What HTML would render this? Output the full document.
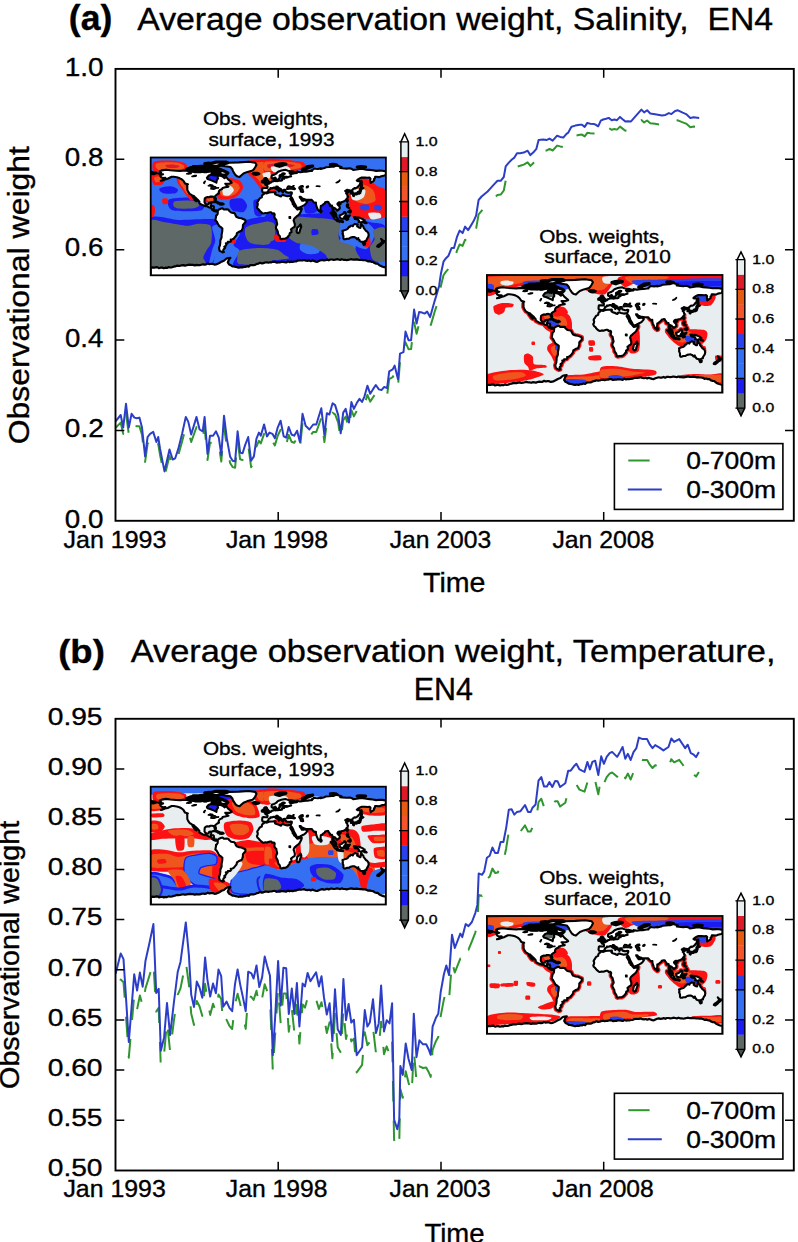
<!DOCTYPE html>
<html><head><meta charset="utf-8"><style>
html,body{margin:0;padding:0;background:#fff;width:798px;height:1242px;overflow:hidden}
svg{display:block}
text{font-family:"Liberation Sans",sans-serif}
</style></head><body>
<svg width="798" height="1242" viewBox="0 0 798 1242" font-family='"Liberation Sans", sans-serif'>
<defs><clipPath id="axa"><rect x="115.5" y="68.9" width="678.3" height="451.9"/></clipPath><clipPath id="axb"><rect x="115.5" y="718.8" width="678.3" height="451.7"/></clipPath></defs>
<rect width="798" height="1242" fill="#fff"/>
<g clip-path="url(#axa)"><path d="M115.6,427.7 120.7,422.6 123.2,433.9 126.0,413.4 128.8,434.0 131.6,422.2 134.4,425.6 136.9,426.3 139.4,426.2 142.0,434.8 145.1,461.9 147.6,443.6 150.1,440.9 153.2,439.6 156.4,448.5 158.2,443.9 160.1,455.2 164.5,476.5 169.5,455.8 172.7,465.3 175.2,464.1 178.3,455.2 182.1,441.4 185.8,427.1 188.3,431.3 191.2,442.0 196.5,427.1 199.6,437.4 202.7,438.9 204.6,426.6 207.5,460.0 210.0,442.7 213.1,442.7 216.0,439.3 218.8,444.9 221.3,461.5 224.0,426.6 226.9,446.6 230.1,462.9 232.6,467.1 235.1,467.7 237.6,440.4 240.1,459.3 242.6,460.0 245.1,452.2 248.2,445.0 251.1,467.2 253.9,463.0 256.4,446.5 258.9,440.9 260.8,443.4 264.1,433.8 267.0,443.8 269.5,440.5 272.4,441.4 274.9,445.4 277.7,435.8 280.6,429.7 283.7,443.5 286.2,444.7 288.7,434.9 291.5,441.7 294.2,442.8 297.1,438.0 299.9,448.7 302.5,423.0 305.6,433.2 309.4,436.7 313.2,432.0 316.3,432.0 321.3,417.8 324.4,442.1 326.9,421.7 329.4,422.7 332.6,412.8 335.1,414.3 338.2,422.7 340.7,439.9 343.2,420.2 345.7,416.6 348.9,429.6 351.4,410.2 353.9,416.4 357.0,410.4 359.5,407.0 362.0,409.7 364.5,404.4 367.4,394.9 370.2,401.6 372.9,397.5 375.8,393.2 378.9,397.1 381.5,397.5 384.2,394.3 387.1,395.4 389.2,379.1 392.7,377.2 394.6,373.4 398.0,386.1 400.0,361.7 403.5,360.4 405.5,342.3 408.5,349.2 411.1,349.1 414.1,322.4 416.6,333.8 419.1,323.6 422.1,323.5 424.6,323.9 427.1,322.0 430.1,327.3 432.1,320.6 434.6,312.0 437.1,304.3 439.1,297.6 441.0,285.5 443.5,275.2 446.0,271.6 448.5,268.9 451.5,261.7 454.0,260.9 457.1,250.3 459.6,244.5 462.6,245.9 465.1,239.7 468.1,242.7 470.6,238.8 473.6,233.9 476.1,228.6 478.6,214.3 481.6,210.8 484.6,208.1 487.6,205.5 490.0,202.8 493.8,198.6 497.5,194.9 500.7,194.6 503.8,190.5 505.7,180.6 508.8,176.6 511.9,173.3 514.4,171.0 517.0,166.6 520.1,165.8 523.8,164.6 527.6,162.3 530.4,165.9 533.2,163.2 536.4,159.4 538.6,151.4 543.3,150.4 546.4,150.6 549.5,148.9 552.7,150.5 557.1,145.6 560.2,146.4 563.3,147.0 566.5,143.3 568.3,142.1 570.0,139.1 571.5,136.7 575.3,135.7 579.8,134.7 582.0,134.6 584.7,136.4 587.3,132.8 590.3,133.3 594.1,133.6 595.9,134.2 598.2,135.6 600.8,130.4 603.1,129.3 606.1,128.7 608.7,127.9 611.7,129.8 614.4,129.0 617.0,129.6 620.0,126.6 622.6,128.6 625.3,130.7 627.9,130.5 631.0,130.7 636.5,124.9 641.4,120.1 644.1,122.4 647.1,120.5 650.3,123.2 655.1,123.8 662.0,124.9 665.5,124.4 668.9,122.8 671.4,123.6 675.1,120.9 677.9,120.3 682.7,122.4 686.1,123.6 690.3,127.2 693.7,126.6 699.2,127.2" fill="none" stroke="#2f962f" stroke-width="2" stroke-dasharray="20.5 19" stroke-dashoffset="0.99" stroke-linejoin="round"/><path d="M115.6,421.3 120.7,415.0 123.2,427.6 126.0,403.8 128.8,427.6 131.6,413.8 134.4,417.6 136.9,418.2 139.4,417.6 142.0,427.6 145.1,456.4 147.6,437.0 150.1,433.8 153.2,431.9 156.4,442.0 158.2,437.0 160.1,448.9 164.5,471.4 169.5,449.5 172.7,459.5 175.2,458.3 178.3,448.9 182.1,433.8 185.8,416.9 188.3,421.9 191.2,434.5 196.5,416.9 199.6,429.5 202.7,431.3 204.6,416.9 207.5,453.9 210.0,435.7 213.1,435.7 216.0,431.3 218.8,437.6 221.3,455.2 224.0,415.7 226.9,438.9 230.1,456.4 232.6,460.8 235.1,461.4 237.6,431.3 240.1,452.6 242.6,453.3 245.1,445.1 248.2,437.0 251.1,460.8 253.9,456.4 256.4,438.9 258.9,432.6 260.8,435.7 264.1,424.4 267.0,436.4 269.5,432.6 272.4,433.8 274.9,438.2 277.7,427.6 280.6,420.7 283.7,436.4 286.2,437.6 288.7,427.0 291.5,434.5 294.2,435.7 297.1,430.7 299.9,442.0 302.5,413.8 305.6,425.8 309.4,429.5 313.2,424.5 316.3,424.5 321.3,408.2 324.4,435.2 326.9,413.2 329.4,414.5 332.6,403.2 335.1,405.1 338.2,415.1 340.7,433.3 343.2,412.6 345.7,408.9 348.9,422.6 351.4,402.0 353.9,408.9 357.0,402.6 359.5,398.8 362.0,402.0 364.5,396.3 367.4,385.7 370.2,393.8 372.9,389.4 375.8,385.0 378.9,389.4 381.5,390.1 384.2,386.9 387.1,388.2 389.2,371.3 392.7,369.4 394.6,365.6 398.0,379.2 400.0,353.7 403.5,352.2 405.5,331.6 408.5,340.2 411.1,340.2 414.1,309.6 416.6,323.6 419.1,312.1 422.1,312.6 424.6,313.6 427.1,311.6 430.1,317.1 432.1,310.1 434.6,301.1 437.1,293.0 439.1,286.0 441.0,273.2 443.5,261.7 446.0,258.2 448.5,255.7 451.5,248.1 454.0,248.1 457.1,236.6 459.6,230.6 462.6,233.1 465.1,226.6 468.1,230.1 470.6,226.1 473.6,221.1 476.1,215.6 478.6,200.0 481.6,196.5 484.6,194.0 487.6,191.5 490.0,188.9 493.8,184.6 497.5,180.8 500.7,180.8 503.8,177.0 505.7,166.4 508.8,162.6 511.9,159.5 514.4,157.6 517.0,153.2 520.1,153.2 523.8,152.6 527.6,150.7 530.4,155.1 533.2,152.6 536.4,148.8 538.6,140.1 543.3,139.4 546.4,140.1 549.5,138.6 552.7,140.7 557.1,135.7 560.2,136.9 563.3,137.6 566.5,133.8 568.3,132.6 570.0,129.3 571.5,126.7 575.3,125.6 579.8,124.7 582.0,124.8 584.7,126.9 587.3,122.9 590.3,123.7 594.1,124.1 595.9,124.8 598.2,126.3 600.8,120.7 603.1,119.5 606.1,118.8 608.7,117.9 611.7,120.3 614.4,119.5 617.0,120.2 620.0,116.9 622.6,119.2 625.3,121.4 627.9,121.2 631.0,121.4 636.5,115.2 641.4,109.6 644.1,112.4 647.1,110.3 650.3,113.5 655.1,114.2 662.0,115.4 665.5,114.9 668.9,113.1 671.4,114.1 675.1,111.0 677.9,110.3 682.7,112.7 686.1,114.1 690.3,117.9 693.7,117.2 699.2,117.9" fill="none" stroke="#2c3ec8" stroke-width="2" stroke-linejoin="round"/></g><g clip-path="url(#axb)"><path d="M115.6,994.8 120.7,979.6 123.5,982.2 125.8,1012.6 128.8,1057.7 134.2,995.2 137.1,1009.3 139.9,995.4 142.7,1006.1 145.5,988.1 149.5,975.5 153.4,962.6 156.2,1011.6 158.7,1007.7 160.8,1066.4 164.1,1053.7 167.0,1021.0 170.1,1051.6 173.9,1020.6 177.7,994.9 180.5,988.4 185.8,961.9 188.9,984.6 191.2,1013.4 194.0,1025.0 196.8,1001.0 199.5,1006.3 202.3,1015.9 205.1,983.8 207.4,999.8 210.2,1014.9 213.0,1003.7 215.9,1012.0 218.5,994.4 221.2,999.1 223.2,1024.8 226.6,1019.9 229.4,1025.8 232.2,1029.0 235.0,1004.2 237.6,993.7 240.1,1003.5 242.9,1015.4 245.7,1028.9 248.2,995.7 251.4,997.0 253.6,1000.0 256.5,990.8 259.3,1005.9 262.1,998.2 264.7,984.3 267.2,991.1 270.0,998.1 272.8,1070.7 275.3,1032.3 278.1,988.4 280.7,1023.8 283.4,993.4 286.2,993.6 288.8,1031.8 291.8,1008.2 294.3,1031.9 296.9,1004.8 299.4,1043.6 302.6,1004.4 305.0,1007.6 307.6,997.9 310.4,1004.8 316.1,999.5 318.9,1008.9 321.5,1002.2 324.0,1017.1 326.8,1032.9 329.6,1022.2 332.4,1058.3 335.0,1013.8 337.7,1047.2 340.9,1052.8 343.4,1008.8 346.0,1039.0 348.6,1027.2 351.3,1041.4 353.9,1038.6 356.7,1072.4 362.1,1064.9 364.8,1032.2 367.4,1045.2 369.8,1041.9 373.0,1027.9 376.0,1053.2 378.7,1047.4 381.1,1021.7 384.0,1054.2 386.7,1046.4 389.5,1054.0 392.1,1040.0 394.1,1140.0 397.3,1149.1 399.3,1140.1 400.4,1089.3 402.8,1097.8 405.7,1071.2 408.5,1082.6 411.7,1093.4 413.8,1050.1 416.5,1081.1 419.4,1066.3 423.0,1068.0 426.2,1067.6 428.6,1071.9 430.7,1076.9 432.6,1049.8 435.9,1041.2 438.3,1036.9 440.7,1016.1 443.9,999.4 446.3,990.7 449.1,998.9 452.0,961.6 454.8,972.5 460.3,958.6 462.3,961.0 465.7,948.3 468.5,949.7 471.9,941.4 475.3,932.6 477.4,924.5 478.7,895.1 482.1,895.8 484.2,892.0 486.9,879.0 489.7,876.6 492.4,868.6 495.1,872.9 497.9,872.6 500.6,861.9 503.4,861.7 506.1,848.7 508.8,831.7 511.6,830.7 514.3,835.1 517.0,832.3 520.5,831.4 525.0,825.4 528.0,831.6 530.7,831.4 532.5,827.3 535.6,824.1 538.5,802.2 541.3,798.7 544.0,806.9 546.9,806.7 549.4,802.5 552.3,806.9 555.1,801.2 557.6,801.3 560.1,806.5 565.3,802.8 568.2,791.1 570.7,791.1 573.9,787.0 576.4,784.6 579.5,789.6 582.0,790.6 584.5,791.7 587.4,782.4 589.9,789.2 592.4,782.1 595.2,780.9 598.3,794.4 601.2,776.8 603.9,783.6 606.7,777.2 609.6,773.7 612.1,772.5 614.6,774.6 617.1,776.8 620.0,772.1 622.6,767.6 625.3,778.4 627.9,773.6 630.7,779.5 633.5,772.0 636.4,768.2 638.9,758.7 642.6,760.0 647.1,759.9 649.9,764.9 652.5,768.0 655.2,765.2 659.5,767.5 663.4,770.2 668.5,766.9 671.3,759.2 674.1,762.3 679.2,759.9 682.6,764.5 685.2,768.1 687.7,765.0 690.8,772.9 693.3,774.0 696.1,776.6 698.9,771.9" fill="none" stroke="#2f962f" stroke-width="2" stroke-dasharray="20.5 19" stroke-dashoffset="24.61" stroke-linejoin="round"/><path d="M115.6,973.7 120.7,953.4 123.5,959.1 125.8,994.6 128.8,1042.0 134.2,974.3 137.1,990.6 139.9,972.6 142.7,986.7 145.5,960.7 149.5,942.7 153.4,924.1 156.2,992.9 158.7,988.9 160.8,1050.8 164.1,1037.4 167.0,1003.0 170.1,1035.1 173.9,1002.5 177.7,972.0 180.5,961.9 185.8,922.4 188.9,955.1 191.2,994.6 194.0,1007.0 196.8,981.6 199.5,987.5 202.3,997.7 205.1,957.6 207.4,979.6 210.2,996.5 213.0,983.6 215.9,993.2 218.5,969.5 221.2,976.2 223.2,1006.7 226.6,1001.6 229.4,1007.8 232.2,1011.2 235.0,984.1 237.6,969.5 240.1,984.1 242.9,997.1 245.7,1011.2 248.2,971.7 251.4,973.4 253.6,978.5 256.5,965.5 259.3,987.0 262.1,977.4 264.7,956.5 267.2,966.1 270.0,975.7 272.8,1055.2 275.3,1014.6 278.1,961.0 280.7,1005.6 283.4,967.8 286.2,968.3 288.8,1014.0 291.8,988.6 294.3,1014.0 296.9,983.0 299.4,1026.4 302.6,983.6 305.0,986.4 307.6,972.9 310.4,981.3 316.1,972.3 318.9,986.4 321.5,976.2 324.0,997.7 326.8,1014.6 329.6,1003.3 332.4,1041.1 335.0,989.2 337.7,1029.2 340.9,1034.9 343.4,979.1 346.0,1020.2 348.6,1003.9 351.3,1022.5 353.9,1019.7 356.7,1055.2 362.1,1047.3 364.8,1010.1 367.4,1026.6 369.8,1022.6 373.0,999.2 376.0,1033.1 378.7,1023.4 381.1,985.6 384.0,1031.4 386.7,1020.2 389.5,1023.4 392.1,1003.3 394.1,1119.6 397.3,1129.2 399.3,1119.6 400.4,1066.1 402.8,1074.9 405.7,1043.5 408.5,1058.8 411.7,1070.1 413.8,1013.7 416.5,1057.2 419.4,1040.3 423.0,1044.3 426.2,1044.3 428.6,1049.2 430.7,1054.8 432.6,1026.6 435.9,1017.8 438.3,1013.7 440.7,992.0 443.9,974.3 446.3,965.4 449.1,975.1 452.0,934.8 454.8,948.0 460.3,933.6 462.3,937.1 465.7,924.1 468.5,926.1 471.9,922.0 475.3,913.1 477.4,904.9 478.7,873.4 482.1,874.8 484.2,871.4 486.9,857.7 489.7,855.7 492.4,847.5 495.1,852.9 497.9,852.9 500.6,842.0 503.4,842.0 506.1,828.3 508.8,809.8 511.6,809.2 514.3,814.6 517.0,811.9 520.5,811.2 525.0,805.0 528.0,811.9 530.7,811.9 532.5,807.7 535.6,804.5 538.5,780.7 541.3,777.0 544.0,786.4 546.9,786.4 549.4,782.0 552.3,787.0 555.1,781.1 557.6,781.3 560.1,787.0 565.3,783.2 568.2,770.7 570.7,770.7 573.9,766.3 576.4,763.8 579.5,769.4 582.0,770.7 584.5,771.9 587.4,761.9 589.9,769.4 592.4,761.9 595.2,760.7 598.3,775.1 601.2,756.3 603.9,763.8 606.7,756.9 609.6,753.1 612.1,751.9 614.6,754.4 617.1,756.9 620.0,751.9 622.6,747.0 625.3,758.8 627.9,753.8 630.7,760.0 633.5,752.1 636.4,748.1 638.9,737.6 642.6,739.1 647.1,739.1 649.9,744.7 652.5,748.1 655.2,745.1 659.5,747.6 663.4,750.4 668.5,747.0 671.3,738.5 674.1,741.9 679.2,739.1 682.6,744.2 685.2,748.1 687.7,744.7 690.8,753.2 693.3,754.3 696.1,757.1 698.9,752.1" fill="none" stroke="#2c3ec8" stroke-width="2" stroke-linejoin="round"/></g>
<path d="M278.2 520.8V512.0M278.2 68.9V77.7M441.0 520.8V512.0M441.0 68.9V77.7M603.7 520.8V512.0M603.7 68.9V77.7M115.5 430.4H124.3M793.8 430.4H785.0M115.5 340.0H124.3M793.8 340.0H785.0M115.5 249.7H124.3M793.8 249.7H785.0M115.5 159.3H124.3M793.8 159.3H785.0" stroke="#000" stroke-width="1.5" fill="none"/><rect x="115.5" y="68.9" width="678.3" height="451.9" fill="none" stroke="#000" stroke-width="1.9"/><path d="M278.2 1170.5V1161.7M278.2 718.8V727.6M441.0 1170.5V1161.7M441.0 718.8V727.6M603.7 1170.5V1161.7M603.7 718.8V727.6M115.5 1120.3H124.3M793.8 1120.3H785.0M115.5 1070.1H124.3M793.8 1070.1H785.0M115.5 1019.9H124.3M793.8 1019.9H785.0M115.5 969.7H124.3M793.8 969.7H785.0M115.5 919.5H124.3M793.8 919.5H785.0M115.5 869.4H124.3M793.8 869.4H785.0M115.5 819.2H124.3M793.8 819.2H785.0M115.5 769.0H124.3M793.8 769.0H785.0" stroke="#000" stroke-width="1.5" fill="none"/><rect x="115.5" y="718.8" width="678.3" height="451.7" fill="none" stroke="#000" stroke-width="1.9"/>
<clipPath id="cm1"><rect x="150.7" y="157.5" width="235.2" height="117.8"/></clipPath><g clip-path="url(#cm1)"><rect x="150.7" y="157.5" width="235.2" height="117.8" fill="#3670f2"/><path d="M149.5 218.8C153.1 213.0 170.8 219.9 178.6 219.9C186.4 219.9 207.0 218.4 212.2 219.1C217.4 219.8 218.9 222.1 219.9 225.2C220.9 228.3 220.5 240.2 219.9 243.6C219.3 247.0 216.3 250.0 215.3 252.7C214.3 255.4 214.3 263.3 212.2 265.0C210.1 266.7 206.3 266.3 198.5 266.5C190.7 266.7 155.6 272.5 149.5 266.5C143.4 260.5 145.9 224.6 149.5 218.8Z" fill="#1b1bf2" /><path d="M239.7 222.2C243.5 220.3 266.2 213.6 270.0 219.1C273.8 224.6 274.6 260.6 270.0 266.5C265.4 272.4 237.4 268.4 233.6 266.5C229.8 264.6 239.7 253.9 239.7 251.2C239.7 248.5 233.6 247.2 233.6 245.1C233.6 243.0 238.9 237.3 239.7 234.4C240.5 231.5 235.9 224.1 239.7 222.2Z" fill="#1b1bf2" /><path d="M265.0 216.1C268.5 210.4 285.0 215.0 293.2 214.6C301.4 214.2 325.1 212.6 330.8 213.0C336.5 213.4 337.0 215.3 338.6 217.7C340.2 220.0 343.3 228.5 343.3 231.8C343.3 235.1 337.4 242.2 338.6 244.3C339.8 246.5 350.1 247.0 352.7 249.0C355.2 251.0 370.0 258.6 359.0 260.0C348.0 261.4 276.8 265.5 265.0 260.0C253.2 254.5 261.5 221.8 265.0 216.1Z" fill="#1b1bf2" /><path d="M352.7 220.8C354.6 218.1 367.4 221.6 371.5 222.4C375.6 223.2 383.8 222.4 385.6 227.1C387.4 231.8 389.3 255.9 385.6 260.0C381.9 264.1 359.6 262.0 355.9 260.0C352.2 258.0 356.3 249.2 355.9 244.3C355.5 239.4 350.8 223.5 352.7 220.8Z" fill="#1b1bf2" /><path d="M160.2 187.9C161.6 187.3 168.7 186.1 170.9 186.3C173.1 186.5 177.2 188.5 177.8 189.4C178.4 190.3 177.1 192.7 175.5 193.2C173.9 193.7 166.8 193.8 164.8 193.5C162.9 193.2 160.5 191.6 159.9 190.9C159.3 190.2 158.8 188.5 160.2 187.9Z" fill="#1b1bf2" /><path d="M169.4 199.3C171.7 198.3 182.3 197.5 186.2 197.5C190.1 197.5 198.4 198.2 200.7 199.0C203.0 199.8 204.8 202.5 204.9 203.9C205.0 205.3 203.8 209.4 201.5 210.3C199.2 211.2 189.8 211.3 186.2 211.3C182.6 211.3 174.8 211.0 172.5 210.3C170.2 209.6 168.6 206.9 168.2 205.5C167.8 204.1 167.2 200.3 169.4 199.3Z" fill="#1b1bf2" /><path d="M230.6 199.6C232.1 198.7 239.9 197.9 242.0 198.6C244.1 199.3 246.9 203.8 247.1 205.5C247.3 207.2 245.3 211.2 243.6 211.9C241.9 212.6 235.3 212.1 233.6 211.3C231.9 210.5 230.2 207.3 229.8 205.8C229.4 204.3 229.1 200.5 230.6 199.6Z" fill="#1b1bf2" /><path d="M207.3 173.3C208.6 172.4 218.1 172.2 219.9 173.0C221.7 173.8 223.0 178.6 221.7 179.5C220.4 180.4 211.0 181.2 209.2 180.4C207.4 179.6 206.0 174.2 207.3 173.3Z" fill="#1b1bf2" /><path d="M304.2 199.6C305.4 197.9 313.5 198.1 315.1 199.6C316.7 201.1 317.9 209.7 316.7 211.4C315.5 213.1 307.3 214.5 305.7 213.0C304.1 211.5 303.0 201.3 304.2 199.6Z" fill="#1b1bf2" /><path d="M321.4 202.0C322.6 200.6 331.0 200.6 332.4 202.0C333.8 203.4 333.6 211.6 332.4 213.0C331.2 214.4 324.4 214.4 323.0 213.0C321.6 211.6 320.2 203.4 321.4 202.0Z" fill="#1b1bf2" /><path d="M301.0 243.5C302.5 242.6 309.6 242.4 312.0 242.8C314.4 243.2 319.0 245.4 319.8 246.7C320.6 248.0 319.9 252.0 318.3 252.9C316.7 253.8 309.6 254.4 307.3 254.0C305.0 253.6 301.0 251.1 300.2 249.8C299.4 248.5 299.5 244.4 301.0 243.5Z" fill="#3670f2" /><path d="M212.2 226.8C212.8 224.9 218.8 223.5 219.9 225.2C221.1 226.9 221.8 237.2 221.4 240.5C221.0 243.8 218.0 248.3 216.8 251.2C215.7 254.1 213.1 262.0 212.2 263.5C211.2 265.0 209.2 265.2 209.2 263.5C209.2 261.8 211.4 252.6 212.2 249.7C213.0 246.8 215.3 243.4 215.3 240.5C215.3 237.6 211.6 228.7 212.2 226.8Z" fill="#3670f2" /><path d="M340.2 222.4C342.0 220.6 349.4 219.3 352.7 219.3C356.0 219.3 364.1 221.0 366.8 222.4C369.5 223.8 373.8 228.0 374.6 230.2C375.4 232.3 374.1 237.2 373.1 239.6C372.1 241.9 368.6 248.0 366.8 249.0C365.0 250.0 360.8 248.1 359.0 247.5C357.2 246.9 354.7 245.1 352.7 244.3C350.7 243.5 345.1 242.6 343.3 241.2C341.5 239.8 339.0 235.8 338.6 233.4C338.2 231.1 338.4 224.2 340.2 222.4Z" fill="#3670f2" /><path d="M149.5 222.5C151.2 216.9 159.7 221.7 163.3 221.9C166.9 222.2 175.6 224.0 178.6 224.5C181.6 225.0 185.2 225.9 187.7 225.8C190.2 225.7 195.7 223.8 198.5 223.7C201.3 223.6 208.2 223.8 209.9 224.9C211.6 226.1 211.8 230.6 211.9 232.9C212.0 235.2 211.6 241.5 211.0 243.6C210.4 245.7 207.9 248.0 206.9 249.7C205.9 251.4 203.8 255.2 203.3 257.3C202.9 259.4 210.0 265.4 203.3 266.5C196.6 267.6 156.2 272.0 149.5 266.5C142.8 261.0 147.8 228.1 149.5 222.5Z" fill="#5e6866" /><path d="M245.8 227.5C247.0 226.2 252.0 224.6 255.0 224.0C258.0 223.4 268.1 220.1 270.0 222.5C271.9 224.9 271.9 240.6 270.0 243.3C268.1 246.0 257.7 244.6 255.0 244.3C252.3 244.1 249.3 242.5 248.1 241.3C246.9 240.1 245.4 236.1 245.1 234.4C244.8 232.7 244.6 228.8 245.8 227.5Z" fill="#5e6866" /><path d="M265.0 222.4C266.2 220.3 273.2 221.8 274.4 224.0C275.6 226.2 275.6 237.5 274.4 239.6C273.2 241.7 266.2 242.6 265.0 240.4C263.8 238.2 263.8 224.5 265.0 222.4Z" fill="#5e6866" /><path d="M239.7 250.5C241.9 249.4 251.2 248.3 255.0 248.2C258.8 248.1 268.1 247.8 270.0 249.7C271.9 251.6 273.8 261.7 270.0 263.5C266.2 265.3 243.8 265.0 239.7 264.2C235.6 263.4 237.4 259.0 237.4 257.3C237.4 255.6 237.5 251.6 239.7 250.5Z" fill="#5e6866" /><path d="M265.0 249.0C266.6 247.7 275.1 249.1 277.5 249.8C279.9 250.5 282.4 253.4 283.8 254.5C285.2 255.6 290.9 257.7 288.5 258.4C286.1 259.1 267.9 261.2 265.0 260.0C262.1 258.8 263.4 250.3 265.0 249.0Z" fill="#5e6866" /><path d="M293.2 216.9C295.8 215.9 307.3 217.4 312.0 217.7C316.7 218.0 327.3 218.5 330.8 219.3C334.3 220.1 339.2 222.2 340.2 224.0C341.2 225.8 338.6 231.2 338.6 233.4C338.6 235.6 338.4 239.6 340.2 241.2C342.0 242.8 350.6 244.3 352.7 245.9C354.8 247.5 356.6 251.9 357.4 253.7C358.2 255.5 362.3 259.2 359.0 260.0C355.7 260.8 335.1 260.8 330.8 260.0C326.5 259.2 326.9 255.5 324.5 253.7C322.1 251.9 315.5 247.3 312.0 245.9C308.5 244.5 299.2 244.0 296.3 242.8C293.4 241.6 289.1 238.7 288.5 236.5C287.9 234.3 291.0 227.9 291.6 225.5C292.2 223.1 290.6 217.9 293.2 216.9Z" fill="#5e6866" /><path d="M373.1 230.2C374.5 228.8 384.0 225.0 385.6 228.7C387.2 232.4 387.2 256.1 385.6 260.0C384.0 263.9 375.1 261.6 373.1 260.0C371.1 258.4 369.7 250.1 369.9 247.5C370.1 244.9 374.2 241.8 374.6 239.6C375.0 237.4 371.7 231.6 373.1 230.2Z" fill="#5e6866" /><path d="M174.3 201.6C175.9 200.9 183.4 200.6 186.2 200.6C189.0 200.6 195.0 201.0 196.6 201.6C198.2 202.2 199.5 204.7 199.2 205.5C198.9 206.3 196.5 207.8 193.9 208.2C191.3 208.6 181.1 208.8 178.6 208.5C176.1 208.2 174.2 207.1 173.7 206.2C173.2 205.3 172.7 202.3 174.3 201.6Z" fill="#5e6866" /><path d="M312.0 229.4C312.7 228.7 316.7 228.8 317.5 229.4C318.3 230.0 319.0 233.4 318.3 234.1C317.6 234.8 312.8 235.5 312.0 234.9C311.2 234.3 311.3 230.1 312.0 229.4Z" fill="#1b1bf2" /><path d="M153.4 161.9C154.7 160.7 160.5 160.6 163.3 160.5C166.1 160.4 172.7 160.4 175.5 160.8C178.3 161.2 184.1 162.6 185.5 163.4C186.9 164.2 187.2 166.6 187.0 167.5C186.8 168.4 184.9 170.4 183.5 170.9C182.1 171.4 177.7 171.4 175.5 171.5C173.3 171.6 168.6 171.7 166.3 171.8C164.0 171.9 158.9 172.3 157.2 172.1C155.5 171.9 153.4 171.3 152.9 170.0C152.4 168.7 152.1 163.1 153.4 161.9Z" fill="#fc1212" /><path d="M156.4 163.4C157.7 162.8 163.5 162.4 166.3 162.3C169.1 162.2 176.3 162.4 178.6 162.9C180.9 163.4 184.0 165.2 184.4 166.0C184.8 166.8 183.6 169.2 181.9 169.7C180.2 170.2 173.6 170.2 170.9 170.3C168.2 170.4 162.1 170.9 160.2 170.6C158.3 170.2 156.4 168.4 155.9 167.5C155.4 166.6 155.1 164.1 156.4 163.4Z" fill="#ef561e" /><path d="M165.6 165.1C166.3 164.7 171.5 164.4 173.2 164.5C174.9 164.6 178.8 165.6 179.3 166.0C179.8 166.4 178.4 167.6 177.0 167.8C175.6 168.0 169.3 168.1 167.9 167.8C166.5 167.5 164.9 165.5 165.6 165.1Z" fill="#dc1a2a" /><path d="M152.3 174.6C153.6 173.9 160.9 173.7 162.5 174.3C164.1 174.9 165.2 178.2 165.1 179.5C165.0 180.8 163.5 183.8 162.1 184.4C160.7 185.1 155.4 185.3 154.1 184.7C152.8 184.1 152.2 180.8 152.0 179.5C151.8 178.2 151.0 175.2 152.3 174.6Z" fill="#fc1212" /><path d="M154.4 177.2C155.0 176.5 159.5 176.3 160.5 176.7C161.5 177.1 162.7 180.0 162.1 180.7C161.5 181.4 156.9 182.6 155.9 182.2C154.9 181.8 153.8 177.9 154.4 177.2Z" fill="#ef561e" /><path d="M177.0 177.9C177.8 177.1 182.1 175.4 183.5 176.4C184.9 177.4 187.0 183.3 188.1 185.6C189.2 187.8 191.2 192.7 192.0 194.4C192.8 196.2 194.3 198.8 194.2 199.6C194.0 200.4 191.8 201.2 190.8 200.6C189.8 200.0 187.5 196.8 186.2 195.1C184.9 193.4 181.8 188.9 180.7 187.4C179.6 185.9 178.0 184.0 177.5 182.8C177.0 181.6 176.2 178.7 177.0 177.9Z" fill="#fc1212" /><path d="M179.3 180.7C179.6 180.2 181.5 178.7 182.4 179.5C183.3 180.3 185.3 185.4 186.2 187.1C187.1 188.8 189.2 192.3 189.3 193.2C189.4 194.1 187.9 194.8 187.1 194.1C186.3 193.4 184.1 189.2 183.2 187.9C182.3 186.6 180.6 184.6 180.1 183.7C179.6 182.8 179.0 181.2 179.3 180.7Z" fill="#ef561e" /><path d="M162.1 199.0C162.6 198.3 166.3 198.1 167.1 198.6C167.9 199.1 168.7 202.5 168.2 203.2C167.7 203.9 164.1 204.7 163.3 204.2C162.5 203.7 161.6 199.7 162.1 199.0Z" fill="#fc1212" /><path d="M149.5 205.1C150.1 203.8 153.4 205.0 154.1 205.8C154.8 206.6 155.1 210.3 155.0 211.6C154.9 212.9 154.2 215.9 153.5 216.5C152.8 217.1 150.0 217.9 149.5 216.5C149.0 215.1 148.9 206.4 149.5 205.1Z" fill="#fc1212" /><path d="M215.3 180.7C216.7 178.2 225.9 177.9 229.0 177.9C232.1 177.9 237.9 179.5 239.7 180.7C241.5 181.8 243.1 185.5 243.1 187.1C243.1 188.7 241.2 191.8 240.0 193.2C238.8 194.6 235.8 197.3 233.9 198.1C232.0 198.9 226.4 199.6 224.4 199.6C222.4 199.6 219.1 200.5 218.0 198.1C216.9 195.7 213.9 183.2 215.3 180.7Z" fill="#fc1212" /><path d="M219.5 182.8C220.7 181.0 228.3 180.8 230.6 181.0C232.9 181.2 236.8 183.1 237.9 184.0C239.0 184.9 240.0 187.3 239.7 188.6C239.4 189.8 236.9 193.0 235.4 194.0C233.9 195.0 229.3 196.5 227.5 196.6C225.7 196.7 222.1 196.8 221.1 195.1C220.1 193.4 218.3 184.6 219.5 182.8Z" fill="#ef561e" /><path d="M222.6 187.4C223.5 186.2 229.2 185.6 230.6 185.9C232.0 186.2 234.1 189.0 233.9 190.2C233.7 191.4 230.6 194.8 229.3 195.4C228.0 196.0 224.3 196.1 223.5 195.1C222.7 194.1 221.7 188.6 222.6 187.4Z" fill="#e8edef" /><path d="M204.3 197.0C205.6 196.5 212.6 196.1 214.0 196.6C215.4 197.1 216.2 200.1 215.6 200.9C215.0 201.7 210.6 202.7 209.2 202.7C207.8 202.7 204.6 201.6 204.0 200.9C203.4 200.2 203.1 197.5 204.3 197.0Z" fill="#fc1212" /><path d="M206.9 198.1C207.5 197.7 212.2 197.5 213.0 197.8C213.8 198.1 214.3 200.2 213.7 200.6C213.1 201.0 209.2 201.5 208.4 201.2C207.6 200.9 206.3 198.5 206.9 198.1Z" fill="#ef561e" /><path d="M241.6 162.6C244.4 161.0 266.4 156.9 270.0 160.8C273.6 164.7 270.7 189.9 270.0 194.0C269.3 198.1 266.1 194.8 264.2 193.2C262.3 191.6 257.1 183.5 255.0 181.0C252.9 178.5 249.1 175.6 247.4 173.3C245.7 171.0 238.8 164.2 241.6 162.6Z" fill="#fc1212" /><path d="M245.8 164.9C248.2 163.8 267.0 160.2 270.0 163.4C273.0 166.7 270.5 187.6 270.0 190.9C269.5 194.2 267.2 191.6 265.7 190.2C264.2 188.8 260.0 181.8 258.1 179.5C256.2 177.2 251.9 173.6 250.4 171.8C248.9 170.0 243.4 166.0 245.8 164.9Z" fill="#ef561e" /><path d="M253.5 200.9C254.3 199.0 259.8 198.5 261.1 199.3C262.4 200.1 264.2 204.9 264.2 207.0C264.2 209.1 262.2 215.2 261.1 216.2C260.0 217.1 255.9 216.5 255.0 214.6C254.1 212.7 252.7 202.8 253.5 200.9Z" fill="#1b1bf2" /><path d="M265.0 159.7C267.4 157.9 279.1 159.4 283.8 159.7C288.5 160.0 299.8 161.0 302.6 162.0C305.4 163.0 306.8 166.4 306.0 167.5C305.2 168.6 299.5 170.1 296.3 170.7C293.1 171.3 284.6 171.8 280.7 172.2C276.8 172.6 267.0 175.4 265.0 173.8C263.0 172.2 262.6 161.5 265.0 159.7Z" fill="#fc1212" /><path d="M265.0 162.0C267.4 160.9 279.5 161.4 283.8 161.6C288.1 161.8 297.4 162.9 299.5 163.6C301.6 164.3 302.4 166.7 301.0 167.5C299.6 168.3 293.0 169.5 288.5 169.9C284.0 170.3 267.9 171.7 265.0 170.7C262.1 169.7 262.6 163.1 265.0 162.0Z" fill="#ef561e" /><path d="M268.1 164.4C269.9 163.8 280.5 163.5 283.8 163.6C287.1 163.7 294.2 164.7 294.8 165.2C295.4 165.7 291.6 167.1 288.5 167.5C285.4 167.9 272.2 168.7 269.7 168.3C267.1 167.9 266.3 165.0 268.1 164.4Z" fill="#dc1a2a" /><path d="M262.7 173.3C263.4 172.6 269.1 171.5 270.0 172.1C270.9 172.7 270.7 177.2 270.0 177.9C269.3 178.6 265.1 178.5 264.2 177.9C263.3 177.3 262.0 174.0 262.7 173.3Z" fill="#e8edef" /><path d="M271.3 166.7C272.9 166.0 284.5 165.8 286.9 166.3C289.2 166.8 291.7 170.0 290.1 170.7C288.5 171.4 276.8 172.7 274.4 172.2C272.0 171.7 269.7 167.4 271.3 166.7Z" fill="#e8edef" /><path d="M268.1 187.1C268.9 186.4 273.9 186.4 274.7 187.1C275.5 187.8 275.5 191.9 274.7 192.6C273.9 193.3 268.9 193.3 268.1 192.6C267.3 191.9 267.3 187.8 268.1 187.1Z" fill="#fc1212" /><path d="M348.0 181.6C350.4 179.4 361.6 177.9 365.3 178.5C369.0 179.1 375.3 184.7 377.8 186.3C380.3 187.9 384.6 187.2 385.6 191.0C386.6 194.8 389.7 213.8 385.6 217.0C381.5 220.2 357.2 218.5 352.7 217.0C348.2 215.5 350.4 207.8 349.6 205.1C348.8 202.4 346.7 198.6 346.5 195.7C346.3 192.8 345.6 183.8 348.0 181.6Z" fill="#fc1212" /><path d="M352.7 187.1C354.0 185.7 361.1 184.4 363.7 184.8C366.2 185.2 371.6 188.2 373.1 190.2C374.6 192.1 376.2 198.7 375.4 200.4C374.6 202.1 369.1 203.7 366.8 203.9C364.6 204.1 359.1 203.0 357.4 202.0C355.7 201.0 354.1 197.6 353.5 195.7C352.9 193.8 351.4 188.5 352.7 187.1Z" fill="#ef561e" /><path d="M350.8 191.0C351.7 189.7 357.2 188.8 359.0 188.7C360.8 188.6 364.7 189.1 365.3 190.2C365.9 191.3 364.7 196.0 363.7 197.3C362.7 198.6 358.9 200.2 357.4 200.4C355.9 200.6 352.7 200.1 351.9 198.9C351.1 197.7 349.9 192.3 350.8 191.0Z" fill="#e8edef" /><path d="M360.6 205.1C361.5 204.4 367.3 204.2 368.4 204.8C369.5 205.4 370.1 209.1 369.2 209.8C368.3 210.5 362.4 210.7 361.3 210.1C360.2 209.5 359.7 205.8 360.6 205.1Z" fill="#2a42ee" /><path d="M374.6 205.1C375.3 204.5 380.1 204.5 380.9 205.1C381.7 205.7 381.9 209.5 381.2 210.1C380.5 210.7 375.8 210.7 375.0 210.1C374.2 209.5 373.9 205.7 374.6 205.1Z" fill="#2a42ee" /><path d="M368.4 213.0C369.4 212.2 377.7 212.4 379.3 213.0C380.9 213.6 381.9 216.9 380.9 217.7C379.9 218.5 373.1 219.9 371.5 219.3C369.9 218.7 367.4 213.8 368.4 213.0Z" fill="#e8edef" /><path d="M274.4 234.9C275.6 234.1 284.0 234.1 285.4 234.9C286.8 235.7 286.9 240.7 285.7 241.5C284.5 242.3 277.4 242.3 276.0 241.5C274.6 240.7 273.2 235.7 274.4 234.9Z" fill="#fc1212" /><path d="M363.4 236.5C364.1 235.3 368.7 235.3 369.6 236.5C370.5 237.7 371.0 244.7 370.3 245.9C369.6 247.1 364.9 247.4 364.0 246.2C363.1 245.0 362.7 237.7 363.4 236.5Z" fill="#fc1212" /><path d="M230.3 238.7C230.9 238.2 234.8 238.2 235.4 238.7C236.0 239.2 236.0 242.5 235.4 243.0C234.8 243.5 231.2 243.5 230.6 243.0C230.0 242.5 229.7 239.2 230.3 238.7Z" fill="#fc1212" /><path d="M159.8 171.3L161.8 170.4L166.1 169.7L170.3 170.3L176.2 170.8L180.1 170.9L184.7 170.5L189.9 171.2L193.2 171.4L197.7 171.6L204.3 171.9L206.2 171.9L209.5 171.6L212.8 170.9L214.7 172.6L212.1 174.5L208.8 175.5L206.9 177.8L207.5 179.1L210.8 180.1L214.7 181.7L216.4 182.7L216.7 180.4L218.0 178.4L217.3 175.6L220.6 175.8L222.6 176.5L224.5 178.1L226.2 176.9L228.1 179.4L231.1 181.7L231.7 182.7L229.1 183.7L225.2 183.7L226.2 184.3L226.5 185.6L228.4 186.6L225.2 187.3L222.6 187.9L222.2 189.0L220.0 189.9L219.0 191.2L218.6 192.5L219.0 193.4L217.3 194.3L215.4 195.8L215.2 197.1L216.0 198.7L215.8 199.9L214.9 199.7L214.3 198.4L214.2 197.1L213.4 196.8L212.1 196.5L210.2 196.6L209.5 197.3L207.5 197.0L206.2 197.4L204.8 198.4L204.6 200.0L204.5 202.3L205.3 203.6L206.6 204.5L208.5 204.3L209.2 202.7L211.5 202.3L211.1 204.3L210.6 205.9L213.4 206.1L213.9 206.9L213.7 208.9L214.7 210.5L216.4 210.2L217.7 210.8L216.4 211.5L215.4 211.5L213.7 210.8L212.3 209.9L211.1 207.9L208.5 207.2L206.6 205.9L205.3 206.1L203.0 205.3L199.4 203.3L199.4 201.7L197.7 199.7L194.8 197.1L193.5 195.8L193.8 196.8L195.1 198.7L196.4 201.3L195.1 200.4L193.8 198.4L192.8 197.1L191.9 195.1L189.6 193.8L188.3 191.9L187.3 189.9L187.3 186.3L187.0 184.7L187.9 184.3L185.0 183.4L183.4 180.7L181.4 179.1L179.4 178.1L176.8 177.3L173.6 176.8L171.6 176.8L169.6 177.8L167.7 178.8L165.1 179.4L162.5 180.4L160.8 180.7L163.8 179.8L165.4 177.9L162.5 178.0L160.8 176.8L160.2 175.8L160.8 175.0L163.1 174.2L159.8 174.1L158.5 173.5L161.2 172.9L159.8 171.3ZM220.6 165.4L223.9 163.7L229.1 162.7L238.9 162.4L248.7 161.8L255.2 162.7L256.5 164.7L255.2 167.3L253.9 169.3L252.6 170.6L247.4 171.9L243.5 173.5L240.9 175.8L239.6 177.1L237.6 176.6L235.6 175.2L234.3 173.2L233.0 171.2L232.4 169.3L230.4 167.0L225.2 166.3L220.6 165.4ZM217.7 210.8L219.0 209.5L221.3 208.5L222.6 208.4L223.9 209.5L226.5 209.4L228.4 209.5L229.1 210.8L231.1 212.5L234.3 213.1L235.0 213.8L235.6 215.4L236.6 217.1L239.2 218.0L241.5 218.3L243.1 219.0L245.4 220.0L245.4 222.3L244.1 223.6L243.0 224.9L242.8 227.9L242.2 229.5L241.5 230.8L239.6 231.5L236.9 233.1L236.6 235.1L235.3 236.7L233.7 238.7L232.4 239.3L230.7 239.6L231.1 240.9L230.4 241.7L227.8 241.9L227.7 243.2L225.8 243.2L226.6 244.2L225.6 245.9L224.2 246.8L225.2 247.8L223.5 249.4L223.2 250.6L223.9 252.1L222.6 252.4L221.3 251.7L219.6 250.8L219.0 247.8L220.0 245.2L220.3 242.6L220.3 240.6L221.6 237.3L221.6 234.7L222.2 231.5L222.4 228.5L221.3 227.5L219.3 226.2L218.5 224.9L216.7 221.6L215.4 220.3L215.7 218.4L216.0 217.1L216.0 215.7L216.8 215.1L217.7 213.8L217.8 211.8L217.7 210.8ZM262.4 188.3L262.1 190.9L262.6 192.2L264.4 192.5L264.7 192.8L267.0 192.3L268.3 191.2L268.5 189.9L270.4 188.9L270.4 188.1L272.2 188.2L273.5 187.6L274.5 187.5L275.2 188.3L276.1 189.0L278.4 190.2L278.8 191.5L279.4 190.9L280.4 190.1L279.1 189.2L277.4 188.6L276.5 187.3L276.3 186.6L277.3 186.6L277.8 186.8L278.4 187.7L280.1 188.6L281.0 189.2L280.9 190.2L282.0 191.5L283.0 192.5L283.3 191.7L284.0 191.2L283.2 189.9L284.0 189.7L285.3 189.7L285.4 190.5L285.8 191.2L286.1 192.2L286.9 192.4L288.2 192.6L289.5 192.8L290.8 192.3L291.8 192.5L291.8 193.5L291.2 194.8L290.6 195.9L291.1 197.1L292.1 198.1L293.1 200.0L293.8 202.0L295.1 204.3L296.3 206.6L296.7 208.1L297.7 208.0L300.0 207.2L302.3 206.1L304.6 204.9L305.5 204.0L306.5 203.0L307.4 201.7L306.5 201.0L305.1 200.1L305.0 199.3L304.6 199.7L303.6 200.6L302.0 200.6L301.8 199.4L301.1 199.4L301.0 198.7L300.0 197.7L299.7 196.8L300.6 196.8L301.3 197.4L301.9 198.2L304.0 199.1L305.5 199.5L308.5 199.9L311.7 199.8L312.4 200.7L313.2 201.7L314.4 202.7L315.9 202.5L315.9 204.0L316.3 205.9L317.2 208.1L318.1 210.2L318.9 211.2L319.4 210.6L320.5 209.7L320.7 207.6L320.8 206.0L322.0 205.5L323.2 204.4L324.8 203.3L325.1 202.3L326.1 202.0L327.4 201.7L328.3 201.9L328.7 202.9L329.9 204.5L329.9 205.9L332.0 205.6L332.3 207.2L332.7 209.5L332.5 211.2L333.8 212.1L333.8 213.8L334.6 214.6L335.9 215.5L336.4 215.4L335.9 213.5L335.1 212.3L334.0 211.5L333.4 210.2L333.2 208.5L333.6 207.6L334.3 208.1L335.3 208.4L335.6 209.2L336.4 209.5L336.9 210.7L337.9 210.2L338.5 209.5L339.6 208.8L339.8 207.6L339.4 206.3L338.0 205.0L337.4 204.0L337.9 203.0L338.9 202.3L339.8 202.3L340.5 203.1L340.8 202.4L342.1 201.9L343.4 201.5L344.7 201.0L346.0 199.9L346.7 198.7L347.7 197.7L348.0 196.4L347.5 196.1L347.4 195.1L347.0 194.1L346.2 193.5L347.0 192.8L348.3 192.2L347.4 191.7L346.0 191.9L345.4 191.2L345.2 190.9L346.0 190.5L347.4 189.7L348.0 189.9L347.7 190.9L348.7 190.4L349.5 190.3L350.2 190.5L349.8 191.5L350.9 191.9L350.9 193.8L351.6 193.8L352.8 193.4L352.9 192.3L352.1 191.1L351.6 190.4L352.9 189.6L353.0 189.2L353.8 188.7L354.5 188.1L355.5 188.4L356.8 187.7L358.1 186.7L358.8 185.6L360.0 184.7L360.1 183.4L360.7 182.2L359.4 181.1L357.8 181.1L356.8 180.5L358.1 179.4L360.1 178.2L361.7 177.6L365.0 177.6L367.6 177.8L369.6 177.6L370.5 178.6L370.2 180.4L370.7 183.0L371.9 182.0L372.8 181.6L374.1 180.5L373.9 179.2L374.8 178.6L375.1 176.8L376.1 176.8L379.4 177.1L381.3 176.2L384.6 175.5L385.2 175.2L385.9 173.9L385.9 171.4L382.6 170.7L379.4 170.6L376.1 170.9L372.8 170.3L369.6 169.9L366.3 169.6L363.0 169.0L359.8 169.0L356.5 169.5L353.2 169.9L351.9 169.0L350.0 168.3L346.7 168.6L342.1 168.2L340.2 168.0L341.5 167.0L338.2 166.0L336.2 165.5L333.6 166.7L331.7 166.7L329.1 167.0L325.8 167.3L324.5 168.0L320.6 169.0L320.9 168.3L318.0 169.0L315.7 168.8L314.0 168.6L313.1 169.6L311.9 170.1L312.1 170.9L310.1 171.0L307.5 171.4L306.2 171.6L303.6 171.7L300.3 172.2L298.4 171.9L297.0 171.6L296.7 172.2L297.0 172.9L294.4 173.2L290.5 174.2L289.5 172.9L291.8 172.7L295.1 172.2L294.8 171.9L291.8 171.2L289.9 171.0L287.9 170.7L285.9 169.9L284.0 170.0L281.4 170.6L279.4 171.2L278.1 171.8L277.1 172.6L276.5 173.5L275.2 174.2L273.9 174.8L271.9 175.5L271.6 176.5L271.6 177.8L272.2 178.4L273.2 178.4L274.8 177.8L275.2 177.5L275.6 177.9L276.1 178.8L276.6 179.4L276.5 179.9L277.6 180.1L277.8 179.6L278.9 179.4L279.1 178.8L279.1 178.1L280.1 177.6L280.6 176.9L279.6 176.5L279.6 175.5L281.0 174.8L282.0 174.2L282.3 173.5L283.7 173.3L284.8 173.7L284.3 174.2L282.7 175.2L282.3 176.5L283.0 176.9L284.6 176.9L286.6 176.8L287.9 177.3L286.6 177.5L284.2 177.5L283.7 178.1L284.1 178.8L282.7 178.7L282.0 179.2L282.2 180.3L281.4 180.6L280.5 180.7L279.1 180.7L277.6 181.1L276.1 180.9L275.5 181.1L275.4 180.5L274.8 180.4L275.2 179.4L275.2 178.7L273.9 179.0L273.6 180.1L274.0 181.1L272.9 181.4L271.6 181.6L271.2 182.2L270.6 182.8L269.3 183.1L269.3 183.5L268.3 183.9L267.3 183.9L267.3 184.5L265.4 184.7L265.5 185.1L266.9 185.6L267.5 186.3L267.5 187.3L267.3 188.0L265.7 188.0L263.1 187.8L262.4 188.3ZM150.7 173.9L154.0 174.2L155.6 173.5L156.9 173.2L155.9 172.6L153.3 172.2L150.7 171.4ZM264.6 183.6L266.0 183.4L269.2 182.9L269.4 181.9L268.5 181.5L268.1 180.7L267.3 180.0L266.9 178.7L265.9 178.6L266.3 178.0L265.0 178.0L264.2 178.8L264.6 179.6L264.3 180.1L265.2 180.5L266.1 180.5L266.3 181.1L266.3 181.5L265.3 181.8L264.9 182.6L266.1 182.8L264.6 183.6ZM264.4 182.2L264.2 181.1L264.5 180.7L263.5 180.2L262.8 180.5L262.9 180.9L261.8 181.2L261.8 182.3L262.9 182.6L264.4 182.2ZM253.9 174.5L252.6 173.5L253.9 172.9L257.8 172.9L259.4 173.7L258.8 174.3L256.1 174.9L253.9 174.5ZM264.4 193.0L267.0 193.4L269.0 192.5L271.6 192.3L273.9 192.3L275.4 192.1L275.6 192.8L275.0 193.8L275.4 194.3L276.6 194.9L278.2 195.3L280.1 196.2L281.1 196.4L281.4 195.6L282.7 194.9L284.6 195.6L287.2 196.2L289.3 195.9L290.6 195.9L291.1 197.1L290.7 198.2L290.2 198.7L291.5 200.8L292.6 202.7L292.7 204.2L293.5 204.6L294.2 206.3L295.2 206.9L296.1 208.1L296.6 208.6L297.4 209.6L299.3 209.1L301.8 208.6L301.6 209.5L301.2 210.8L300.3 212.5L299.7 213.7L298.7 214.8L297.0 216.1L295.6 217.4L294.6 218.2L293.9 219.5L293.6 220.7L294.1 221.6L294.4 223.1L294.8 223.6L294.8 225.7L294.5 226.9L292.7 227.9L292.0 228.7L291.0 229.4L291.4 230.8L291.5 232.1L289.9 233.0L289.6 233.5L289.5 235.1L288.7 235.6L287.9 236.9L286.6 238.0L285.5 238.5L285.2 238.7L283.0 238.7L281.4 239.2L280.3 238.7L280.2 237.6L279.7 236.0L278.9 235.1L278.2 234.1L277.7 231.3L277.1 230.1L276.0 228.2L275.9 227.3L276.3 225.9L277.2 224.3L276.9 222.8L276.3 220.3L276.3 219.7L275.5 219.0L274.5 217.7L274.4 216.1L274.7 214.8L274.6 214.1L273.9 213.3L272.2 213.6L271.2 212.3L270.1 212.3L268.3 212.8L267.0 213.3L265.4 213.0L263.4 213.5L262.4 213.2L260.9 211.9L259.7 210.8L259.4 210.2L258.5 209.3L257.4 208.3L256.9 206.8L257.5 205.9L257.8 204.3L257.7 203.6L257.2 202.7L257.5 201.8L258.5 200.4L259.3 199.0L260.1 198.1L261.8 197.4L261.9 195.9L262.7 194.7L263.9 194.1L264.4 193.0ZM300.5 224.3L301.3 226.3L300.8 227.9L300.0 230.1L299.3 232.6L298.0 233.2L297.0 232.6L296.6 231.1L296.9 229.8L297.3 227.5L298.7 226.7L299.7 225.4L300.5 224.3ZM342.5 230.8L342.9 233.4L342.5 233.7L343.4 236.0L343.4 238.3L344.1 239.3L345.4 239.3L346.7 238.7L349.0 238.6L350.6 237.5L352.6 237.1L354.1 237.0L356.0 237.9L357.1 239.2L358.3 238.0L358.3 239.6L359.5 240.0L359.6 240.9L360.4 241.5L362.1 241.8L363.9 241.9L365.0 241.1L366.3 240.9L366.4 240.0L367.1 238.7L368.2 236.9L368.7 235.1L368.3 233.1L366.8 231.2L366.0 231.0L364.7 229.2L363.7 228.0L363.2 226.2L362.1 225.6L361.4 223.4L360.9 224.8L360.9 226.2L360.4 227.9L359.4 227.8L358.2 227.0L357.1 226.3L357.7 224.4L356.5 224.3L354.9 223.9L354.2 224.4L353.3 225.0L352.9 226.2L351.8 225.8L350.6 225.7L349.6 227.1L348.7 227.1L347.9 228.6L346.6 229.5L345.1 229.9L343.2 230.7L342.5 230.8ZM362.8 243.0L365.2 243.2L365.0 244.5L363.7 244.9L362.8 243.0ZM381.1 238.9L382.3 240.0L383.2 240.7L384.9 241.1L383.9 242.3L382.6 243.6L382.3 242.6L381.8 242.1L382.4 240.9L381.1 238.9ZM381.2 242.9L382.2 243.7L381.2 244.9L380.0 245.9L378.7 246.9L377.1 246.5L377.7 245.4L379.7 244.2L381.2 242.9ZM353.8 194.1L354.9 193.2L356.8 193.1L357.7 192.1L359.4 191.5L359.8 189.9L360.7 189.3L361.1 190.5L360.4 192.2L360.3 193.0L359.6 193.5L359.0 193.8L357.8 193.8L356.5 194.5L354.9 194.0L353.8 194.1ZM353.0 194.6L353.9 194.2L354.3 195.1L353.9 196.1L353.1 195.8L353.0 194.6ZM359.8 189.2L360.6 188.1L360.9 186.7L362.1 187.4L363.4 188.1L361.9 188.9L360.7 188.6L359.8 189.2ZM361.1 186.3L362.1 185.8L361.7 184.0L361.9 182.0L361.4 180.9L361.1 183.0L361.1 186.3ZM346.8 201.3L347.7 199.8L347.9 200.4L347.4 202.0L346.8 201.3ZM339.3 203.8L340.5 203.2L340.8 203.6L340.2 204.4L339.3 204.3L339.3 203.8ZM320.5 212.1L320.4 210.8L320.7 210.0L321.4 210.8L321.7 211.5L321.4 212.3L320.6 212.5L320.5 212.1ZM330.6 212.8L332.0 213.0L333.8 214.8L336.2 217.1L337.6 218.4L337.6 220.2L336.6 220.3L334.9 219.0L333.6 217.1L332.7 215.3L330.6 212.8ZM337.0 220.9L338.9 220.5L340.5 220.9L341.8 220.9L343.1 221.5L343.1 222.1L340.8 221.8L338.9 221.5L337.2 221.0L337.0 220.9ZM339.5 215.4L339.8 217.1L340.5 218.4L342.8 218.7L344.4 218.7L344.1 217.1L345.3 215.7L345.9 213.1L345.1 212.1L344.1 212.1L343.7 213.1L342.5 214.1L341.1 214.8L339.5 215.4ZM346.4 220.0L346.0 218.7L345.9 218.2L346.4 216.2L346.7 215.9L349.0 215.9L350.0 215.4L349.3 216.2L347.4 216.1L347.4 217.1L348.9 217.0L347.7 217.6L348.3 219.3L347.7 219.5L347.0 218.3L347.0 220.0L346.4 220.0ZM353.9 217.1L355.8 217.1L356.5 218.6L358.1 217.4L360.4 218.1L363.0 219.2L363.7 220.0L364.7 220.3L364.3 221.5L366.0 222.6L366.6 223.3L364.3 222.9L363.4 221.6L362.1 221.8L361.7 222.4L360.4 222.4L359.1 221.7L358.5 221.9L359.0 221.0L358.5 219.9L356.8 219.3L354.9 219.0L354.5 218.2L355.4 217.8L354.5 217.7L353.9 217.1ZM346.7 205.9L347.1 204.3L348.1 204.3L348.2 205.6L347.7 206.0L348.0 207.2L349.3 207.9L349.0 208.2L347.7 207.4L347.1 207.0L346.7 205.9ZM348.0 211.8L349.1 211.2L350.3 210.0L350.9 211.5L350.6 212.3L350.0 212.7L349.3 212.3L348.0 211.8ZM212.8 202.1L214.7 201.2L216.0 201.3L218.0 202.2L219.8 203.1L217.7 203.4L217.3 202.8L215.7 202.2L214.4 201.9L212.8 202.1ZM219.6 204.4L220.7 203.4L222.6 203.4L223.7 204.2L221.7 204.8L219.6 204.4Z" fill="#fff" stroke="#000" stroke-width="2.1" stroke-linejoin="round"/><path d="M216.0 168.3L221.3 169.9L224.5 171.2L227.8 172.9L226.2 174.8L222.6 175.3L220.0 174.2L217.3 174.2L220.0 172.6L216.0 170.9L212.1 170.3L210.8 168.6L216.0 168.3ZM209.5 163.7L216.0 162.1L225.8 162.1L227.8 162.7L221.3 164.7L217.3 166.3L209.5 166.0L209.5 163.7ZM191.2 168.6L199.7 168.3L203.0 169.9L201.0 171.6L195.1 171.6L191.2 170.6L191.2 168.6ZM186.6 169.3L191.2 167.6L193.2 168.3L189.9 169.6L186.6 169.3ZM205.6 166.0L216.0 166.3L216.0 167.6L208.2 167.6L205.6 166.0ZM193.2 166.7L199.7 166.3L204.3 167.3L197.7 167.5L193.2 166.7ZM204.9 168.3L209.5 168.1L210.2 169.6L206.2 169.6L204.9 168.3ZM212.1 173.2L216.0 173.9L215.4 174.8L212.1 174.5L212.1 173.2ZM275.5 165.0L278.8 164.0L282.7 163.7L285.9 164.0L282.0 165.4L279.4 166.3L277.4 165.8L275.5 165.0ZM302.3 169.6L304.9 168.3L307.5 166.7L312.7 166.0L310.1 167.1L306.2 168.6L304.9 170.1L302.3 169.6ZM330.4 164.7L333.6 164.4L336.9 165.0L333.6 165.5L330.4 164.7ZM357.2 167.0L361.1 166.7L365.6 167.0L362.4 167.4L357.2 167.0ZM204.9 163.7L209.5 163.1L211.5 164.0L208.2 165.0L204.9 163.7ZM201.7 168.3L204.3 168.1L204.9 169.3L202.3 169.4L201.7 168.3ZM203.6 170.9L205.6 170.7L206.2 171.6L204.3 171.7L203.6 170.9ZM199.7 166.3L204.3 166.0L204.9 167.0L201.0 167.1L199.7 166.3Z" fill="#fff" stroke="#000" stroke-width="3.2" stroke-linejoin="round"/><path d="M286.6 189.2L287.2 187.3L288.2 186.0L290.2 186.3L291.2 186.8L292.5 186.8L293.1 185.6L294.1 185.6L293.1 186.9L295.4 188.9L294.4 189.6L291.8 189.1L289.2 189.0L287.2 189.4ZM299.0 187.3L300.6 186.0L302.9 185.6L303.3 186.9L301.6 187.3L301.9 188.6L302.9 189.2L303.3 190.9L303.6 192.0L302.3 192.3L300.6 191.9L300.3 190.2L299.5 189.0L299.0 188.3ZM306.4 187.7L307.8 187.6L308.5 186.6L308.2 185.9L306.8 186.3L306.4 186.9ZM316.3 186.2L317.3 185.9L319.9 186.1L319.9 186.6L318.0 186.4L316.6 186.4ZM336.1 182.6L337.2 182.0L338.5 181.4L339.8 180.1L340.0 180.4L338.9 181.7L337.9 182.4L336.6 182.7ZM208.2 185.8L210.2 184.7L212.8 185.3L213.1 186.0L210.8 186.0ZM210.8 188.9L211.5 186.3L213.4 186.3L215.1 186.6L216.0 187.3L216.4 187.9L218.6 187.6L218.3 188.1L216.7 188.1L214.1 189.2L212.1 189.1ZM186.6 173.9L189.2 172.6L191.2 172.6L191.2 173.5L188.6 174.0ZM191.9 176.5L194.5 175.5L196.4 175.5L195.8 176.2L193.2 176.6ZM204.3 183.4L205.3 181.2L204.6 181.4L203.6 183.0ZM289.1 216.7L290.5 216.7L290.5 218.4L289.2 218.2ZM287.9 177.1L289.5 176.2L291.2 175.8L291.5 176.5L289.2 177.1ZM282.7 178.1L284.0 177.1L287.2 177.0L287.2 177.5L284.0 177.7Z" fill="#111" stroke="#000" stroke-width="1.4" stroke-linejoin="round"/><path d="M150.7 267.9L152.3 267.4L154.0 267.7L155.6 267.4L157.2 267.1L158.9 268.2L160.5 267.7L162.1 267.6L163.8 268.2L165.4 267.7L167.0 267.9L168.7 267.1L170.3 267.5L171.9 267.3L173.6 266.7L175.2 266.4L176.8 265.7L178.5 265.9L180.1 265.8L181.7 265.3L183.4 265.1L185.0 265.6L186.6 265.2L188.3 264.9L189.9 264.6L191.5 264.9L193.2 264.9L194.8 265.5L196.4 264.9L198.1 265.1L199.7 265.2L201.3 264.7L203.0 264.3L204.6 264.6L206.2 264.4L207.9 263.5L209.5 264.2L211.1 263.8L212.8 263.9L214.4 264.6L216.0 264.4L217.7 263.8L219.3 263.0L221.6 261.6L223.9 260.8L226.5 258.5L228.4 258.0L230.4 257.8L229.1 259.2L227.8 262.5L229.1 264.5L230.7 265.2L232.4 266.4L234.0 266.5L235.6 266.9L237.3 267.3L238.9 267.6L240.5 267.2L242.2 267.5L243.8 266.9L245.4 266.9L247.1 266.2L248.7 266.6L250.3 265.2L252.0 265.1L253.6 265.1L255.2 264.8L256.9 263.9L258.5 263.6L260.1 262.8L261.8 263.4L263.4 263.1L265.0 262.5L266.7 262.3L268.3 262.7L269.9 262.3L271.6 262.3L273.2 261.8L274.8 261.7L276.5 262.6L278.1 262.3L279.7 262.4L281.4 261.9L283.0 261.9L284.6 262.2L286.3 262.5L287.9 261.4L289.5 262.1L291.2 261.6L292.8 261.9L294.4 261.5L296.1 261.4L297.7 260.6L299.3 260.5L301.0 260.5L302.6 260.3L304.2 260.0L305.9 260.7L307.5 260.9L309.1 260.5L310.8 261.2L312.4 260.4L314.0 261.0L315.7 261.6L317.3 261.8L318.9 261.0L320.6 260.3L322.2 259.9L323.8 260.4L325.5 260.2L327.1 259.6L328.7 260.3L330.4 259.5L332.0 259.5L333.6 259.8L335.3 259.6L336.9 259.2L338.5 259.5L340.2 259.9L341.8 259.2L343.4 259.8L345.1 259.8L346.7 260.2L348.3 259.8L350.0 259.5L351.6 259.2L353.2 259.7L354.9 259.7L356.5 259.4L358.1 259.6L359.8 260.0L361.4 259.9L363.0 260.2L364.7 260.2L366.3 260.5L367.9 261.4L369.6 261.1L371.2 261.8L372.8 261.8L374.5 263.0L376.1 263.6L377.7 263.7L379.4 265.3L381.0 266.0L382.6 266.7L384.3 267.2L385.9 267.4L385.9 278.6L150.7 278.6Z" fill="#fff" stroke="#000" stroke-width="2.2" stroke-linejoin="round"/></g><rect x="150.7" y="157.5" width="235.2" height="117.8" fill="none" stroke="#000" stroke-width="1.8"/><clipPath id="cm2"><rect x="486.9" y="275.0" width="235.6" height="117.6"/></clipPath><g clip-path="url(#cm2)"><rect x="486.9" y="275.0" width="235.6" height="117.6" fill="#e8edef"/><path d="M554.0 328.2L555.3 326.9L557.6 326.0L558.9 325.8L560.2 326.9L562.8 326.8L564.8 326.9L565.4 328.2L567.4 329.9L570.7 330.5L571.3 331.2L572.0 332.8L573.0 334.5L575.6 335.4L577.9 335.7L579.5 336.4L581.8 337.4L581.8 339.7L580.5 341.0L579.3 342.3L579.2 345.2L578.5 346.9L577.9 348.2L575.9 348.8L573.3 350.5L573.0 352.4L571.7 354.1L570.0 356.0L568.7 356.7L567.1 357.0L567.4 358.3L566.7 359.1L564.1 359.3L564.0 360.6L562.2 360.6L562.9 361.6L562.0 363.2L560.5 364.2L561.5 365.2L559.9 366.8L559.5 368.0L560.2 369.4L558.9 369.7L557.6 369.1L555.9 368.1L555.3 365.2L556.3 362.5L556.6 359.9L556.6 358.0L557.9 354.7L557.9 352.1L558.6 348.8L558.8 345.9L557.6 344.9L555.6 343.6L554.8 342.3L553.0 339.0L551.7 337.7L552.0 335.8L552.3 334.5L552.3 333.1L553.1 332.5L554.0 331.2L554.1 329.2L554.0 328.2ZM637.0 341.6L637.7 343.7L637.3 345.2L636.4 347.5L635.8 350.0L634.5 350.5L633.5 350.0L633.0 348.5L633.4 347.2L633.8 344.9L635.1 344.1L636.1 342.8L637.0 341.6ZM667.1 330.2L668.5 330.4L670.3 332.2L672.8 334.5L674.1 335.8L674.1 337.6L673.1 337.7L671.5 336.4L670.1 334.5L669.2 332.7L667.1 330.2ZM673.5 338.2L675.4 337.9L677.0 338.2L678.3 338.2L679.6 338.9L679.6 339.5L677.3 339.2L675.4 338.9L673.7 338.4L673.5 338.2ZM676.0 332.8L676.4 334.5L677.0 335.8L679.3 336.1L680.9 336.1L680.6 334.5L681.8 333.1L682.4 330.5L681.6 329.5L680.6 329.6L680.2 330.5L679.0 331.5L677.7 332.2L676.0 332.8ZM682.9 337.4L682.6 336.1L682.4 335.6L682.9 333.6L683.2 333.3L685.5 333.3L686.5 332.8L685.9 333.6L683.9 333.5L683.9 334.5L685.4 334.4L684.2 335.0L684.9 336.7L684.2 336.9L683.6 335.7L683.5 337.4L682.9 337.4ZM683.2 323.3L683.6 321.7L684.7 321.7L684.7 323.0L684.3 323.4L684.5 324.7L685.9 325.3L685.5 325.6L684.2 324.8L683.6 324.5L683.2 323.3ZM684.5 329.2L685.7 328.6L686.8 327.4L687.5 328.9L687.2 329.7L686.5 330.1L685.9 329.7L684.5 329.2ZM549.1 319.5L551.0 318.6L552.3 318.7L554.3 319.6L556.1 320.5L554.0 320.8L553.7 320.2L552.0 319.6L550.7 319.3L549.1 319.5ZM555.9 321.8L557.1 320.8L558.9 320.9L560.0 321.6L558.0 322.2L555.9 321.8ZM657.0 329.6L656.9 328.2L657.2 327.4L657.9 328.2L658.2 328.9L657.8 329.7L657.1 329.9L657.0 329.6ZM675.8 321.3L677.0 320.7L677.3 321.0L676.7 321.8L675.8 321.7L675.8 321.3ZM683.3 318.8L684.2 317.3L684.5 317.8L683.9 319.4L683.3 318.8ZM540.9 317.5L540.8 319.8L541.5 321.1L542.9 321.9L544.8 321.7L545.5 320.1L547.8 319.8L547.4 321.7L546.9 323.3L549.7 323.5L550.2 324.3L550.1 326.3L551.0 327.9L552.7 327.6L554.0 328.2L552.7 328.9L551.7 328.9L550.1 328.2L548.6 327.3L547.4 325.3L544.8 324.7L542.9 323.3L541.5 323.5L539.3 322.7L535.7 320.7L535.7 319.1M535.7 319.1L534.0 317.1L531.1 314.5L529.8 313.2L530.1 314.2L531.4 316.2L532.7 318.8L531.4 317.8L530.1 315.8L529.1 314.5L528.1 312.6L525.8 311.3L524.5 309.3L523.5 307.3L523.5 303.7M558.9 305.4L558.6 306.5L556.3 307.3L555.3 308.6L555.0 310.0L555.3 310.8L553.7 311.7L551.7 313.2L551.6 314.5M638.2 326.0L638.1 326.9L637.6 328.2L636.8 329.9L636.1 331.1L635.1 332.2L633.5 333.5L632.1 334.8L631.0 335.6L630.4 336.9L630.1 338.0L630.6 339.0L630.8 340.5L631.2 341.0L631.3 343.1L630.9 344.3L629.2 345.3L628.5 346.1L627.5 346.7L627.8 348.2L627.9 349.5L626.3 350.4L626.0 350.9L626.0 352.4L625.2 353.0L624.3 354.2L623.0 355.4L622.0 355.8L621.6 356.0L619.4 356.0L617.8 356.5L616.7 356.0L616.6 355.0L616.1 353.4L615.4 352.5L614.6 351.5L614.1 348.6L613.5 347.5L612.4 345.6L612.3 344.7L612.7 343.3L613.6 341.6L613.3 340.2L612.7 337.7L612.7 337.1L611.9 336.3L610.9 335.1L610.8 333.5M648.2 317.2L648.9 318.1L649.7 319.1L650.8 320.1L652.3 319.9L652.3 321.4L652.8 323.3L653.7 325.5L654.6 327.6L655.4 328.6L655.9 328.0L657.0 327.1L657.2 325.0L657.3 323.4L658.5 323.0L659.7 321.8L661.3 320.7L661.6 319.8L662.6 319.4L663.9 319.1L664.8 319.3L665.2 320.3L666.4 321.9L666.4 323.3L668.5 323.0L668.8 324.7L669.2 326.9L669.0 328.6L670.3 329.6L670.3 331.2L671.1 332.0L672.4 333.0L672.9 332.8L672.4 330.9L671.6 329.7L670.5 328.9L669.9 327.6L669.7 326.0L670.1 325.0L670.8 325.5L671.8 325.8L672.1 326.6L673.0 326.9L673.4 328.1L674.4 327.6L675.1 326.9L676.2 326.2L676.3 325.0L675.9 323.7L674.5 322.4L673.9 321.4L674.4 320.4L675.4 319.8L676.4 319.8L677.0 320.5L677.3 319.8L678.7 319.3L680.0 318.9L681.3 318.4L682.6 317.3L683.2 316.2L684.2 315.2M701.2 346.5L700.2 345.4L699.8 343.6L698.6 342.9L698.0 340.8L697.5 342.2L697.4 343.6L697.0 345.2L696.0 345.2L694.8 344.4L693.6 343.7L694.2 341.8L693.0 341.7L691.5 341.3L690.8 341.8L689.8 342.4L689.5 343.6L688.3 343.1L687.2 343.1L686.1 344.5L685.2 344.5L684.5 346.0" fill="none" stroke="#fc1212" stroke-width="4.5" stroke-linejoin="round" stroke-linecap="round"/><path d="M487.1 275.8C502.0 273.4 591.1 273.6 606.0 275.8C620.9 278.0 607.5 291.2 606.0 293.4C604.5 295.6 597.1 294.0 594.1 293.4C591.1 292.8 584.9 289.7 581.8 288.8C578.7 287.9 573.2 287.1 569.6 286.5C566.0 285.9 557.8 284.4 552.8 284.2C547.8 284.0 534.7 284.6 529.9 285.0C525.1 285.4 518.2 286.5 514.6 287.3C511.0 288.1 503.5 290.2 500.8 291.1C498.1 292.1 494.9 294.4 493.2 294.9C491.5 295.4 487.9 297.3 487.1 294.9C486.3 292.5 472.2 278.2 487.1 275.8Z" fill="#fc1212" /><path d="M487.8 276.9C502.1 275.2 588.6 275.1 603.2 276.6C617.8 278.1 605.9 287.1 604.8 288.8C603.7 290.5 597.0 290.7 594.1 290.3C591.2 289.9 585.2 286.8 581.8 285.8C578.4 284.9 571.2 283.2 566.6 282.7C562.0 282.2 550.8 281.5 545.2 281.5C539.7 281.5 527.0 282.1 522.2 282.7C517.4 283.3 510.1 285.7 506.9 286.5C503.6 287.3 498.5 288.7 496.2 289.1C493.9 289.5 489.7 291.5 488.6 290.0C487.6 288.5 473.5 278.6 487.8 276.9Z" fill="#ef561e" /><path d="M500.8 281.5C501.5 281.1 505.3 280.6 506.9 280.6C508.5 280.6 512.7 281.3 513.4 281.8C514.1 282.3 513.2 284.0 512.4 284.5C511.6 285.0 508.3 285.5 506.9 285.5C505.5 285.5 501.9 284.7 501.1 284.2C500.3 283.7 500.1 281.9 500.8 281.5Z" fill="#e8edef" /><path d="M487.1 283.9C487.9 283.4 492.7 284.1 493.5 284.8C494.3 285.5 494.3 288.6 493.5 289.1C492.7 289.6 487.9 289.8 487.1 289.1C486.3 288.5 486.3 284.4 487.1 283.9Z" fill="#2a42ee" /><path d="M523.7 281.5C526.2 280.6 539.8 280.5 545.2 280.6C550.6 280.8 563.8 281.6 566.6 282.7C569.4 283.8 569.3 288.1 567.8 289.1C566.3 290.1 558.1 290.7 554.3 290.7C550.5 290.7 541.1 289.5 537.5 289.1C533.9 288.7 527.0 288.6 525.3 287.6C523.6 286.7 521.2 282.4 523.7 281.5Z" fill="#2a42ee" /><path d="M544.4 292.6C545.3 292.1 551.6 292.1 552.8 292.6C553.9 293.1 554.5 296.0 553.6 296.5C552.7 297.0 546.4 297.3 545.2 296.8C544.1 296.3 543.5 293.1 544.4 292.6Z" fill="#5e6866" /><path d="M603.3 276.7C605.6 275.9 620.2 275.8 622.9 276.4C625.5 277.0 625.5 280.5 624.5 281.4C623.5 282.3 617.6 283.5 615.1 283.7C612.6 283.9 605.6 283.9 604.1 283.0C602.6 282.1 600.9 277.5 603.3 276.7Z" fill="#e8edef" /><path d="M622.9 275.9C635.0 274.5 709.3 275.3 721.6 275.9C733.9 276.5 730.8 279.9 721.6 280.6C712.4 281.3 659.0 281.0 648.0 281.4C637.0 281.8 636.8 283.0 633.9 283.7C631.0 284.4 625.9 287.9 624.5 286.9C623.1 285.9 610.8 277.3 622.9 275.9Z" fill="#fc1212" /><path d="M626.1 276.7C630.4 275.8 662.1 276.0 666.8 276.4C671.5 276.8 666.8 279.0 663.7 279.5C660.6 280.0 645.6 280.1 641.7 280.6C637.8 281.1 634.2 283.8 632.3 283.3C630.3 282.8 621.8 277.6 626.1 276.7Z" fill="#ef561e" /><path d="M632.3 280.6C635.2 279.7 652.5 279.8 663.7 279.5C674.9 279.2 714.4 277.5 721.6 278.6C728.8 279.7 724.9 286.8 721.6 288.0C718.3 289.2 702.2 288.2 695.0 288.0C687.8 287.8 670.6 286.6 663.7 286.4C656.9 286.2 644.1 287.1 640.2 286.4C636.3 285.7 629.4 281.5 632.3 280.6Z" fill="#2a42ee" /><path d="M676.2 281.7C680.7 281.1 715.9 280.6 721.6 281.1C727.3 281.6 726.1 285.2 721.6 285.8C717.1 286.4 691.3 286.3 685.6 285.8C679.9 285.3 671.7 282.3 676.2 281.7Z" fill="#1b1bf2" /><path d="M694.7 292.1C696.7 290.9 708.0 289.9 710.6 290.5C713.2 291.1 715.7 295.3 715.7 297.1C715.8 298.9 712.8 304.1 711.0 305.2C709.2 306.2 703.3 306.1 701.3 305.5C699.3 304.9 695.8 302.2 695.0 300.5C694.2 298.8 692.8 293.4 694.7 292.1Z" fill="#fc1212" /><path d="M696.6 293.6C698.0 292.7 707.3 292.1 709.1 292.7C710.9 293.3 711.6 297.2 711.0 298.3C710.4 299.4 706.0 301.6 704.4 301.8C702.8 302.0 699.1 301.2 698.1 300.2C697.1 299.2 695.2 294.5 696.6 293.6Z" fill="#2a42ee" /><path d="M540.3 311.4C542.3 310.0 552.4 309.5 555.9 309.9C559.4 310.3 566.4 312.9 568.4 314.5C570.4 316.1 571.6 320.1 571.9 322.5C572.1 324.9 572.4 332.7 570.4 334.1C568.4 335.6 559.0 334.8 555.9 334.1C552.8 333.5 547.2 330.5 545.2 328.9C543.2 327.2 540.6 323.1 540.0 320.9C539.4 318.7 538.3 312.8 540.3 311.4Z" fill="#fc1212" /><path d="M543.6 314.8C544.4 313.7 551.6 313.2 554.3 313.6C557.0 314.0 563.4 316.4 565.0 317.9C566.6 319.4 567.9 324.5 566.9 325.5C565.9 326.5 559.7 326.1 557.4 325.8C555.1 325.5 549.9 324.2 548.2 322.8C546.5 321.4 542.8 315.9 543.6 314.8Z" fill="#ef561e" /><path d="M545.2 319.4C546.2 318.8 552.5 319.4 554.3 320.0C556.0 320.6 559.4 323.2 559.2 324.0C559.0 324.8 554.4 326.6 552.8 326.7C551.2 326.8 547.3 325.8 546.4 324.9C545.5 324.0 544.2 320.0 545.2 319.4Z" fill="#2a42ee" /><path d="M549.7 308.4C550.7 307.2 561.2 306.3 563.5 306.9C565.8 307.5 568.8 312.1 567.8 313.3C566.8 314.5 558.2 317.2 555.9 316.6C553.6 316.0 548.8 309.6 549.7 308.4Z" fill="#fc1212" /><path d="M666.8 330.0C671.3 329.2 699.5 328.8 704.4 330.0C709.3 331.2 707.0 337.4 706.3 339.4C705.5 341.4 701.4 345.0 698.4 346.0C695.4 347.0 685.5 347.9 682.5 347.5C679.5 347.1 676.1 344.2 674.3 342.8C672.5 341.4 668.9 337.9 668.0 336.3C667.1 334.7 662.2 330.8 666.8 330.0Z" fill="#fc1212" /><path d="M669.9 331.3C671.7 330.3 685.5 330.5 688.7 331.3C691.9 332.1 696.1 336.4 695.3 337.8C694.5 339.2 685.1 342.3 682.5 342.5C679.9 342.7 676.2 340.8 674.6 339.4C673.0 338.0 668.1 332.3 669.9 331.3Z" fill="#ef561e" /><path d="M684.0 336.3C684.8 335.4 693.2 335.6 695.0 336.3C696.8 337.0 698.9 340.8 698.1 341.7C697.3 342.6 690.5 344.0 688.7 343.3C686.9 342.6 683.2 337.2 684.0 336.3Z" fill="#2a42ee" /><path d="M702.0 346.4C702.3 345.7 705.1 345.7 705.6 346.4C706.1 347.1 706.6 351.2 706.3 351.9C706.0 352.6 703.6 352.6 703.1 351.9C702.6 351.2 701.7 347.1 702.0 346.4Z" fill="#fc1212" /><path d="M548.2 345.3C549.3 344.3 554.5 341.4 555.9 342.2C557.3 343.0 558.9 348.9 559.2 351.4C559.5 353.9 558.7 360.6 558.3 362.4C557.9 364.2 556.8 366.3 555.9 365.5C555.0 364.7 552.4 357.9 551.3 356.0C550.2 354.1 547.7 351.2 547.3 349.9C546.9 348.6 547.1 346.3 548.2 345.3Z" fill="#fc1212" /><path d="M551.3 347.1C551.9 346.3 555.1 344.6 555.9 345.3C556.7 346.0 557.6 351.6 557.4 352.9C557.2 354.2 555.1 356.2 554.3 356.0C553.5 355.8 551.7 352.5 551.3 351.4C550.9 350.3 550.7 347.9 551.3 347.1Z" fill="#ef561e" /><path d="M555.1 345.3C555.5 344.7 557.9 344.7 558.3 345.3C558.7 345.9 559.0 349.3 558.6 349.9C558.2 350.5 555.9 350.5 555.5 349.9C555.1 349.3 554.8 345.9 555.1 345.3Z" fill="#2a42ee" /><path d="M627.3 330.0C628.5 327.2 637.4 327.4 638.9 330.0C640.4 332.6 640.1 347.6 638.9 350.4C637.7 353.2 631.0 354.8 629.5 352.2C628.0 349.6 626.1 332.8 627.3 330.0Z" fill="#fc1212" /><path d="M493.8 305.9C494.7 305.2 499.1 303.6 500.8 303.2C502.5 302.8 505.6 302.9 507.2 303.0C508.8 303.1 512.8 303.6 513.4 304.1C514.0 304.6 513.4 306.4 512.4 306.9C511.4 307.4 506.7 307.1 505.7 307.8C504.7 308.5 505.0 311.2 504.2 312.1C503.4 313.0 500.5 314.7 499.3 314.8C498.1 314.9 495.4 313.5 494.7 312.7C494.0 311.9 493.6 309.6 493.5 308.7C493.4 307.8 492.9 306.6 493.8 305.9Z" fill="#fc1212" /><path d="M524.1 355.2C524.6 354.0 527.2 353.3 528.3 353.5C529.4 353.7 532.3 355.7 532.9 356.8C533.5 357.9 533.0 361.1 533.2 362.1C533.4 363.1 533.3 364.2 534.8 364.6C536.3 365.0 544.1 364.8 545.5 365.2C546.9 365.6 547.3 367.2 546.1 367.6C544.9 368.0 538.0 368.1 536.0 368.5C534.0 368.9 530.9 370.9 529.9 370.7C528.9 370.5 528.7 367.7 528.0 366.7C527.3 365.7 524.9 364.3 524.4 362.9C523.9 361.5 523.6 356.4 524.1 355.2Z" fill="#fc1212" /><path d="M531.7 341.9C532.1 341.5 534.4 341.5 534.8 341.9C535.2 342.2 535.2 344.3 534.8 344.7C534.4 345.1 532.1 345.1 531.7 344.7C531.3 344.3 531.3 342.2 531.7 341.9Z" fill="#fc1212" /><path d="M487.1 374.3C489.6 372.6 502.3 371.0 506.9 370.4C511.5 369.8 520.6 369.6 524.1 369.7C527.6 369.8 532.3 370.4 534.8 371.0C537.3 371.6 543.8 373.5 543.9 374.3C544.0 375.1 538.5 376.9 536.0 377.7C533.5 378.5 527.3 380.2 523.7 380.8C520.1 381.4 511.5 382.5 506.9 382.9C502.3 383.3 489.6 384.9 487.1 383.8C484.6 382.7 484.6 376.0 487.1 374.3Z" fill="#fc1212" /><path d="M493.2 375.9C494.5 374.9 503.3 373.2 506.9 372.8C510.5 372.4 519.9 372.1 522.2 372.5C524.5 372.9 526.6 375.1 525.6 375.9C524.6 376.7 518.3 378.3 514.6 378.9C510.9 379.5 498.9 380.9 496.2 380.5C493.5 380.1 491.9 376.9 493.2 375.9Z" fill="#ef561e" /><path d="M588.6 340.7C589.2 340.1 593.6 340.1 594.4 340.7C595.2 341.3 595.4 344.7 594.7 345.3C594.1 345.9 590.0 346.2 589.2 345.6C588.4 345.0 588.0 341.3 588.6 340.7Z" fill="#fc1212" /><path d="M589.2 347.4C589.6 346.9 592.4 346.9 592.9 347.4C593.4 347.9 593.3 350.9 592.9 351.4C592.5 351.9 590.0 351.9 589.5 351.4C589.0 350.9 588.8 347.9 589.2 347.4Z" fill="#fc1212" /><path d="M588.9 356.3C590.2 355.7 598.7 354.9 600.2 355.4C601.7 355.9 602.1 359.4 600.8 360.0C599.5 360.6 591.0 360.5 589.5 360.0C588.0 359.5 587.6 356.9 588.9 356.3Z" fill="#fc1212" /><path d="M563.5 375.9C566.0 374.6 578.1 375.2 583.4 374.6C588.7 374.0 603.2 370.0 606.0 371.3C608.8 372.6 611.3 383.6 606.0 385.3C600.7 387.1 568.8 386.5 563.5 385.3C558.2 384.1 561.0 377.2 563.5 375.9Z" fill="#fc1212" /><path d="M566.6 377.4C569.6 376.6 586.1 376.6 591.0 376.2C595.9 375.8 604.1 373.5 606.0 374.3C607.9 375.1 610.9 381.2 606.0 382.3C601.1 383.4 571.5 383.5 566.6 382.9C561.7 382.3 563.6 378.2 566.6 377.4Z" fill="#ef561e" /><path d="M565.0 379.2C567.5 378.6 582.4 379.1 584.9 379.8C587.4 380.5 587.4 384.1 584.9 384.7C582.4 385.3 567.5 385.4 565.0 384.7C562.5 384.0 562.5 379.8 565.0 379.2Z" fill="#2a42ee" /><path d="M601.0 367.3C603.0 365.5 612.8 366.1 616.7 366.3C620.6 366.5 627.6 368.3 632.3 368.8C637.0 369.3 651.7 369.6 654.6 370.4C657.5 371.1 657.0 373.9 655.2 374.8C653.4 375.7 645.0 376.7 640.2 377.3C635.4 377.9 621.6 379.1 616.7 379.5C611.8 379.9 603.0 381.9 601.0 380.4C599.0 378.9 599.0 369.1 601.0 367.3Z" fill="#fc1212" /><path d="M601.0 369.8C603.0 368.7 612.8 368.6 616.7 368.8C620.6 369.0 628.7 370.9 632.3 371.4C635.9 371.9 645.2 372.1 645.2 372.6C645.2 373.1 635.9 374.8 632.3 375.4C628.7 375.9 620.6 376.7 616.7 377.0C612.8 377.3 603.0 378.8 601.0 377.9C599.0 377.0 599.0 370.9 601.0 369.8Z" fill="#ef561e" /><path d="M608.8 376.1C609.6 375.5 614.9 374.9 616.7 375.0C618.5 375.1 622.6 376.4 623.2 377.0C623.8 377.6 623.3 379.7 621.7 380.1C620.1 380.5 612.0 380.6 610.4 380.1C608.8 379.6 608.0 376.7 608.8 376.1Z" fill="#2a42ee" /><path d="M679.3 375.4C681.3 374.6 691.1 374.0 695.0 373.9C698.9 373.8 707.3 374.6 710.6 374.5C713.9 374.4 720.2 372.4 721.6 373.5C723.0 374.6 726.9 382.7 721.6 383.6C716.3 384.5 684.6 381.4 679.3 380.4C674.0 379.4 677.3 376.2 679.3 375.4Z" fill="#fc1212" /><path d="M695.0 375.7C695.4 375.0 707.3 375.2 710.6 375.1C713.9 375.0 720.2 374.2 721.6 375.1C723.0 376.0 723.4 381.3 721.6 382.0C719.8 382.7 710.8 381.2 707.5 380.4C704.2 379.6 694.6 376.4 695.0 375.7Z" fill="#ef561e" /><path d="M715.3 355.8C716.0 355.1 720.8 355.1 721.6 355.8C722.4 356.5 722.3 360.6 721.6 361.3C720.9 362.0 716.9 362.0 716.1 361.3C715.3 360.6 714.6 356.5 715.3 355.8Z" fill="#fc1212" /><path d="M496.1 288.8L498.0 287.9L502.3 287.2L506.5 287.7L512.4 288.3L516.4 288.4L520.9 287.9L526.2 288.7L529.4 288.9L534.0 289.0L540.6 289.4L542.5 289.4L545.8 289.0L549.1 288.4L551.0 290.0L548.4 292.0L545.1 293.0L543.2 295.3L543.8 296.6L547.1 297.5L551.0 299.2L552.7 300.2L553.0 297.9L554.3 295.9L553.7 293.0L556.9 293.3L558.9 293.9L560.9 295.6L562.5 294.4L564.5 296.9L567.4 299.2L568.1 300.2L565.4 301.1L561.5 301.1L562.5 301.8L562.8 303.1L564.8 304.1L561.5 304.7L558.9 305.4L558.6 306.5L556.3 307.3L555.3 308.6L555.0 310.0L555.3 310.8L553.7 311.7L551.7 313.2L551.6 314.5L552.3 316.2L552.1 317.3L551.2 317.1L550.6 315.8L550.5 314.5L549.7 314.2L548.4 313.9L546.5 314.1L545.8 314.7L543.8 314.4L542.5 314.9L541.1 315.8L540.9 317.5L540.8 319.8L541.5 321.1L542.9 321.9L544.8 321.7L545.5 320.1L547.8 319.8L547.4 321.7L546.9 323.3L549.7 323.5L550.2 324.3L550.1 326.3L551.0 327.9L552.7 327.6L554.0 328.2L552.7 328.9L551.7 328.9L550.1 328.2L548.6 327.3L547.4 325.3L544.8 324.7L542.9 323.3L541.5 323.5L539.3 322.7L535.7 320.7L535.7 319.1L534.0 317.1L531.1 314.5L529.8 313.2L530.1 314.2L531.4 316.2L532.7 318.8L531.4 317.8L530.1 315.8L529.1 314.5L528.1 312.6L525.8 311.3L524.5 309.3L523.5 307.3L523.5 303.7L523.2 302.1L524.2 301.8L521.3 300.8L519.6 298.2L517.7 296.6L515.7 295.6L513.1 294.7L509.8 294.3L507.8 294.3L505.9 295.3L503.9 296.2L501.3 296.9L498.7 297.9L497.0 298.2L500.0 297.2L501.6 295.4L498.7 295.4L497.0 294.3L496.4 293.3L497.0 292.5L499.3 291.7L496.1 291.6L494.8 290.9L497.4 290.4L496.1 288.8ZM556.9 282.8L560.2 281.2L565.4 280.2L575.2 279.9L585.1 279.2L591.6 280.2L592.9 282.2L591.6 284.8L590.3 286.8L589.0 288.1L583.8 289.4L579.8 291.0L577.2 293.3L575.9 294.6L573.9 294.1L572.0 292.6L570.7 290.7L569.4 288.7L568.7 286.8L566.7 284.5L561.5 283.8L556.9 282.8ZM554.0 328.2L555.3 326.9L557.6 326.0L558.9 325.8L560.2 326.9L562.8 326.8L564.8 326.9L565.4 328.2L567.4 329.9L570.7 330.5L571.3 331.2L572.0 332.8L573.0 334.5L575.6 335.4L577.9 335.7L579.5 336.4L581.8 337.4L581.8 339.7L580.5 341.0L579.3 342.3L579.2 345.2L578.5 346.9L577.9 348.2L575.9 348.8L573.3 350.5L573.0 352.4L571.7 354.1L570.0 356.0L568.7 356.7L567.1 357.0L567.4 358.3L566.7 359.1L564.1 359.3L564.0 360.6L562.2 360.6L562.9 361.6L562.0 363.2L560.5 364.2L561.5 365.2L559.9 366.8L559.5 368.0L560.2 369.4L558.9 369.7L557.6 369.1L555.9 368.1L555.3 365.2L556.3 362.5L556.6 359.9L556.6 358.0L557.9 354.7L557.9 352.1L558.6 348.8L558.8 345.9L557.6 344.9L555.6 343.6L554.8 342.3L553.0 339.0L551.7 337.7L552.0 335.8L552.3 334.5L552.3 333.1L553.1 332.5L554.0 331.2L554.1 329.2L554.0 328.2ZM598.8 305.7L598.5 308.3L598.9 309.6L600.8 310.0L601.1 310.3L603.4 309.8L604.7 308.6L604.9 307.3L606.8 306.4L606.8 305.5L608.6 305.6L609.9 305.1L610.9 305.0L611.6 305.7L612.6 306.5L614.8 307.7L615.2 309.0L615.8 308.3L616.8 307.5L615.5 306.7L613.9 306.0L612.9 304.7L612.7 304.1L613.7 304.0L614.2 304.3L614.8 305.2L616.5 306.0L617.5 306.7L617.3 307.7L618.4 309.0L619.4 310.0L619.8 309.1L620.4 308.6L619.6 307.3L620.4 307.1L621.7 307.1L621.8 308.0L622.2 308.6L622.6 309.6L623.4 309.8L624.7 310.1L626.0 310.2L627.3 309.8L628.3 310.0L628.2 310.9L627.6 312.2L627.1 313.4L627.5 314.5L628.6 315.5L629.6 317.5L630.2 319.4L631.5 321.7L632.7 324.0L633.2 325.5L634.1 325.4L636.4 324.7L638.7 323.5L641.0 322.4L642.0 321.5L643.0 320.4L643.8 319.1L643.0 318.4L641.6 317.5L641.5 316.7L641.0 317.1L640.0 318.0L638.5 318.0L638.2 316.8L637.6 316.8L637.4 316.2L636.4 315.2L636.1 314.2L637.1 314.2L637.7 314.9L638.4 315.6L640.5 316.5L642.0 316.9L644.9 317.3L648.2 317.2L648.9 318.1L649.7 319.1L650.8 320.1L652.3 319.9L652.3 321.4L652.8 323.3L653.7 325.5L654.6 327.6L655.4 328.6L655.9 328.0L657.0 327.1L657.2 325.0L657.3 323.4L658.5 323.0L659.7 321.8L661.3 320.7L661.6 319.8L662.6 319.4L663.9 319.1L664.8 319.3L665.2 320.3L666.4 321.9L666.4 323.3L668.5 323.0L668.8 324.7L669.2 326.9L669.0 328.6L670.3 329.6L670.3 331.2L671.1 332.0L672.4 333.0L672.9 332.8L672.4 330.9L671.6 329.7L670.5 328.9L669.9 327.6L669.7 326.0L670.1 325.0L670.8 325.5L671.8 325.8L672.1 326.6L673.0 326.9L673.4 328.1L674.4 327.6L675.1 326.9L676.2 326.2L676.3 325.0L675.9 323.7L674.5 322.4L673.9 321.4L674.4 320.4L675.4 319.8L676.4 319.8L677.0 320.5L677.3 319.8L678.7 319.3L680.0 318.9L681.3 318.4L682.6 317.3L683.2 316.2L684.2 315.2L684.5 313.9L684.1 313.5L683.9 312.6L683.6 311.6L682.7 310.9L683.6 310.3L684.9 309.6L683.9 309.1L682.5 309.3L681.9 308.6L681.7 308.3L682.6 308.0L683.9 307.1L684.5 307.3L684.2 308.3L685.2 307.9L686.0 307.7L686.7 308.0L686.3 309.0L687.5 309.3L687.4 311.3L688.1 311.2L689.3 310.8L689.5 309.8L688.7 308.6L688.1 307.8L689.5 307.1L689.6 306.6L690.3 306.2L691.1 305.6L692.1 305.8L693.4 305.1L694.7 304.1L695.3 303.1L696.5 302.1L696.6 300.8L697.2 299.6L696.0 298.5L694.4 298.5L693.4 298.0L694.7 296.9L696.6 295.7L698.3 295.1L701.6 295.1L704.2 295.3L706.1 295.1L707.1 296.0L706.8 297.9L707.3 300.5L708.4 299.5L709.4 299.0L710.7 298.0L710.5 296.7L711.4 296.0L711.7 294.3L712.7 294.3L716.0 294.6L717.9 293.6L721.2 293.0L721.8 292.6L722.5 291.3L722.5 288.9L719.2 288.2L716.0 288.1L712.7 288.3L709.4 287.7L706.1 287.4L702.9 287.1L699.6 286.5L696.3 286.4L693.0 287.0L689.8 287.4L688.5 286.4L686.5 285.8L683.2 286.1L678.7 285.6L676.7 285.5L678.0 284.5L674.7 283.5L672.8 283.0L670.1 284.1L668.2 284.1L665.6 284.5L662.3 284.8L661.0 285.5L657.1 286.4L657.4 285.8L654.4 286.4L652.1 286.2L650.5 286.1L649.5 287.1L648.4 287.6L648.5 288.4L646.6 288.5L644.0 288.9L642.7 289.0L640.0 289.2L636.8 289.6L634.8 289.4L633.5 289.0L633.2 289.7L633.5 290.4L630.9 290.7L627.0 291.7L626.0 290.4L628.3 290.2L631.5 289.7L631.2 289.4L628.3 288.7L626.3 288.5L624.3 288.2L622.4 287.4L620.4 287.5L617.8 288.1L615.8 288.7L614.5 289.2L613.5 290.0L612.9 291.0L611.6 291.7L610.3 292.3L608.3 293.0L608.0 293.9L608.0 295.3L608.6 295.9L609.6 295.9L611.2 295.3L611.6 294.9L612.0 295.4L612.6 296.2L613.0 296.9L612.9 297.3L614.0 297.6L614.2 297.1L615.3 296.8L615.6 296.2L615.5 295.6L616.5 295.1L617.0 294.4L616.0 293.9L616.0 293.0L617.5 292.3L618.4 291.7L618.8 291.0L620.1 290.8L621.3 291.1L620.7 291.7L619.1 292.6L618.8 293.9L619.4 294.4L621.1 294.4L623.0 294.3L624.3 294.7L623.0 294.9L620.6 295.0L620.1 295.6L620.5 296.2L619.1 296.2L618.4 296.7L618.6 297.7L617.8 298.1L616.9 298.2L615.5 298.2L614.0 298.6L612.6 298.4L611.9 298.5L611.8 298.0L611.2 297.9L611.6 296.9L611.6 296.2L610.3 296.5L610.0 297.5L610.4 298.5L609.3 298.8L608.0 299.0L607.6 299.7L607.0 300.2L605.7 300.5L605.7 301.0L604.7 301.4L603.7 301.4L603.7 302.0L601.8 302.1L601.9 302.6L603.3 303.0L603.9 303.7L603.9 304.7L603.7 305.4L602.1 305.4L599.5 305.2L598.8 305.7ZM486.9 291.3L490.2 291.7L491.8 291.0L493.1 290.7L492.1 290.0L489.5 289.7L486.9 288.9ZM601.0 301.1L602.4 300.9L605.6 300.3L605.8 299.4L604.9 298.9L604.5 298.2L603.7 297.5L603.3 296.2L602.3 296.1L602.7 295.5L601.4 295.5L600.6 296.2L601.0 297.0L600.7 297.6L601.6 298.0L602.5 297.9L602.7 298.6L602.7 299.0L601.7 299.3L601.3 300.0L602.5 300.2L601.0 301.1ZM600.8 299.7L600.6 298.6L600.9 298.1L599.9 297.7L599.2 297.9L599.3 298.4L598.2 298.7L598.2 299.8L599.3 300.0L600.8 299.7ZM590.3 292.0L589.0 291.0L590.3 290.4L594.2 290.4L595.8 291.1L595.2 291.7L592.5 292.4L590.3 292.0ZM600.8 310.4L603.4 310.9L605.4 310.0L608.0 309.8L610.3 309.7L611.8 309.6L612.0 310.3L611.4 311.3L611.8 311.7L613.0 312.4L614.6 312.7L616.5 313.7L617.5 313.9L617.9 313.0L619.1 312.3L621.1 313.0L623.7 313.6L625.8 313.4L627.1 313.4L627.5 314.5L627.1 315.6L626.6 316.2L627.9 318.2L629.0 320.1L629.2 321.6L629.9 322.0L630.7 323.7L631.7 324.3L632.6 325.5L633.0 326.0L633.9 327.0L635.8 326.5L638.2 326.0L638.1 326.9L637.6 328.2L636.8 329.9L636.1 331.1L635.1 332.2L633.5 333.5L632.1 334.8L631.0 335.6L630.4 336.9L630.1 338.0L630.6 339.0L630.8 340.5L631.2 341.0L631.3 343.1L630.9 344.3L629.2 345.3L628.5 346.1L627.5 346.7L627.8 348.2L627.9 349.5L626.3 350.4L626.0 350.9L626.0 352.4L625.2 353.0L624.3 354.2L623.0 355.4L622.0 355.8L621.6 356.0L619.4 356.0L617.8 356.5L616.7 356.0L616.6 355.0L616.1 353.4L615.4 352.5L614.6 351.5L614.1 348.6L613.5 347.5L612.4 345.6L612.3 344.7L612.7 343.3L613.6 341.6L613.3 340.2L612.7 337.7L612.7 337.1L611.9 336.3L610.9 335.1L610.8 333.5L611.1 332.2L611.0 331.5L610.3 330.7L608.6 331.0L607.6 329.7L606.5 329.7L604.7 330.2L603.4 330.7L601.8 330.4L599.8 330.9L598.8 330.6L597.2 329.4L596.1 328.2L595.8 327.6L594.9 326.7L593.8 325.7L593.2 324.2L593.8 323.3L594.2 321.7L594.0 321.0L593.6 320.1L593.9 319.2L594.9 317.8L595.7 316.4L596.5 315.6L598.2 314.9L598.3 313.4L599.1 312.1L600.2 311.5L600.8 310.4ZM637.0 341.6L637.7 343.7L637.3 345.2L636.4 347.5L635.8 350.0L634.5 350.5L633.5 350.0L633.0 348.5L633.4 347.2L633.8 344.9L635.1 344.1L636.1 342.8L637.0 341.6ZM679.0 348.2L679.4 350.8L679.0 351.1L680.0 353.4L680.0 355.7L680.6 356.7L681.9 356.7L683.2 356.0L685.5 355.9L687.2 354.9L689.1 354.5L690.6 354.4L692.5 355.2L693.6 356.5L694.8 355.4L694.9 357.0L696.1 357.4L696.2 358.2L697.0 358.8L698.6 359.1L700.4 359.3L701.6 358.5L702.9 358.2L702.9 357.3L703.7 356.0L704.8 354.2L705.2 352.4L704.8 350.5L703.4 348.6L702.5 348.4L701.2 346.5L700.2 345.4L699.8 343.6L698.6 342.9L698.0 340.8L697.5 342.2L697.4 343.6L697.0 345.2L696.0 345.2L694.8 344.4L693.6 343.7L694.2 341.8L693.0 341.7L691.5 341.3L690.8 341.8L689.8 342.4L689.5 343.6L688.3 343.1L687.2 343.1L686.1 344.5L685.2 344.5L684.5 346.0L683.1 346.9L681.6 347.3L679.7 348.0L679.0 348.2ZM699.3 360.4L701.8 360.5L701.6 361.9L700.2 362.3L699.3 360.4ZM717.7 356.3L718.9 357.3L719.8 358.1L721.5 358.4L720.5 359.6L719.2 360.9L718.9 359.9L718.4 359.4L719.0 358.3L717.7 356.3ZM717.8 360.3L718.8 361.0L717.8 362.2L716.6 363.2L715.3 364.2L713.7 363.9L714.3 362.7L716.3 361.6L717.8 360.3ZM690.4 311.6L691.4 310.7L693.4 310.5L694.2 309.5L696.0 309.0L696.3 307.3L697.2 306.8L697.6 308.0L697.0 309.6L696.8 310.5L696.2 310.9L695.5 311.2L694.4 311.2L693.0 311.9L691.4 311.4L690.4 311.6ZM689.6 312.0L690.4 311.7L690.9 312.6L690.4 313.5L689.6 313.2L689.6 312.0ZM696.3 306.7L697.1 305.6L697.5 304.1L698.6 304.9L699.9 305.5L698.5 306.4L697.3 306.0L696.3 306.7ZM697.6 303.7L698.6 303.2L698.3 301.5L698.4 299.5L698.0 298.3L697.6 300.5L697.6 303.7ZM683.3 318.8L684.2 317.3L684.5 317.8L683.9 319.4L683.3 318.8ZM675.8 321.3L677.0 320.7L677.3 321.0L676.7 321.8L675.8 321.7L675.8 321.3ZM657.0 329.6L656.9 328.2L657.2 327.4L657.9 328.2L658.2 328.9L657.8 329.7L657.1 329.9L657.0 329.6ZM667.1 330.2L668.5 330.4L670.3 332.2L672.8 334.5L674.1 335.8L674.1 337.6L673.1 337.7L671.5 336.4L670.1 334.5L669.2 332.7L667.1 330.2ZM673.5 338.2L675.4 337.9L677.0 338.2L678.3 338.2L679.6 338.9L679.6 339.5L677.3 339.2L675.4 338.9L673.7 338.4L673.5 338.2ZM676.0 332.8L676.4 334.5L677.0 335.8L679.3 336.1L680.9 336.1L680.6 334.5L681.8 333.1L682.4 330.5L681.6 329.5L680.6 329.6L680.2 330.5L679.0 331.5L677.7 332.2L676.0 332.8ZM682.9 337.4L682.6 336.1L682.4 335.6L682.9 333.6L683.2 333.3L685.5 333.3L686.5 332.8L685.9 333.6L683.9 333.5L683.9 334.5L685.4 334.4L684.2 335.0L684.9 336.7L684.2 336.9L683.6 335.7L683.5 337.4L682.9 337.4ZM690.4 334.5L692.4 334.5L693.0 336.0L694.7 334.8L697.0 335.5L699.6 336.6L700.2 337.4L701.2 337.7L700.9 338.9L702.5 340.0L703.2 340.7L700.9 340.3L699.9 339.0L698.6 339.2L698.3 339.8L697.0 339.7L695.7 339.1L695.0 339.3L695.5 338.4L695.0 337.3L693.4 336.7L691.4 336.4L691.1 335.6L691.9 335.2L691.1 335.1L690.4 334.5ZM683.2 323.3L683.6 321.7L684.7 321.7L684.7 323.0L684.3 323.4L684.5 324.7L685.9 325.3L685.5 325.6L684.2 324.8L683.6 324.5L683.2 323.3ZM684.5 329.2L685.7 328.6L686.8 327.4L687.5 328.9L687.2 329.7L686.5 330.1L685.9 329.7L684.5 329.2ZM549.1 319.5L551.0 318.6L552.3 318.7L554.3 319.6L556.1 320.5L554.0 320.8L553.7 320.2L552.0 319.6L550.7 319.3L549.1 319.5ZM555.9 321.8L557.1 320.8L558.9 320.9L560.0 321.6L558.0 322.2L555.9 321.8Z" fill="#fff" stroke="#000" stroke-width="2.1" stroke-linejoin="round"/><path d="M552.3 285.8L557.6 287.4L560.9 288.7L564.1 290.4L562.5 292.3L558.9 292.8L556.3 291.7L553.7 291.7L556.3 290.0L552.3 288.4L548.4 287.7L547.1 286.1L552.3 285.8ZM545.8 281.2L552.3 279.6L562.2 279.6L564.1 280.2L557.6 282.2L553.7 283.8L545.8 283.5L545.8 281.2ZM527.5 286.1L536.0 285.8L539.3 287.4L537.3 289.0L531.4 289.0L527.5 288.1L527.5 286.1ZM522.9 286.8L527.5 285.1L529.4 285.8L526.2 287.1L522.9 286.8ZM541.9 283.5L552.3 283.8L552.3 285.1L544.5 285.1L541.9 283.5ZM529.4 284.1L536.0 283.8L540.6 284.8L534.0 285.0L529.4 284.1ZM541.2 285.8L545.8 285.6L546.5 287.1L542.5 287.1L541.2 285.8ZM548.4 290.7L552.3 291.3L551.7 292.3L548.4 292.0L548.4 290.7ZM611.9 282.5L615.2 281.5L619.1 281.2L622.4 281.5L618.4 282.8L615.8 283.8L613.9 283.3L611.9 282.5ZM638.7 287.1L641.3 285.8L644.0 284.1L649.2 283.5L646.6 284.6L642.7 286.1L641.3 287.6L638.7 287.1ZM666.9 282.2L670.1 281.9L673.4 282.5L670.1 283.0L666.9 282.2ZM693.7 284.5L697.6 284.1L702.2 284.5L698.9 284.9L693.7 284.5ZM541.2 281.2L545.8 280.6L547.8 281.5L544.5 282.5L541.2 281.2ZM537.9 285.8L540.6 285.6L541.2 286.8L538.6 286.9L537.9 285.8ZM539.9 288.4L541.9 288.2L542.5 289.0L540.6 289.2L539.9 288.4ZM536.0 283.8L540.6 283.5L541.2 284.5L537.3 284.6L536.0 283.8Z" fill="#fff" stroke="#000" stroke-width="3.2" stroke-linejoin="round"/><path d="M623.0 306.7L623.7 304.7L624.7 303.4L626.6 303.7L627.6 304.3L628.9 304.3L629.6 303.1L630.6 303.1L629.6 304.4L631.9 306.4L630.9 307.0L628.3 306.6L625.6 306.5L623.7 306.9ZM635.5 304.7L637.1 303.4L639.4 303.1L639.7 304.4L638.1 304.7L638.4 306.0L639.4 306.7L639.7 308.3L640.0 309.4L638.7 309.8L637.1 309.3L636.8 307.7L636.0 306.5L635.5 305.7ZM642.9 305.2L644.3 305.1L644.9 304.1L644.6 303.4L643.3 303.7L642.9 304.4ZM652.8 303.6L653.8 303.4L656.4 303.6L656.4 304.1L654.4 303.8L653.1 303.9ZM672.6 300.1L673.7 299.5L675.1 298.8L676.4 297.5L676.6 297.9L675.4 299.2L674.4 299.8L673.1 300.2ZM544.5 303.3L546.5 302.1L549.1 302.8L549.4 303.4L547.1 303.4ZM547.1 306.4L547.8 303.7L549.7 303.7L551.4 304.1L552.3 304.7L552.7 305.4L555.0 305.1L554.6 305.5L553.0 305.6L550.4 306.7L548.4 306.6ZM522.9 291.3L525.5 290.0L527.5 290.0L527.5 291.0L524.9 291.5ZM528.1 293.9L530.7 293.0L532.7 293.0L532.1 293.6L529.4 294.1ZM540.6 300.8L541.5 298.7L540.9 298.8L539.9 300.5ZM625.5 334.1L627.0 334.1L627.0 335.8L625.6 335.6ZM624.3 294.6L626.0 293.6L627.6 293.3L627.9 293.9L625.6 294.6ZM619.1 295.6L620.4 294.6L623.7 294.5L623.7 294.9L620.4 295.1Z" fill="#111" stroke="#000" stroke-width="1.4" stroke-linejoin="round"/><path d="M486.9 385.3L488.5 384.7L490.2 385.0L491.8 384.7L493.4 384.5L495.1 385.5L496.7 385.0L498.4 384.9L500.0 385.5L501.6 385.0L503.3 385.2L504.9 384.4L506.5 384.9L508.2 384.6L509.8 384.0L511.4 383.7L513.1 383.1L514.7 383.2L516.4 383.1L518.0 382.6L519.6 382.4L521.3 382.9L522.9 382.6L524.5 382.3L526.2 381.9L527.8 382.3L529.4 382.3L531.1 382.8L532.7 382.2L534.3 382.4L536.0 382.6L537.6 382.0L539.3 381.6L540.9 381.9L542.5 381.8L544.2 380.8L545.8 381.5L547.4 381.1L549.1 381.2L550.7 381.9L552.3 381.7L554.0 381.1L555.6 380.3L557.9 379.0L560.2 378.1L562.8 375.8L564.8 375.3L566.7 375.1L565.4 376.6L564.1 379.9L565.4 381.8L567.1 382.5L568.7 383.7L570.3 383.8L572.0 384.2L573.6 384.6L575.2 384.9L576.9 384.5L578.5 384.9L580.2 384.2L581.8 384.2L583.4 383.5L585.1 384.0L586.7 382.6L588.3 382.5L590.0 382.4L591.6 382.1L593.2 381.3L594.9 380.9L596.5 380.2L598.2 380.7L599.8 380.5L601.4 379.8L603.1 379.6L604.7 380.1L606.3 379.6L608.0 379.6L609.6 379.1L611.2 379.0L612.9 380.0L614.5 379.6L616.2 379.7L617.8 379.3L619.4 379.3L621.1 379.5L622.7 379.8L624.3 378.7L626.0 379.4L627.6 379.0L629.2 379.2L630.9 378.8L632.5 378.7L634.1 377.9L635.8 377.8L637.4 377.8L639.1 377.7L640.7 377.3L642.3 378.0L644.0 378.2L645.6 377.8L647.2 378.5L648.9 377.7L650.5 378.4L652.1 378.9L653.8 379.1L655.4 378.3L657.1 377.7L658.7 377.3L660.3 377.7L662.0 377.6L663.6 376.9L665.2 377.7L666.9 376.8L668.5 376.8L670.1 377.2L671.8 376.9L673.4 376.5L675.1 376.8L676.7 377.2L678.3 376.5L680.0 377.1L681.6 377.1L683.2 377.5L684.9 377.1L686.5 376.8L688.1 376.5L689.8 377.0L691.4 377.0L693.0 376.8L694.7 376.9L696.3 377.3L698.0 377.2L699.6 377.5L701.2 377.5L702.9 377.8L704.5 378.8L706.1 378.5L707.8 379.1L709.4 379.1L711.0 380.4L712.7 380.9L714.3 381.0L716.0 382.6L717.6 383.4L719.2 384.0L720.9 384.5L722.5 384.8L722.5 395.9L486.9 395.9Z" fill="#fff" stroke="#000" stroke-width="2.2" stroke-linejoin="round"/></g><rect x="486.9" y="275.0" width="235.6" height="117.6" fill="none" stroke="#000" stroke-width="1.8"/><clipPath id="cm3"><rect x="150.7" y="786.7" width="235.2" height="117.8"/></clipPath><g clip-path="url(#cm3)"><rect x="150.7" y="786.7" width="235.2" height="117.8" fill="#e8edef"/><path d="M150.3 786.5C165.3 785.5 255.0 785.5 270.0 786.5C285.0 787.5 275.7 793.3 270.0 794.2C264.3 795.1 233.9 793.5 224.4 793.4C214.9 793.3 201.5 793.4 193.9 793.4C186.3 793.4 168.8 793.3 163.3 793.4C157.9 793.5 151.9 795.4 150.3 794.5C148.7 793.6 135.3 787.5 150.3 786.5Z" fill="#3670f2" /><path d="M265.0 786.6C280.1 785.8 370.5 784.1 385.6 786.6C400.7 789.1 388.0 804.5 385.6 806.9C383.2 809.2 370.9 806.2 366.8 805.4C362.7 804.6 359.6 801.9 352.7 800.7C345.8 799.5 321.0 796.9 312.0 796.0C303.0 795.1 286.6 794.0 280.7 793.6C274.8 793.2 267.0 793.7 265.0 792.8C263.0 791.9 249.9 787.4 265.0 786.6Z" fill="#3670f2" /><path d="M153.4 792.3C154.7 791.2 160.5 791.2 163.3 791.1C166.1 791.0 172.7 791.0 175.5 791.4C178.3 791.8 184.2 793.1 185.5 793.9C186.8 794.7 186.5 797.1 186.2 798.0C185.9 798.9 184.5 800.5 183.2 800.9C181.9 801.3 177.6 801.4 175.5 801.5C173.4 801.6 168.6 801.7 166.3 801.8C164.0 801.9 158.9 802.3 157.2 802.1C155.5 801.9 153.4 801.2 152.9 800.0C152.4 798.8 152.1 793.4 153.4 792.3Z" fill="#fc1212" /><path d="M156.9 794.2C158.1 793.6 163.6 793.0 166.3 792.9C169.0 792.8 176.4 793.2 178.6 793.6C180.8 794.0 183.7 795.5 184.1 796.3C184.5 797.1 183.2 799.2 181.6 799.7C179.9 800.2 173.6 800.2 170.9 800.3C168.2 800.4 162.0 800.9 160.2 800.6C158.4 800.3 156.8 798.6 156.4 797.8C156.0 797.0 155.7 794.8 156.9 794.2Z" fill="#ef561e" /><path d="M151.1 801.5C152.5 800.4 160.9 801.0 162.5 801.8C164.1 802.6 164.2 806.8 164.1 807.9C164.0 809.0 163.1 809.9 161.5 810.2C159.9 810.6 152.4 811.8 151.1 810.7C149.8 809.6 149.7 802.6 151.1 801.5Z" fill="#fc1212" /><path d="M151.8 803.0C153.0 802.3 159.8 802.7 161.0 803.3C162.2 803.9 163.0 807.2 161.8 807.9C160.7 808.6 153.1 809.3 151.8 808.7C150.6 808.1 150.7 803.7 151.8 803.0Z" fill="#ef561e" /><path d="M206.1 797.2C208.8 795.5 225.6 794.6 229.0 795.7C232.4 796.9 234.7 804.6 233.6 806.4C232.5 808.2 223.2 809.8 219.9 810.2C216.7 810.6 209.3 811.1 207.6 809.5C205.9 807.9 203.4 798.9 206.1 797.2Z" fill="#1b1bf2" /><path d="M227.5 799.5C229.2 798.1 239.4 798.0 242.8 798.5C246.2 799.0 252.9 801.1 255.0 803.3C257.1 805.5 260.4 814.4 259.6 816.3C258.8 818.2 251.8 818.4 248.9 818.3C246.0 818.2 239.2 816.7 236.7 815.6C234.2 814.5 230.2 811.5 229.0 809.5C227.8 807.5 225.8 800.9 227.5 799.5Z" fill="#fc1212" /><path d="M232.1 802.6C233.2 801.4 241.6 801.0 244.3 801.5C247.0 802.0 252.2 804.8 253.5 806.4C254.8 808.0 256.0 813.3 255.0 814.4C254.0 815.5 248.2 815.4 245.8 815.0C243.4 814.6 237.6 812.8 235.9 811.3C234.2 809.8 231.0 803.8 232.1 802.6Z" fill="#ef561e" /><path d="M253.5 791.1C255.6 790.1 267.9 788.0 270.0 789.6C272.1 791.2 271.5 802.4 270.0 804.1C268.5 805.8 260.2 803.9 258.1 803.0C256.0 802.1 254.1 798.7 253.5 797.2C252.9 795.7 251.4 792.1 253.5 791.1Z" fill="#fc1212" /><path d="M256.5 792.9C257.8 791.9 268.3 791.0 270.0 792.0C271.7 793.0 271.3 800.1 270.0 801.1C268.7 802.1 261.3 801.3 259.6 800.3C257.9 799.3 255.2 793.9 256.5 792.9Z" fill="#ef561e" /><path d="M225.2 822.5C227.1 821.4 236.5 820.5 239.7 820.5C242.9 820.5 249.0 821.2 250.7 822.3C252.4 823.4 253.7 827.7 253.5 829.6C253.3 831.5 250.8 836.4 248.9 837.7C247.0 839.0 240.9 839.9 238.2 839.7C235.5 839.5 229.3 837.5 227.5 836.2C225.7 834.9 224.4 831.0 224.1 829.3C223.8 827.6 223.2 823.6 225.2 822.5Z" fill="#fc1212" /><path d="M229.8 825.1C230.6 823.8 237.5 823.7 239.7 823.8C241.9 823.9 246.5 824.8 247.7 825.7C248.8 826.6 249.5 830.0 248.9 831.2C248.3 832.4 245.0 834.8 243.1 835.1C241.2 835.4 235.3 835.1 233.6 833.9C231.9 832.6 229.0 826.4 229.8 825.1Z" fill="#ef561e" /><path d="M151.8 813.7C153.2 813.2 161.8 813.0 163.3 813.4C164.8 813.8 165.0 816.3 163.6 816.8C162.2 817.3 153.8 817.8 152.3 817.4C150.8 817.0 150.4 814.2 151.8 813.7Z" fill="#fc1212" /><path d="M150.3 821.1C151.5 819.8 158.4 820.8 160.2 821.4C162.0 822.0 164.7 825.1 164.8 826.3C164.9 827.5 162.8 830.5 161.0 831.2C159.2 831.9 151.6 833.1 150.3 831.8C149.0 830.5 149.1 822.4 150.3 821.1Z" fill="#fc1212" /><path d="M151.8 824.0C152.5 823.4 156.7 823.8 157.5 824.4C158.3 825.0 158.8 828.4 158.1 829.0C157.4 829.6 152.6 829.9 151.8 829.3C151.0 828.7 151.1 824.6 151.8 824.0Z" fill="#ef561e" /><path d="M150.3 833.6C151.5 832.5 157.4 831.5 160.2 830.9C163.0 830.3 169.1 829.0 172.5 828.6C175.9 828.2 184.3 827.9 187.7 828.1C191.1 828.3 196.9 829.3 200.0 830.1C203.1 830.9 210.3 833.7 212.2 834.7C214.1 835.8 216.1 837.8 215.3 838.5C214.5 839.2 208.8 840.0 206.1 840.0C203.4 840.0 197.3 838.7 193.9 838.5C190.5 838.3 182.4 838.5 178.6 838.5C174.8 838.5 166.8 838.6 163.3 838.8C159.8 839.0 151.9 840.6 150.3 840.0C148.7 839.4 149.1 834.7 150.3 833.6Z" fill="#fc1212" /><path d="M167.9 830.9C168.5 830.2 176.1 829.7 178.6 829.6C181.1 829.5 185.8 829.6 187.7 830.1C189.6 830.6 194.1 833.1 193.9 833.9C193.7 834.7 188.7 836.0 186.2 836.2C183.7 836.4 176.3 836.2 174.0 835.5C171.7 834.8 167.3 831.6 167.9 830.9Z" fill="#ef561e" /><path d="M233.6 843.1C234.6 842.0 244.3 840.2 247.4 840.0C250.5 839.8 255.3 841.2 258.1 841.6C260.9 842.0 268.5 841.8 270.0 843.1C271.5 844.4 271.9 851.3 270.0 852.3C268.1 853.2 258.8 851.1 255.0 850.7C251.2 850.3 242.4 850.2 239.7 849.2C237.0 848.2 232.6 844.2 233.6 843.1Z" fill="#fc1212" /><path d="M150.3 850.7C152.3 848.1 162.8 849.8 166.3 850.0C169.8 850.2 175.2 852.2 178.6 852.3C182.0 852.4 189.7 850.9 193.9 850.7C198.1 850.5 209.1 849.9 212.2 850.7C215.2 851.5 217.5 854.4 218.3 856.9C219.1 859.4 226.8 868.9 218.3 870.6C209.8 872.3 158.8 873.1 150.3 870.6C141.8 868.1 148.3 853.3 150.3 850.7Z" fill="#fc1212" /><path d="M150.3 855.3C152.3 853.6 162.8 853.6 166.3 853.8C169.8 854.0 175.2 856.9 178.6 856.9C182.0 856.9 190.1 854.1 193.9 853.8C197.7 853.5 206.7 853.3 209.2 854.6C211.7 855.9 221.1 862.9 213.7 864.5C206.3 866.1 158.2 868.8 150.3 867.6C142.4 866.5 148.3 857.0 150.3 855.3Z" fill="#ef561e" /><path d="M157.2 859.9C158.0 859.3 163.7 858.7 164.8 859.1C165.9 859.5 167.1 862.4 166.3 863.0C165.5 863.6 159.8 864.1 158.7 863.7C157.6 863.3 156.4 860.5 157.2 859.9Z" fill="#fc1212" /><path d="M175.5 837.0C176.4 835.3 182.8 834.7 183.9 836.2C185.0 837.7 184.8 847.5 183.9 849.2C183.0 850.9 178.1 851.5 177.0 850.0C175.9 848.5 174.6 838.7 175.5 837.0Z" fill="#fc1212" /><path d="M187.7 837.0C188.4 835.8 193.1 835.6 193.9 836.7C194.7 837.9 194.6 845.0 193.9 846.2C193.2 847.4 188.9 847.6 188.1 846.5C187.3 845.4 187.0 838.2 187.7 837.0Z" fill="#ef561e" /><path d="M198.5 865.3C200.6 863.8 214.1 862.3 216.8 863.7C219.5 865.1 220.5 874.8 219.9 876.7C219.3 878.6 214.7 878.8 212.2 878.6C209.7 878.5 201.7 877.2 200.0 875.5C198.3 873.8 196.4 866.8 198.5 865.3Z" fill="#ef561e" /><path d="M213.7 858.4C214.8 855.9 220.2 854.2 221.4 856.9C222.6 859.6 223.7 876.5 223.2 879.8C222.7 883.1 218.5 883.6 217.1 883.2C215.7 882.8 212.6 879.8 212.2 876.7C211.8 873.6 212.5 860.9 213.7 858.4Z" fill="#fc1212" /><path d="M186.2 858.4C187.7 856.5 194.0 856.1 196.9 855.6C199.8 855.1 206.8 853.9 209.2 854.1C211.6 854.3 215.2 855.7 216.0 856.9C216.8 858.1 216.5 862.7 215.3 863.7C214.1 864.8 208.0 864.8 206.1 865.3C204.2 865.8 200.9 866.5 200.0 867.6C199.1 868.7 197.7 872.6 198.5 873.7C199.3 874.8 204.2 876.0 206.1 876.7C208.0 877.4 212.4 878.0 213.7 879.0C215.0 880.0 217.4 883.4 216.8 884.4C216.2 885.4 211.5 886.9 209.2 887.1C206.9 887.3 201.0 886.8 198.5 885.9C196.0 885.0 191.0 881.7 189.3 879.8C187.6 877.9 185.1 873.3 184.7 870.6C184.3 867.9 184.7 860.3 186.2 858.4Z" fill="#3670f2" stroke="#1b1bf2" stroke-width="2.5" paint-order="stroke"/><path d="M150.3 872.9C151.9 870.2 160.5 873.2 163.3 873.7C166.1 874.2 170.6 875.4 172.5 876.7C174.4 878.0 177.3 882.5 178.6 884.4C179.9 886.3 186.7 890.7 183.2 892.0C179.7 893.3 154.4 897.5 150.3 895.1C146.2 892.7 148.7 875.6 150.3 872.9Z" fill="#1b1bf2" /><path d="M150.3 875.5C151.9 873.2 160.7 876.0 163.3 876.4C165.9 876.8 169.3 877.8 170.9 879.0C172.5 880.2 175.3 884.3 176.3 885.9C177.3 887.5 181.8 890.9 178.6 892.0C175.3 893.1 153.8 897.2 150.3 895.1C146.8 893.0 148.7 877.8 150.3 875.5Z" fill="#3670f2" /><path d="M167.9 870.6C169.1 869.5 180.3 869.1 183.2 870.6C186.1 872.1 190.4 880.3 190.8 882.8C191.2 885.3 187.7 889.5 186.2 890.5C184.7 891.5 180.1 891.8 178.6 890.5C177.1 889.2 175.3 882.3 174.0 879.8C172.7 877.3 166.8 871.8 167.9 870.6Z" fill="#ef561e" /><path d="M175.5 876.7C175.7 875.2 180.3 875.6 181.6 876.7C182.9 877.9 186.4 884.4 186.2 885.9C186.0 887.4 181.4 890.1 180.1 889.0C178.8 887.9 175.3 878.2 175.5 876.7Z" fill="#fc1212" /><path d="M150.3 884.4C153.8 883.4 173.2 887.4 178.6 887.4C184.0 887.4 189.7 884.6 193.9 884.4C198.1 884.2 207.2 885.3 212.2 885.9C217.2 886.5 226.4 889.4 233.6 889.0C240.8 888.6 265.4 882.0 270.0 882.8C274.6 883.6 285.0 893.6 270.0 895.1C255.0 896.6 165.3 896.4 150.3 895.1C135.3 893.8 146.8 885.4 150.3 884.4Z" fill="#1b1bf2" /><path d="M150.3 886.7C153.8 886.1 173.2 890.4 178.6 890.5C184.0 890.6 189.7 887.6 193.9 887.4C198.1 887.2 207.2 888.4 212.2 889.0C217.2 889.6 226.4 892.4 233.6 892.0C240.8 891.6 265.4 885.5 270.0 885.9C274.6 886.3 285.0 894.0 270.0 895.1C255.0 896.2 165.3 896.1 150.3 895.1C135.3 894.1 146.8 887.3 150.3 886.7Z" fill="#3670f2" /><path d="M150.3 878.6C151.2 876.6 155.9 877.7 157.2 879.0C158.5 880.3 160.8 887.0 161.0 889.0C161.2 891.0 160.0 894.3 158.7 895.1C157.4 895.9 151.4 897.2 150.3 895.1C149.2 893.0 149.4 880.6 150.3 878.6Z" fill="#5e6866" stroke="#1b1bf2" stroke-width="4" paint-order="stroke" stroke-linejoin="round"/><path d="M209.2 879.0C210.5 877.7 218.3 878.9 221.4 879.8C224.5 880.7 232.1 884.4 233.6 885.9C235.1 887.4 235.3 891.0 233.6 892.0C231.9 893.0 222.8 893.7 219.9 893.5C217.0 893.3 212.0 892.3 210.7 890.5C209.4 888.7 207.9 880.3 209.2 879.0Z" fill="#fc1212" /><path d="M213.7 882.8C214.1 881.8 221.0 882.8 222.9 883.6C224.8 884.4 229.4 888.0 229.0 889.0C228.6 890.0 221.8 892.1 219.9 891.3C218.0 890.5 213.3 883.8 213.7 882.8Z" fill="#ef561e" /><path d="M230.6 849.2C232.3 846.7 242.5 847.7 247.4 847.7C252.3 847.7 267.2 846.3 270.0 849.2C272.8 852.1 271.9 867.7 270.0 870.6C268.1 873.5 258.8 871.7 255.0 872.1C251.2 872.5 242.4 874.3 239.7 873.7C237.0 873.1 234.7 870.7 233.6 867.6C232.5 864.5 228.9 851.7 230.6 849.2Z" fill="#ef561e" /><path d="M245.8 852.3C247.1 851.0 255.1 850.7 258.1 850.7C261.1 850.7 268.5 850.6 270.0 852.3C271.5 854.0 271.9 863.0 270.0 864.5C268.1 866.0 257.8 864.9 255.0 864.5C252.2 864.1 248.6 862.9 247.4 861.4C246.2 859.9 244.5 853.6 245.8 852.3Z" fill="#fc1212" /><path d="M233.6 875.2C235.3 872.5 244.3 871.6 247.4 870.6C250.5 869.6 255.3 868.2 258.1 867.6C260.9 867.0 268.5 863.0 270.0 866.0C271.5 869.0 274.6 888.8 270.0 892.0C265.4 895.2 238.2 894.1 233.6 892.0C229.0 889.9 231.9 877.9 233.6 875.2Z" fill="#3670f2" stroke="#1b1bf2" stroke-width="2.5" paint-order="stroke"/><path d="M258.8 879.0C259.9 877.3 268.6 875.3 270.0 876.7C271.4 878.1 271.1 888.8 270.0 890.5C268.9 892.2 262.5 891.9 261.1 890.5C259.7 889.1 257.7 880.7 258.8 879.0Z" fill="#5e6866" stroke="#1b1bf2" stroke-width="4" paint-order="stroke" stroke-linejoin="round"/><path d="M226.7 876.7C227.5 875.2 232.0 870.2 233.6 868.3C235.2 866.4 238.6 862.0 239.7 861.4C240.8 860.8 242.6 862.6 242.5 863.7C242.4 864.9 240.3 868.7 239.0 870.6C237.7 872.5 233.5 877.8 232.1 879.0C230.7 880.2 228.2 880.9 227.5 880.6C226.8 880.3 225.9 878.2 226.7 876.7Z" fill="#e8edef" /><path d="M265.0 789.4C267.4 787.6 279.1 789.1 283.8 789.4C288.5 789.7 299.8 790.6 302.6 791.6C305.4 792.6 306.8 796.4 306.0 797.5C305.2 798.6 299.5 800.1 296.3 800.7C293.1 801.3 284.6 802.1 280.7 802.5C276.8 802.9 267.0 805.4 265.0 803.8C263.0 802.2 262.6 791.2 265.0 789.4Z" fill="#fc1212" /><path d="M265.0 791.6C267.4 790.4 279.5 791.0 283.8 791.3C288.1 791.5 297.4 792.8 299.5 793.6C301.6 794.4 302.4 797.0 301.0 797.8C299.6 798.6 293.0 799.5 288.5 799.9C284.0 800.3 267.9 801.7 265.0 800.7C262.1 799.7 262.6 792.8 265.0 791.6Z" fill="#ef561e" /><path d="M269.7 796.3C271.5 795.3 283.0 795.3 285.4 796.0C287.8 796.7 290.3 801.2 288.5 802.2C286.7 803.2 273.7 804.5 271.3 803.8C268.9 803.1 267.9 797.3 269.7 796.3Z" fill="#e8edef" /><path d="M274.4 819.8C276.5 819.2 289.5 819.4 291.6 820.1C293.8 820.8 293.8 824.5 291.6 825.1C289.5 825.7 276.5 825.5 274.4 824.8C272.2 824.1 272.2 820.4 274.4 819.8Z" fill="#fc1212" /><path d="M357.4 805.4C359.3 804.4 371.1 804.6 374.6 804.6C378.1 804.6 384.2 804.1 385.6 805.4C387.0 806.7 387.4 813.5 385.6 814.8C383.8 816.1 374.8 815.8 371.5 815.5C368.2 815.2 360.8 813.7 359.0 812.4C357.2 811.1 355.4 806.4 357.4 805.4Z" fill="#fc1212" /><path d="M360.6 807.7C362.2 807.2 371.7 807.1 374.6 807.2C377.5 807.3 382.8 807.6 384.0 808.2C385.2 808.8 385.6 811.3 384.0 811.9C382.4 812.5 374.2 813.0 371.5 812.9C368.8 812.8 363.5 811.4 362.1 810.8C360.7 810.1 359.0 808.2 360.6 807.7Z" fill="#ef561e" /><path d="M265.0 843.0C266.2 840.2 273.0 841.6 274.4 844.5C275.8 847.4 277.2 863.8 276.0 866.5C274.8 869.2 266.4 869.4 265.0 866.5C263.6 863.6 263.8 845.8 265.0 843.0Z" fill="#fc1212" /><path d="M265.0 847.7C265.8 845.8 270.4 846.5 271.3 848.4C272.2 850.3 272.8 861.4 272.0 863.3C271.2 865.2 265.9 865.2 265.0 863.3C264.1 861.3 264.2 849.6 265.0 847.7Z" fill="#ef561e" /><path d="M297.9 828.9C301.0 824.8 318.8 827.3 324.5 827.3C330.2 827.3 340.6 826.3 343.3 828.9C346.1 831.5 346.5 844.0 346.5 847.7C346.5 851.4 349.2 857.0 343.3 858.6C337.4 860.2 305.2 863.9 299.5 860.2C293.8 856.5 294.8 833.0 297.9 828.9Z" fill="#fc1212" /><path d="M308.9 844.5C311.2 842.4 323.8 841.0 327.7 841.4C331.6 841.8 338.4 845.7 340.2 847.7C342.0 849.7 345.7 855.7 341.8 857.1C337.9 858.5 313.0 860.2 308.9 858.6C304.8 857.0 306.5 846.6 308.9 844.5Z" fill="#ef561e" /><path d="M300.7 832.0C301.6 829.3 307.0 829.6 308.1 832.0C309.2 834.4 309.6 847.6 309.2 850.8C308.8 854.0 305.9 857.0 304.9 857.4C303.9 857.8 301.8 857.1 301.3 853.9C300.8 850.7 299.8 834.7 300.7 832.0Z" fill="#e8edef" /><path d="M312.0 836.7C312.8 835.6 319.0 835.7 321.4 835.9C323.8 836.1 330.0 837.2 330.8 838.3C331.6 839.4 329.7 843.7 327.7 844.5C325.7 845.3 317.1 845.5 315.1 844.5C313.1 843.5 311.2 837.8 312.0 836.7Z" fill="#e8edef" /><path d="M328.4 850.5C329.0 850.0 332.5 850.0 333.1 850.5C333.7 851.0 333.7 854.2 333.1 854.7C332.5 855.2 329.0 855.2 328.4 854.7C327.8 854.2 327.8 851.0 328.4 850.5Z" fill="#2a42ee" /><path d="M269.7 858.6C271.5 857.8 281.3 861.8 285.4 861.8C289.5 861.8 300.2 857.8 302.6 858.6C305.0 859.4 306.0 866.5 304.2 868.0C302.4 869.5 292.6 870.4 288.5 870.4C284.4 870.4 273.7 869.5 271.3 868.0C268.9 866.5 267.9 859.4 269.7 858.6Z" fill="#fc1212" /><path d="M274.4 862.5C275.4 862.0 285.4 864.2 288.5 864.1C291.6 864.0 298.5 861.4 299.5 861.8C300.5 862.2 298.7 866.4 296.3 867.2C293.9 868.0 283.4 868.6 280.7 868.0C278.0 867.4 273.4 863.0 274.4 862.5Z" fill="#ef561e" /><path d="M265.0 866.5C267.0 863.8 276.2 870.4 280.7 869.6C285.2 868.8 296.1 861.8 301.0 860.2C305.9 858.6 314.9 857.3 319.8 857.1C324.7 856.9 336.1 857.4 340.2 858.6C344.3 859.8 350.3 864.7 352.7 866.5C355.1 868.3 357.8 869.6 359.0 872.7C360.2 875.8 373.9 889.1 362.1 891.5C350.4 893.9 277.1 894.6 265.0 891.5C252.9 888.4 263.0 869.2 265.0 866.5Z" fill="#3670f2" /><path d="M310.4 866.5C311.4 865.5 315.6 864.2 318.3 864.1C321.1 864.0 329.3 864.4 332.4 865.7C335.5 867.0 342.3 872.1 343.3 874.3C344.3 876.4 342.1 881.8 340.2 882.9C338.2 884.0 330.8 883.5 327.7 882.9C324.6 882.3 317.3 879.6 315.1 878.2C312.9 876.8 311.0 873.4 310.4 871.9C309.8 870.4 309.4 867.5 310.4 866.5Z" fill="#1b1bf2" /><path d="M316.7 868.8C318.0 867.9 325.3 867.2 327.7 867.7C330.1 868.2 335.0 871.3 335.8 872.7C336.6 874.1 335.6 878.1 334.2 879.0C332.8 879.9 326.6 880.1 324.5 879.6C322.4 879.1 318.5 876.5 317.5 875.1C316.5 873.8 315.4 869.7 316.7 868.8Z" fill="#5e6866" /><path d="M311.2 877.4C311.8 877.0 315.3 877.0 315.9 877.4C316.5 877.8 316.5 880.5 315.9 880.9C315.3 881.3 311.8 881.3 311.2 880.9C310.6 880.5 310.6 877.8 311.2 877.4Z" fill="#fc1212" /><path d="M265.0 874.3C267.0 872.5 276.8 876.8 280.7 877.4C284.6 878.0 293.4 878.0 296.3 879.0C299.2 880.0 304.2 883.9 304.2 885.3C304.2 886.7 301.2 889.1 296.3 889.9C291.4 890.7 268.9 893.5 265.0 891.5C261.1 889.5 263.0 876.1 265.0 874.3Z" fill="#1b1bf2" /><path d="M265.0 879.0C266.6 877.5 275.5 878.6 277.5 879.8C279.5 881.0 282.3 886.9 280.7 888.4C279.1 889.9 267.0 892.7 265.0 891.5C263.0 890.3 263.4 880.5 265.0 879.0Z" fill="#5e6866" /><path d="M338.6 847.7C340.0 846.1 349.4 849.4 352.7 850.8C356.0 852.2 362.6 856.5 365.3 858.6C368.0 860.8 373.4 864.7 374.6 868.0C375.8 871.3 375.8 882.8 374.6 885.3C373.4 887.8 367.2 889.2 365.3 888.4C363.4 887.6 360.6 881.4 359.0 879.0C357.4 876.6 354.8 871.6 352.7 869.6C350.6 867.6 343.6 866.0 341.8 863.3C340.0 860.6 337.2 849.3 338.6 847.7Z" fill="#ef561e" /><path d="M357.4 866.5C359.0 865.1 369.4 866.4 371.5 868.0C373.6 869.6 375.0 876.4 374.6 879.0C374.2 881.6 370.0 887.9 368.4 889.2C366.8 890.5 363.3 890.5 362.1 889.2C360.9 887.9 359.6 881.8 359.0 879.0C358.4 876.2 355.8 867.9 357.4 866.5Z" fill="#fc1212" /><path d="M337.4 847.7C337.9 846.1 342.3 845.8 343.0 847.7C343.7 849.7 343.9 861.7 343.3 863.3C342.8 864.9 339.3 862.2 338.6 860.2C337.9 858.2 336.8 849.3 337.4 847.7Z" fill="#e8edef" /><path d="M371.5 872.7C373.9 869.8 383.8 867.1 385.6 869.6C387.4 872.1 388.0 890.2 385.6 893.1C383.2 896.0 368.6 895.6 366.8 893.1C365.0 890.6 369.1 875.6 371.5 872.7Z" fill="#3670f2" /><path d="M332.4 828.9C334.8 827.8 349.4 828.8 352.7 829.6C356.0 830.4 358.0 832.5 359.0 835.1C360.0 837.8 361.4 848.6 360.6 850.8C359.8 853.0 355.4 852.8 352.7 852.4C349.9 852.0 341.0 849.5 338.6 847.7C336.2 845.9 334.7 840.6 333.9 838.3C333.1 835.9 330.0 830.0 332.4 828.9Z" fill="#fc1212" /><path d="M338.6 835.1C339.2 833.7 349.0 835.3 351.2 836.7C353.4 838.1 356.5 844.7 355.9 846.1C355.3 847.5 348.7 849.1 346.5 847.7C344.3 846.3 338.0 836.5 338.6 835.1Z" fill="#ef561e" /><path d="M362.1 826.0C363.6 825.1 371.7 824.5 374.6 824.2C377.5 823.9 384.2 822.7 385.6 823.5C387.0 824.3 387.0 829.5 385.6 830.4C384.2 831.3 377.4 830.5 374.6 830.7C371.8 830.9 364.5 832.3 362.9 831.7C361.3 831.1 360.6 826.9 362.1 826.0Z" fill="#fc1212" /><path d="M367.6 835.9C368.2 834.9 375.6 835.2 377.8 835.1C380.1 835.0 384.6 833.9 385.6 834.8C386.6 835.7 387.2 841.2 385.6 842.2C384.0 843.2 375.4 843.8 373.1 843.0C370.9 842.2 367.0 836.9 367.6 835.9Z" fill="#fc1212" /><path d="M373.9 837.2C374.6 836.7 379.5 836.7 380.9 836.7C382.3 836.7 384.3 836.7 384.8 837.2C385.3 837.7 386.0 840.1 384.8 840.6C383.6 841.1 376.8 841.5 375.4 841.1C374.0 840.7 373.2 837.8 373.9 837.2Z" fill="#ef561e" /><path d="M373.9 848.4C374.6 847.0 379.4 847.0 380.9 846.9C382.4 846.8 385.0 845.8 385.6 847.3C386.2 848.8 386.9 857.3 385.6 858.6C384.3 859.9 376.9 859.1 375.4 857.8C373.9 856.5 373.2 849.8 373.9 848.4Z" fill="#fc1212" /><path d="M377.0 850.8C377.6 850.1 381.5 849.8 382.5 850.0C383.5 850.2 384.6 851.6 384.8 852.4C385.0 853.2 384.8 856.3 384.0 856.7C383.2 857.1 379.0 856.5 378.1 855.8C377.2 855.1 376.4 851.5 377.0 850.8Z" fill="#ef561e" /><path d="M365.3 862.5C365.5 861.9 372.1 863.1 374.6 863.0C377.1 862.9 384.2 861.3 385.6 861.8C387.0 862.3 387.2 866.1 385.6 866.8C384.0 867.5 375.6 868.2 373.1 867.7C370.6 867.2 365.1 863.1 365.3 862.5Z" fill="#fc1212" /><path d="M159.8 800.5L161.8 799.6L166.1 798.9L170.3 799.5L176.2 800.0L180.1 800.1L184.7 799.7L189.9 800.4L193.2 800.6L197.7 800.8L204.3 801.1L206.2 801.1L209.5 800.8L212.8 800.1L214.7 801.8L212.1 803.7L208.8 804.7L206.9 807.0L207.5 808.3L210.8 809.3L214.7 810.9L216.4 811.9L216.7 809.6L218.0 807.6L217.3 804.8L220.6 805.0L222.6 805.7L224.5 807.3L226.2 806.1L228.1 808.6L231.1 810.9L231.7 811.9L229.1 812.9L225.2 812.9L226.2 813.5L226.5 814.8L228.4 815.8L225.2 816.5L222.6 817.1L222.2 818.2L220.0 819.1L219.0 820.4L218.6 821.7L219.0 822.6L217.3 823.5L215.4 825.0L215.2 826.3L216.0 827.9L215.8 829.1L214.9 828.9L214.3 827.6L214.2 826.3L213.4 826.0L212.1 825.7L210.2 825.8L209.5 826.5L207.5 826.2L206.2 826.6L204.8 827.6L204.6 829.2L204.5 831.5L205.3 832.8L206.6 833.7L208.5 833.5L209.2 831.9L211.5 831.5L211.1 833.5L210.6 835.1L213.4 835.3L213.9 836.1L213.7 838.1L214.7 839.7L216.4 839.4L217.7 840.0L216.4 840.7L215.4 840.7L213.7 840.0L212.3 839.1L211.1 837.1L208.5 836.4L206.6 835.1L205.3 835.3L203.0 834.5L199.4 832.5L199.4 830.9L197.7 828.9L194.8 826.3L193.5 825.0L193.8 826.0L195.1 827.9L196.4 830.5L195.1 829.6L193.8 827.6L192.8 826.3L191.9 824.3L189.6 823.0L188.3 821.1L187.3 819.1L187.3 815.5L187.0 813.9L187.9 813.5L185.0 812.6L183.4 809.9L181.4 808.3L179.4 807.3L176.8 806.5L173.6 806.0L171.6 806.0L169.6 807.0L167.7 808.0L165.1 808.6L162.5 809.6L160.8 809.9L163.8 809.0L165.4 807.1L162.5 807.2L160.8 806.0L160.2 805.0L160.8 804.2L163.1 803.4L159.8 803.3L158.5 802.7L161.2 802.1L159.8 800.5ZM220.6 794.6L223.9 792.9L229.1 791.9L238.9 791.6L248.7 791.0L255.2 791.9L256.5 793.9L255.2 796.5L253.9 798.5L252.6 799.8L247.4 801.1L243.5 802.7L240.9 805.0L239.6 806.3L237.6 805.8L235.6 804.4L234.3 802.4L233.0 800.4L232.4 798.5L230.4 796.2L225.2 795.5L220.6 794.6ZM217.7 840.0L219.0 838.7L221.3 837.7L222.6 837.6L223.9 838.7L226.5 838.6L228.4 838.7L229.1 840.0L231.1 841.7L234.3 842.3L235.0 843.0L235.6 844.6L236.6 846.3L239.2 847.2L241.5 847.5L243.1 848.2L245.4 849.2L245.4 851.5L244.1 852.8L243.0 854.1L242.8 857.1L242.2 858.7L241.5 860.0L239.6 860.7L236.9 862.3L236.6 864.3L235.3 865.9L233.7 867.9L232.4 868.5L230.7 868.8L231.1 870.1L230.4 870.9L227.8 871.1L227.7 872.4L225.8 872.4L226.6 873.4L225.6 875.0L224.2 876.0L225.2 877.0L223.5 878.6L223.2 879.8L223.9 881.3L222.6 881.6L221.3 880.9L219.6 880.0L219.0 877.0L220.0 874.4L220.3 871.8L220.3 869.8L221.6 866.5L221.6 863.9L222.2 860.7L222.4 857.7L221.3 856.7L219.3 855.4L218.5 854.1L216.7 850.8L215.4 849.5L215.7 847.6L216.0 846.3L216.0 844.9L216.8 844.3L217.7 843.0L217.8 841.0L217.7 840.0ZM262.4 817.5L262.1 820.1L262.6 821.4L264.4 821.7L264.7 822.0L267.0 821.5L268.3 820.4L268.5 819.1L270.4 818.1L270.4 817.3L272.2 817.4L273.5 816.8L274.5 816.7L275.2 817.5L276.1 818.2L278.4 819.4L278.8 820.7L279.4 820.1L280.4 819.3L279.1 818.4L277.4 817.8L276.5 816.5L276.3 815.8L277.3 815.8L277.8 816.0L278.4 816.9L280.1 817.8L281.0 818.4L280.9 819.4L282.0 820.7L283.0 821.7L283.3 820.9L284.0 820.4L283.2 819.1L284.0 818.9L285.3 818.9L285.4 819.7L285.8 820.4L286.1 821.4L286.9 821.6L288.2 821.8L289.5 822.0L290.8 821.5L291.8 821.7L291.8 822.7L291.2 824.0L290.6 825.1L291.1 826.3L292.1 827.3L293.1 829.2L293.8 831.2L295.1 833.5L296.3 835.8L296.7 837.3L297.7 837.2L300.0 836.4L302.3 835.3L304.6 834.1L305.5 833.2L306.5 832.2L307.4 830.9L306.5 830.2L305.1 829.3L305.0 828.5L304.6 828.9L303.6 829.8L302.0 829.8L301.8 828.6L301.1 828.6L301.0 827.9L300.0 826.9L299.7 826.0L300.6 826.0L301.3 826.6L301.9 827.4L304.0 828.3L305.5 828.7L308.5 829.1L311.7 829.0L312.4 829.9L313.2 830.9L314.4 831.9L315.9 831.7L315.9 833.2L316.3 835.1L317.2 837.3L318.1 839.4L318.9 840.4L319.4 839.8L320.5 838.9L320.7 836.8L320.8 835.2L322.0 834.7L323.2 833.6L324.8 832.5L325.1 831.5L326.1 831.2L327.4 830.9L328.3 831.1L328.7 832.1L329.9 833.7L329.9 835.1L332.0 834.8L332.3 836.4L332.7 838.7L332.5 840.4L333.8 841.3L333.8 843.0L334.6 843.8L335.9 844.7L336.4 844.6L335.9 842.7L335.1 841.5L334.0 840.7L333.4 839.4L333.2 837.7L333.6 836.8L334.3 837.3L335.3 837.6L335.6 838.4L336.4 838.7L336.9 839.9L337.9 839.4L338.5 838.7L339.6 838.0L339.8 836.8L339.4 835.5L338.0 834.2L337.4 833.2L337.9 832.2L338.9 831.5L339.8 831.5L340.5 832.3L340.8 831.6L342.1 831.1L343.4 830.7L344.7 830.2L346.0 829.1L346.7 827.9L347.7 826.9L348.0 825.6L347.5 825.3L347.4 824.3L347.0 823.3L346.2 822.7L347.0 822.0L348.3 821.4L347.4 820.9L346.0 821.1L345.4 820.4L345.2 820.1L346.0 819.7L347.4 818.9L348.0 819.1L347.7 820.1L348.7 819.6L349.5 819.5L350.2 819.7L349.8 820.7L350.9 821.1L350.9 823.0L351.6 823.0L352.8 822.6L352.9 821.5L352.1 820.3L351.6 819.6L352.9 818.8L353.0 818.4L353.8 817.9L354.5 817.3L355.5 817.6L356.8 816.9L358.1 815.9L358.8 814.8L360.0 813.9L360.1 812.6L360.7 811.4L359.4 810.3L357.8 810.3L356.8 809.7L358.1 808.6L360.1 807.4L361.7 806.8L365.0 806.8L367.6 807.0L369.6 806.8L370.5 807.8L370.2 809.6L370.7 812.2L371.9 811.2L372.8 810.8L374.1 809.7L373.9 808.4L374.8 807.8L375.1 806.0L376.1 806.0L379.4 806.3L381.3 805.4L384.6 804.7L385.2 804.4L385.9 803.1L385.9 800.6L382.6 799.9L379.4 799.8L376.1 800.1L372.8 799.5L369.6 799.1L366.3 798.8L363.0 798.2L359.8 798.2L356.5 798.7L353.2 799.1L351.9 798.2L350.0 797.5L346.7 797.8L342.1 797.4L340.2 797.2L341.5 796.2L338.2 795.2L336.2 794.7L333.6 795.9L331.7 795.9L329.1 796.2L325.8 796.5L324.5 797.2L320.6 798.2L320.9 797.5L318.0 798.2L315.7 798.0L314.0 797.8L313.1 798.8L311.9 799.3L312.1 800.1L310.1 800.2L307.5 800.6L306.2 800.8L303.6 800.9L300.3 801.4L298.4 801.1L297.0 800.8L296.7 801.4L297.0 802.1L294.4 802.4L290.5 803.4L289.5 802.1L291.8 801.9L295.1 801.4L294.8 801.1L291.8 800.4L289.9 800.2L287.9 799.9L285.9 799.1L284.0 799.2L281.4 799.8L279.4 800.4L278.1 801.0L277.1 801.8L276.5 802.7L275.2 803.4L273.9 804.0L271.9 804.7L271.6 805.7L271.6 807.0L272.2 807.6L273.2 807.6L274.8 807.0L275.2 806.7L275.6 807.1L276.1 808.0L276.6 808.6L276.5 809.1L277.6 809.3L277.8 808.8L278.9 808.6L279.1 808.0L279.1 807.3L280.1 806.8L280.6 806.1L279.6 805.7L279.6 804.7L281.0 804.0L282.0 803.4L282.3 802.7L283.7 802.5L284.8 802.9L284.3 803.4L282.7 804.4L282.3 805.7L283.0 806.1L284.6 806.1L286.6 806.0L287.9 806.5L286.6 806.7L284.2 806.7L283.7 807.3L284.1 808.0L282.7 807.9L282.0 808.4L282.2 809.5L281.4 809.8L280.5 809.9L279.1 809.9L277.6 810.3L276.1 810.1L275.5 810.3L275.4 809.7L274.8 809.6L275.2 808.6L275.2 807.9L273.9 808.2L273.6 809.3L274.0 810.3L272.9 810.6L271.6 810.8L271.2 811.4L270.6 812.0L269.3 812.3L269.3 812.7L268.3 813.1L267.3 813.1L267.3 813.7L265.4 813.9L265.5 814.3L266.9 814.8L267.5 815.5L267.5 816.5L267.3 817.2L265.7 817.2L263.1 817.0L262.4 817.5ZM150.7 803.1L154.0 803.4L155.6 802.7L156.9 802.4L155.9 801.8L153.3 801.4L150.7 800.6ZM264.6 812.8L266.0 812.6L269.2 812.1L269.4 811.1L268.5 810.7L268.1 809.9L267.3 809.2L266.9 807.9L265.9 807.8L266.3 807.2L265.0 807.2L264.2 808.0L264.6 808.8L264.3 809.3L265.2 809.7L266.1 809.7L266.3 810.3L266.3 810.7L265.3 811.0L264.9 811.8L266.1 812.0L264.6 812.8ZM264.4 811.4L264.2 810.3L264.5 809.9L263.5 809.4L262.8 809.7L262.9 810.1L261.8 810.4L261.8 811.5L262.9 811.8L264.4 811.4ZM253.9 803.7L252.6 802.7L253.9 802.1L257.8 802.1L259.4 802.9L258.8 803.5L256.1 804.1L253.9 803.7ZM264.4 822.2L267.0 822.6L269.0 821.7L271.6 821.5L273.9 821.5L275.4 821.3L275.6 822.0L275.0 823.0L275.4 823.5L276.6 824.1L278.2 824.5L280.1 825.4L281.1 825.6L281.4 824.8L282.7 824.1L284.6 824.8L287.2 825.4L289.3 825.1L290.6 825.1L291.1 826.3L290.7 827.4L290.2 827.9L291.5 830.0L292.6 831.9L292.7 833.4L293.5 833.8L294.2 835.5L295.2 836.1L296.1 837.3L296.6 837.8L297.4 838.8L299.3 838.3L301.8 837.8L301.6 838.7L301.2 840.0L300.3 841.7L299.7 842.9L298.7 844.0L297.0 845.3L295.6 846.6L294.6 847.4L293.9 848.7L293.6 849.9L294.1 850.8L294.4 852.3L294.8 852.8L294.8 854.9L294.5 856.1L292.7 857.1L292.0 857.9L291.0 858.6L291.4 860.0L291.5 861.3L289.9 862.2L289.6 862.7L289.5 864.3L288.7 864.8L287.9 866.1L286.6 867.2L285.5 867.7L285.2 867.9L283.0 867.9L281.4 868.4L280.3 867.9L280.2 866.8L279.7 865.2L278.9 864.3L278.2 863.3L277.7 860.5L277.1 859.3L276.0 857.4L275.9 856.5L276.3 855.1L277.2 853.5L276.9 852.0L276.3 849.5L276.3 848.9L275.5 848.2L274.5 846.9L274.4 845.3L274.7 844.0L274.6 843.3L273.9 842.5L272.2 842.8L271.2 841.5L270.1 841.5L268.3 842.0L267.0 842.5L265.4 842.2L263.4 842.7L262.4 842.4L260.9 841.1L259.7 840.0L259.4 839.4L258.5 838.5L257.4 837.5L256.9 836.0L257.5 835.1L257.8 833.5L257.7 832.8L257.2 831.9L257.5 831.0L258.5 829.6L259.3 828.2L260.1 827.3L261.8 826.6L261.9 825.1L262.7 823.9L263.9 823.3L264.4 822.2ZM300.5 853.5L301.3 855.5L300.8 857.1L300.0 859.3L299.3 861.8L298.0 862.4L297.0 861.8L296.6 860.3L296.9 859.0L297.3 856.7L298.7 855.9L299.7 854.6L300.5 853.5ZM342.5 860.0L342.9 862.6L342.5 862.9L343.4 865.2L343.4 867.5L344.1 868.5L345.4 868.5L346.7 867.9L349.0 867.8L350.6 866.7L352.6 866.3L354.1 866.2L356.0 867.1L357.1 868.4L358.3 867.2L358.3 868.8L359.5 869.2L359.6 870.1L360.4 870.7L362.1 871.0L363.9 871.1L365.0 870.3L366.3 870.1L366.4 869.2L367.1 867.9L368.2 866.1L368.7 864.3L368.3 862.3L366.8 860.4L366.0 860.2L364.7 858.4L363.7 857.2L363.2 855.4L362.1 854.8L361.4 852.6L360.9 854.0L360.9 855.4L360.4 857.1L359.4 857.0L358.2 856.2L357.1 855.5L357.7 853.6L356.5 853.5L354.9 853.1L354.2 853.6L353.3 854.2L352.9 855.4L351.8 855.0L350.6 854.9L349.6 856.3L348.7 856.3L347.9 857.8L346.6 858.7L345.1 859.1L343.2 859.9L342.5 860.0ZM362.8 872.2L365.2 872.4L365.0 873.7L363.7 874.1L362.8 872.2ZM381.1 868.1L382.3 869.2L383.2 869.9L384.9 870.3L383.9 871.5L382.6 872.8L382.3 871.8L381.8 871.3L382.4 870.1L381.1 868.1ZM381.2 872.1L382.2 872.9L381.2 874.1L380.0 875.0L378.7 876.1L377.1 875.7L377.7 874.6L379.7 873.4L381.2 872.1ZM353.8 823.3L354.9 822.4L356.8 822.3L357.7 821.3L359.4 820.7L359.8 819.1L360.7 818.5L361.1 819.7L360.4 821.4L360.3 822.2L359.6 822.7L359.0 823.0L357.8 823.0L356.5 823.7L354.9 823.2L353.8 823.3ZM353.0 823.8L353.9 823.4L354.3 824.3L353.9 825.3L353.1 825.0L353.0 823.8ZM359.8 818.4L360.6 817.3L360.9 815.9L362.1 816.6L363.4 817.3L361.9 818.1L360.7 817.8L359.8 818.4ZM361.1 815.5L362.1 815.0L361.7 813.2L361.9 811.2L361.4 810.1L361.1 812.2L361.1 815.5ZM346.8 830.5L347.7 829.0L347.9 829.6L347.4 831.2L346.8 830.5ZM339.3 833.0L340.5 832.4L340.8 832.8L340.2 833.6L339.3 833.5L339.3 833.0ZM320.5 841.3L320.4 840.0L320.7 839.2L321.4 840.0L321.7 840.7L321.4 841.5L320.6 841.7L320.5 841.3ZM330.6 842.0L332.0 842.2L333.8 844.0L336.2 846.3L337.6 847.6L337.6 849.4L336.6 849.5L334.9 848.2L333.6 846.3L332.7 844.5L330.6 842.0ZM337.0 850.1L338.9 849.7L340.5 850.1L341.8 850.1L343.1 850.7L343.1 851.3L340.8 851.0L338.9 850.7L337.2 850.2L337.0 850.1ZM339.5 844.6L339.8 846.3L340.5 847.6L342.8 847.9L344.4 847.9L344.1 846.3L345.3 844.9L345.9 842.3L345.1 841.3L344.1 841.3L343.7 842.3L342.5 843.3L341.1 844.0L339.5 844.6ZM346.4 849.2L346.0 847.9L345.9 847.4L346.4 845.4L346.7 845.1L349.0 845.1L350.0 844.6L349.3 845.4L347.4 845.3L347.4 846.3L348.9 846.2L347.7 846.8L348.3 848.5L347.7 848.7L347.0 847.5L347.0 849.2L346.4 849.2ZM353.9 846.3L355.8 846.3L356.5 847.8L358.1 846.6L360.4 847.3L363.0 848.4L363.7 849.2L364.7 849.5L364.3 850.7L366.0 851.8L366.6 852.5L364.3 852.1L363.4 850.8L362.1 851.0L361.7 851.6L360.4 851.6L359.1 850.9L358.5 851.1L359.0 850.2L358.5 849.1L356.8 848.5L354.9 848.2L354.5 847.4L355.4 847.0L354.5 846.9L353.9 846.3ZM346.7 835.1L347.1 833.5L348.1 833.5L348.2 834.8L347.7 835.2L348.0 836.4L349.3 837.1L349.0 837.4L347.7 836.6L347.1 836.2L346.7 835.1ZM348.0 841.0L349.1 840.4L350.3 839.2L350.9 840.7L350.6 841.5L350.0 841.9L349.3 841.5L348.0 841.0ZM212.8 831.3L214.7 830.4L216.0 830.5L218.0 831.4L219.8 832.3L217.7 832.6L217.3 832.0L215.7 831.4L214.4 831.1L212.8 831.3ZM219.6 833.6L220.7 832.6L222.6 832.6L223.7 833.4L221.7 834.0L219.6 833.6Z" fill="#fff" stroke="#000" stroke-width="2.1" stroke-linejoin="round"/><path d="M216.0 797.5L221.3 799.1L224.5 800.4L227.8 802.1L226.2 804.0L222.6 804.5L220.0 803.4L217.3 803.4L220.0 801.8L216.0 800.1L212.1 799.5L210.8 797.8L216.0 797.5ZM209.5 792.9L216.0 791.3L225.8 791.3L227.8 791.9L221.3 793.9L217.3 795.5L209.5 795.2L209.5 792.9ZM191.2 797.8L199.7 797.5L203.0 799.1L201.0 800.8L195.1 800.8L191.2 799.8L191.2 797.8ZM186.6 798.5L191.2 796.8L193.2 797.5L189.9 798.8L186.6 798.5ZM205.6 795.2L216.0 795.5L216.0 796.8L208.2 796.8L205.6 795.2ZM193.2 795.9L199.7 795.5L204.3 796.5L197.7 796.7L193.2 795.9ZM204.9 797.5L209.5 797.3L210.2 798.8L206.2 798.8L204.9 797.5ZM212.1 802.4L216.0 803.1L215.4 804.0L212.1 803.7L212.1 802.4ZM275.5 794.2L278.8 793.2L282.7 792.9L285.9 793.2L282.0 794.6L279.4 795.5L277.4 795.0L275.5 794.2ZM302.3 798.8L304.9 797.5L307.5 795.9L312.7 795.2L310.1 796.3L306.2 797.8L304.9 799.3L302.3 798.8ZM330.4 793.9L333.6 793.6L336.9 794.2L333.6 794.7L330.4 793.9ZM357.2 796.2L361.1 795.9L365.6 796.2L362.4 796.6L357.2 796.2ZM204.9 792.9L209.5 792.3L211.5 793.2L208.2 794.2L204.9 792.9ZM201.7 797.5L204.3 797.3L204.9 798.5L202.3 798.6L201.7 797.5ZM203.6 800.1L205.6 799.9L206.2 800.8L204.3 800.9L203.6 800.1ZM199.7 795.5L204.3 795.2L204.9 796.2L201.0 796.3L199.7 795.5Z" fill="#fff" stroke="#000" stroke-width="3.2" stroke-linejoin="round"/><path d="M286.6 818.4L287.2 816.5L288.2 815.2L290.2 815.5L291.2 816.0L292.5 816.0L293.1 814.8L294.1 814.8L293.1 816.2L295.4 818.1L294.4 818.8L291.8 818.3L289.2 818.2L287.2 818.6ZM299.0 816.5L300.6 815.2L302.9 814.8L303.3 816.2L301.6 816.5L301.9 817.8L302.9 818.4L303.3 820.1L303.6 821.2L302.3 821.5L300.6 821.1L300.3 819.4L299.5 818.2L299.0 817.5ZM306.4 816.9L307.8 816.8L308.5 815.8L308.2 815.1L306.8 815.5L306.4 816.2ZM316.3 815.4L317.3 815.1L319.9 815.3L319.9 815.8L318.0 815.6L316.6 815.6ZM336.1 811.8L337.2 811.2L338.5 810.6L339.8 809.3L340.0 809.6L338.9 810.9L337.9 811.6L336.6 811.9ZM208.2 815.0L210.2 813.9L212.8 814.5L213.1 815.2L210.8 815.2ZM210.8 818.1L211.5 815.5L213.4 815.5L215.1 815.8L216.0 816.5L216.4 817.1L218.6 816.8L218.3 817.3L216.7 817.3L214.1 818.4L212.1 818.3ZM186.6 803.1L189.2 801.8L191.2 801.8L191.2 802.7L188.6 803.2ZM191.9 805.7L194.5 804.7L196.4 804.7L195.8 805.4L193.2 805.8ZM204.3 812.6L205.3 810.4L204.6 810.6L203.6 812.2ZM289.1 845.9L290.5 845.9L290.5 847.6L289.2 847.4ZM287.9 806.3L289.5 805.4L291.2 805.0L291.5 805.7L289.2 806.3ZM282.7 807.3L284.0 806.3L287.2 806.2L287.2 806.7L284.0 806.9Z" fill="#111" stroke="#000" stroke-width="1.4" stroke-linejoin="round"/><path d="M150.7 897.1L152.3 896.6L154.0 896.9L155.6 896.6L157.2 896.3L158.9 897.4L160.5 896.9L162.1 896.8L163.8 897.4L165.4 896.9L167.0 897.1L168.7 896.3L170.3 896.7L171.9 896.5L173.6 895.9L175.2 895.6L176.8 894.9L178.5 895.1L180.1 895.0L181.7 894.5L183.4 894.3L185.0 894.8L186.6 894.4L188.3 894.1L189.9 893.8L191.5 894.1L193.2 894.1L194.8 894.7L196.4 894.1L198.1 894.3L199.7 894.4L201.3 893.9L203.0 893.5L204.6 893.8L206.2 893.6L207.9 892.7L209.5 893.4L211.1 893.0L212.8 893.1L214.4 893.8L216.0 893.6L217.7 893.0L219.3 892.2L221.6 890.8L223.9 890.0L226.5 887.7L228.4 887.2L230.4 887.0L229.1 888.4L227.8 891.7L229.1 893.7L230.7 894.4L232.4 895.6L234.0 895.7L235.6 896.1L237.3 896.5L238.9 896.8L240.5 896.4L242.2 896.7L243.8 896.1L245.4 896.1L247.1 895.4L248.7 895.8L250.3 894.4L252.0 894.3L253.6 894.3L255.2 894.0L256.9 893.1L258.5 892.8L260.1 892.0L261.8 892.6L263.4 892.3L265.0 891.7L266.7 891.5L268.3 891.9L269.9 891.5L271.6 891.5L273.2 891.0L274.8 890.9L276.5 891.8L278.1 891.5L279.7 891.6L281.4 891.1L283.0 891.1L284.6 891.4L286.3 891.7L287.9 890.6L289.5 891.3L291.2 890.8L292.8 891.1L294.4 890.7L296.1 890.6L297.7 889.8L299.3 889.7L301.0 889.7L302.6 889.5L304.2 889.2L305.9 889.9L307.5 890.1L309.1 889.7L310.8 890.4L312.4 889.6L314.0 890.2L315.7 890.8L317.3 891.0L318.9 890.2L320.6 889.5L322.2 889.1L323.8 889.6L325.5 889.4L327.1 888.8L328.7 889.5L330.4 888.7L332.0 888.7L333.6 889.0L335.3 888.8L336.9 888.4L338.5 888.7L340.2 889.1L341.8 888.4L343.4 889.0L345.1 889.0L346.7 889.4L348.3 889.0L350.0 888.7L351.6 888.4L353.2 888.9L354.9 888.9L356.5 888.6L358.1 888.8L359.8 889.2L361.4 889.1L363.0 889.4L364.7 889.4L366.3 889.7L367.9 890.6L369.6 890.3L371.2 891.0L372.8 891.0L374.5 892.2L376.1 892.8L377.7 892.9L379.4 894.5L381.0 895.2L382.6 895.9L384.3 896.4L385.9 896.6L385.9 907.8L150.7 907.8Z" fill="#fff" stroke="#000" stroke-width="2.2" stroke-linejoin="round"/></g><rect x="150.7" y="786.7" width="235.2" height="117.8" fill="none" stroke="#000" stroke-width="1.8"/><clipPath id="cm4"><rect x="486.9" y="916.0" width="235.7" height="117.8"/></clipPath><g clip-path="url(#cm4)"><rect x="486.9" y="916.0" width="235.7" height="117.8" fill="#e8edef"/><path d="M554.0 969.3L555.3 968.0L557.6 967.0L558.9 966.9L560.2 968.0L562.8 967.9L564.8 968.0L565.5 969.3L567.4 971.0L570.7 971.6L571.4 972.3L572.0 973.9L573.0 975.6L575.6 976.5L577.9 976.8L579.5 977.5L581.8 978.5L581.8 980.8L580.5 982.1L579.3 983.4L579.2 986.4L578.6 988.0L577.9 989.3L575.9 990.0L573.3 991.6L573.0 993.6L571.7 995.2L570.0 997.2L568.7 997.8L567.1 998.1L567.4 999.4L566.8 1000.2L564.2 1000.4L564.0 1001.7L562.2 1001.7L563.0 1002.7L562.0 1004.3L560.6 1005.3L561.5 1006.3L559.9 1007.9L559.6 1009.1L560.2 1010.6L558.9 1010.9L557.6 1010.2L556.0 1009.3L555.3 1006.3L556.3 1003.7L556.6 1001.1L556.6 999.1L557.9 995.8L557.9 993.2L558.6 990.0L558.8 987.0L557.6 986.0L555.6 984.7L554.8 983.4L553.0 980.1L551.7 978.8L552.0 976.9L552.4 975.6L552.4 974.2L553.2 973.6L554.0 972.3L554.1 970.3L554.0 969.3ZM637.0 982.8L637.8 984.8L637.4 986.4L636.5 988.6L635.8 991.1L634.5 991.7L633.6 991.1L633.1 989.6L633.4 988.3L633.8 986.0L635.2 985.2L636.2 983.9L637.0 982.8ZM667.1 971.3L668.6 971.5L670.4 973.3L672.8 975.6L674.2 976.9L674.2 978.7L673.2 978.8L671.5 977.5L670.2 975.6L669.2 973.8L667.1 971.3ZM673.6 979.4L675.5 979.0L677.1 979.4L678.4 979.4L679.7 980.0L679.7 980.6L677.4 980.3L675.5 980.0L673.8 979.5L673.6 979.4ZM676.1 973.9L676.4 975.6L677.1 976.9L679.4 977.2L681.0 977.2L680.7 975.6L681.9 974.2L682.5 971.6L681.7 970.6L680.7 970.6L680.3 971.6L679.1 972.6L677.8 973.3L676.1 973.9ZM683.0 978.5L682.7 977.2L682.5 976.7L683.0 974.7L683.3 974.4L685.6 974.4L686.6 973.9L685.9 974.7L684.0 974.6L684.0 975.6L685.5 975.5L684.3 976.1L685.0 977.8L684.3 978.0L683.6 976.8L683.6 978.5L683.0 978.5ZM683.3 964.4L683.7 962.8L684.8 962.8L684.8 964.1L684.4 964.5L684.6 965.7L685.9 966.4L685.6 966.7L684.3 965.9L683.7 965.5L683.3 964.4ZM684.6 970.3L685.7 969.7L686.9 968.5L687.6 970.0L687.2 970.8L686.6 971.2L685.9 970.8L684.6 970.3ZM549.1 960.6L551.1 959.7L552.4 959.8L554.3 960.7L556.2 961.6L554.0 961.9L553.7 961.3L552.0 960.7L550.7 960.4L549.1 960.6ZM556.0 962.9L557.1 961.9L558.9 961.9L560.0 962.7L558.1 963.3L556.0 962.9ZM657.1 970.6L657.0 969.3L657.3 968.5L658.0 969.3L658.3 970.0L657.9 970.8L657.1 971.0L657.1 970.6ZM675.9 962.3L677.1 961.7L677.4 962.1L676.8 962.9L675.9 962.8L675.9 962.3ZM683.4 959.8L684.3 958.3L684.6 958.9L684.0 960.5L683.4 959.8ZM540.9 958.5L540.8 960.8L541.6 962.1L542.9 963.0L544.8 962.8L545.5 961.2L547.8 960.8L547.5 962.8L546.9 964.4L549.8 964.6L550.2 965.4L550.1 967.4L551.1 969.0L552.7 968.7L554.0 969.3L552.7 970.0L551.7 970.0L550.1 969.3L548.6 968.4L547.5 966.4L544.8 965.7L542.9 964.4L541.6 964.6L539.3 963.8L535.7 961.8L535.7 960.2M535.7 960.2L534.0 958.2L531.1 955.6L529.8 954.3L530.1 955.3L531.4 957.2L532.7 959.8L531.4 958.9L530.1 956.9L529.1 955.6L528.1 953.6L525.9 952.3L524.5 950.4L523.6 948.4L523.6 944.8M558.9 946.4L558.6 947.5L556.3 948.4L555.3 949.7L555.0 951.0L555.3 951.9L553.7 952.8L551.7 954.3L551.6 955.6M638.3 967.1L638.1 968.0L637.7 969.3L636.8 971.0L636.2 972.2L635.2 973.3L633.6 974.6L632.1 975.9L631.1 976.7L630.4 978.0L630.2 979.2L630.6 980.1L630.9 981.6L631.3 982.1L631.3 984.2L631.0 985.4L629.2 986.4L628.5 987.2L627.5 987.9L627.9 989.3L628.0 990.6L626.4 991.5L626.1 992.0L626.0 993.6L625.2 994.1L624.4 995.4L623.1 996.5L622.0 997.0L621.6 997.2L619.5 997.2L617.8 997.7L616.8 997.2L616.7 996.1L616.1 994.5L615.4 993.6L614.7 992.6L614.2 989.8L613.5 988.6L612.5 986.7L612.3 985.8L612.7 984.4L613.7 982.8L613.4 981.3L612.7 978.8L612.7 978.2L612.0 977.5L611.0 976.2L610.8 974.6M648.3 958.3L648.9 959.2L649.8 960.2L650.9 961.2L652.4 961.0L652.4 962.5L652.9 964.4L653.7 966.6L654.7 968.7L655.5 969.7L655.9 969.1L657.1 968.2L657.3 966.1L657.3 964.5L658.6 964.0L659.8 962.9L661.4 961.8L661.7 960.8L662.7 960.5L664.0 960.2L664.9 960.4L665.2 961.4L666.5 963.0L666.5 964.4L668.6 964.1L668.9 965.7L669.2 968.0L669.1 969.7L670.4 970.6L670.4 972.3L671.2 973.1L672.5 974.0L673.0 973.9L672.4 972.0L671.7 970.8L670.5 970.0L670.0 968.7L669.8 967.0L670.2 966.1L670.9 966.6L671.9 966.9L672.2 967.7L673.0 968.0L673.5 969.2L674.5 968.7L675.1 968.0L676.2 967.3L676.4 966.1L676.0 964.8L674.6 963.5L674.0 962.5L674.5 961.5L675.5 960.8L676.4 960.8L677.1 961.6L677.4 960.9L678.7 960.4L680.0 960.0L681.4 959.5L682.7 958.4L683.3 957.2L684.3 956.2M701.3 987.7L700.3 986.5L699.9 984.7L698.7 984.1L698.0 981.9L697.6 983.3L697.5 984.7L697.1 986.4L696.1 986.3L694.8 985.5L693.7 984.8L694.3 982.9L693.1 982.8L691.6 982.4L690.8 982.9L689.9 983.5L689.5 984.7L688.4 984.3L687.2 984.2L686.2 985.6L685.3 985.6L684.6 987.1" fill="none" stroke="#fc1212" stroke-width="4.5" stroke-linejoin="round" stroke-linecap="round"/><path d="M487.1 916.8C502.0 914.4 591.1 914.6 606.0 916.8C620.9 919.0 607.5 932.2 606.0 934.4C604.5 936.6 597.1 935.0 594.1 934.4C591.1 933.8 584.9 930.7 581.8 929.8C578.7 928.9 573.2 928.1 569.6 927.5C566.0 926.9 557.8 925.4 552.8 925.2C547.8 925.0 534.7 925.6 529.9 926.0C525.1 926.4 518.2 927.5 514.6 928.3C511.0 929.1 503.5 931.1 500.8 932.1C498.1 933.1 494.9 935.4 493.2 935.9C491.5 936.4 487.9 938.3 487.1 935.9C486.3 933.5 472.2 919.2 487.1 916.8Z" fill="#fc1212" /><path d="M487.8 917.9C502.1 916.2 588.6 916.1 603.2 917.6C617.8 919.1 605.9 928.1 604.8 929.8C603.7 931.5 597.0 931.7 594.1 931.3C591.2 930.9 585.2 927.8 581.8 926.8C578.4 925.8 571.2 924.2 566.6 923.7C562.0 923.2 550.8 922.5 545.2 922.5C539.7 922.5 527.0 923.1 522.2 923.7C517.4 924.3 510.1 926.7 506.9 927.5C503.6 928.3 498.5 929.7 496.2 930.1C493.9 930.5 489.7 932.5 488.6 931.0C487.6 929.5 473.5 919.6 487.8 917.9Z" fill="#ef561e" /><path d="M500.8 922.5C501.5 922.0 505.3 921.6 506.9 921.6C508.5 921.6 512.7 922.3 513.4 922.8C514.1 923.3 513.2 925.0 512.4 925.5C511.6 926.0 508.3 926.5 506.9 926.5C505.5 926.5 501.9 925.7 501.1 925.2C500.3 924.7 500.1 923.0 500.8 922.5Z" fill="#e8edef" /><path d="M487.1 924.9C487.9 924.4 492.7 925.1 493.5 925.8C494.3 926.4 494.3 929.6 493.5 930.1C492.7 930.6 487.9 930.8 487.1 930.1C486.3 929.5 486.3 925.4 487.1 924.9Z" fill="#2a42ee" /><path d="M523.7 922.5C526.2 921.6 539.8 921.5 545.2 921.6C550.6 921.8 563.8 922.6 566.6 923.7C569.4 924.8 569.3 929.1 567.8 930.1C566.3 931.1 558.1 931.7 554.3 931.7C550.5 931.7 541.1 930.5 537.5 930.1C533.9 929.7 527.0 929.6 525.3 928.6C523.6 927.6 521.2 923.4 523.7 922.5Z" fill="#2a42ee" /><path d="M544.4 933.6C545.3 933.1 551.6 933.1 552.8 933.6C553.9 934.1 554.5 937.0 553.6 937.5C552.7 938.0 546.4 938.3 545.2 937.8C544.1 937.3 543.5 934.1 544.4 933.6Z" fill="#5e6866" /><path d="M603.3 917.7C605.6 916.9 620.2 916.8 622.9 917.4C625.5 918.0 625.5 921.5 624.5 922.4C623.5 923.3 617.6 924.5 615.1 924.7C612.6 924.9 605.6 924.9 604.1 924.0C602.6 923.1 600.9 918.5 603.3 917.7Z" fill="#e8edef" /><path d="M622.9 916.9C635.0 915.5 709.3 916.3 721.6 916.9C733.9 917.5 730.8 920.9 721.6 921.6C712.4 922.3 659.0 922.0 648.0 922.4C637.0 922.8 636.8 924.0 633.9 924.7C631.0 925.4 625.9 928.9 624.5 927.9C623.1 926.9 610.8 918.3 622.9 916.9Z" fill="#fc1212" /><path d="M626.1 917.7C630.4 916.8 662.1 917.0 666.8 917.4C671.5 917.8 666.8 920.0 663.7 920.5C660.6 921.0 645.6 921.1 641.7 921.6C637.8 922.1 634.2 924.8 632.3 924.3C630.3 923.8 621.8 918.6 626.1 917.7Z" fill="#ef561e" /><path d="M632.3 921.6C635.2 920.7 652.5 920.8 663.7 920.5C674.9 920.2 714.4 918.5 721.6 919.6C728.8 920.7 724.9 927.8 721.6 929.0C718.3 930.2 702.2 929.2 695.0 929.0C687.8 928.8 670.6 927.6 663.7 927.4C656.9 927.2 644.1 928.1 640.2 927.4C636.3 926.7 629.4 922.5 632.3 921.6Z" fill="#2a42ee" /><path d="M676.2 922.7C680.7 922.1 715.9 921.6 721.6 922.1C727.3 922.6 726.1 926.2 721.6 926.8C717.1 927.4 691.3 927.3 685.6 926.8C679.9 926.3 671.7 923.3 676.2 922.7Z" fill="#1b1bf2" /><path d="M694.7 933.1C696.7 931.9 708.0 930.9 710.6 931.5C713.2 932.1 715.7 936.3 715.7 938.1C715.8 939.9 712.8 945.2 711.0 946.2C709.2 947.2 703.3 947.1 701.3 946.5C699.3 945.9 695.8 943.2 695.0 941.5C694.2 939.8 692.8 934.4 694.7 933.1Z" fill="#fc1212" /><path d="M696.6 934.6C698.0 933.7 707.3 933.1 709.1 933.7C710.9 934.3 711.6 938.2 711.0 939.3C710.4 940.4 706.0 942.6 704.4 942.8C702.8 943.0 699.1 942.2 698.1 941.2C697.1 940.2 695.2 935.5 696.6 934.6Z" fill="#2a42ee" /><path d="M540.3 952.4C542.3 951.0 552.4 950.5 555.9 950.9C559.4 951.3 566.4 953.9 568.4 955.5C570.4 957.1 571.6 961.0 571.9 963.5C572.1 966.0 572.4 973.6 570.4 975.1C568.4 976.6 559.0 975.8 555.9 975.1C552.8 974.5 547.2 971.5 545.2 969.9C543.2 968.2 540.6 964.1 540.0 961.9C539.4 959.7 538.3 953.8 540.3 952.4Z" fill="#fc1212" /><path d="M543.6 955.8C544.4 954.6 551.6 954.2 554.3 954.6C557.0 955.0 563.4 957.4 565.0 958.9C566.6 960.4 567.9 965.5 566.9 966.5C565.9 967.5 559.7 967.1 557.4 966.8C555.1 966.5 549.9 965.2 548.2 963.8C546.5 962.4 542.8 956.9 543.6 955.8Z" fill="#ef561e" /><path d="M545.2 960.4C546.2 959.8 552.5 960.4 554.3 961.0C556.0 961.6 559.4 964.2 559.2 965.0C559.0 965.8 554.4 967.6 552.8 967.7C551.2 967.8 547.3 966.8 546.4 965.9C545.5 965.0 544.2 961.0 545.2 960.4Z" fill="#2a42ee" /><path d="M549.7 949.4C550.7 948.2 561.2 947.3 563.5 947.9C565.8 948.5 568.8 953.1 567.8 954.3C566.8 955.5 558.2 958.2 555.9 957.6C553.6 957.0 548.8 950.6 549.7 949.4Z" fill="#fc1212" /><path d="M666.8 971.0C671.3 970.2 699.5 969.8 704.4 971.0C709.3 972.2 707.0 978.4 706.3 980.4C705.5 982.4 701.4 986.0 698.4 987.0C695.4 988.0 685.5 988.9 682.5 988.5C679.5 988.1 676.1 985.2 674.3 983.8C672.5 982.4 668.9 978.9 668.0 977.3C667.1 975.7 662.2 971.8 666.8 971.0Z" fill="#fc1212" /><path d="M669.9 972.3C671.7 971.3 685.5 971.5 688.7 972.3C691.9 973.1 696.1 977.4 695.3 978.8C694.5 980.2 685.1 983.3 682.5 983.5C679.9 983.7 676.2 981.8 674.6 980.4C673.0 979.0 668.1 973.3 669.9 972.3Z" fill="#ef561e" /><path d="M684.0 977.3C684.8 976.4 693.2 976.6 695.0 977.3C696.8 978.0 698.9 981.8 698.1 982.7C697.3 983.6 690.5 985.0 688.7 984.3C686.9 983.6 683.2 978.2 684.0 977.3Z" fill="#2a42ee" /><path d="M702.0 987.4C702.3 986.7 705.1 986.7 705.6 987.4C706.1 988.1 706.6 992.2 706.3 992.9C706.0 993.6 703.6 993.6 703.1 992.9C702.6 992.2 701.7 988.1 702.0 987.4Z" fill="#fc1212" /><path d="M548.2 986.3C549.3 985.3 554.5 982.4 555.9 983.2C557.3 984.0 558.9 989.9 559.2 992.4C559.5 994.9 558.7 1001.6 558.3 1003.4C557.9 1005.2 556.8 1007.3 555.9 1006.5C555.0 1005.7 552.4 999.0 551.3 997.0C550.2 995.0 547.7 992.2 547.3 990.9C546.9 989.6 547.1 987.3 548.2 986.3Z" fill="#fc1212" /><path d="M551.3 988.1C551.9 987.3 555.1 985.6 555.9 986.3C556.7 987.0 557.6 992.6 557.4 993.9C557.2 995.2 555.1 997.2 554.3 997.0C553.5 996.8 551.7 993.5 551.3 992.4C550.9 991.3 550.7 988.9 551.3 988.1Z" fill="#ef561e" /><path d="M555.1 986.3C555.5 985.7 557.9 985.7 558.3 986.3C558.7 986.9 559.0 990.3 558.6 990.9C558.2 991.5 555.9 991.5 555.5 990.9C555.1 990.3 554.8 986.9 555.1 986.3Z" fill="#2a42ee" /><path d="M627.3 971.0C628.5 968.2 637.4 968.5 638.9 971.0C640.4 973.5 640.1 988.6 638.9 991.4C637.7 994.2 631.0 995.8 629.5 993.2C628.0 990.7 626.1 973.8 627.3 971.0Z" fill="#fc1212" /><path d="M498.1 951.2C498.4 950.9 500.5 950.9 500.8 951.2C501.1 951.5 501.1 953.4 500.8 953.7C500.5 954.0 498.4 954.0 498.1 953.7C497.8 953.4 497.8 951.5 498.1 951.2Z" fill="#fc1212" /><path d="M487.1 964.7C487.5 964.4 489.7 964.4 490.1 964.7C490.5 965.0 490.5 966.5 490.1 966.8C489.7 967.1 487.5 967.1 487.1 966.8C486.7 966.5 486.7 965.0 487.1 964.7Z" fill="#fc1212" /><path d="M490.1 983.5C491.2 983.0 498.2 983.2 499.3 983.8C500.4 984.4 500.1 987.6 499.0 988.1C497.9 988.6 491.5 988.4 490.4 987.8C489.3 987.2 489.0 984.0 490.1 983.5Z" fill="#fc1212" /><path d="M501.1 983.8C502.6 983.4 511.6 982.9 513.0 983.2C514.5 983.6 514.2 986.2 512.7 986.6C511.3 987.0 502.8 987.0 501.4 986.6C499.9 986.2 499.7 984.2 501.1 983.8Z" fill="#fc1212" /><path d="M513.8 981.4C514.2 980.8 517.4 980.6 517.9 981.1C518.4 981.6 518.1 985.1 517.6 985.7C517.1 986.3 514.8 986.2 514.3 985.7C513.8 985.2 513.3 982.0 513.8 981.4Z" fill="#fc1212" /><path d="M526.8 982.0C527.7 981.6 533.8 982.3 534.8 982.9C535.8 983.5 535.4 986.2 534.5 986.6C533.6 987.0 528.4 986.3 527.4 985.7C526.4 985.1 525.9 982.4 526.8 982.0Z" fill="#fc1212" /><path d="M525.6 995.8C526.1 995.3 529.4 995.3 529.9 995.8C530.4 996.2 530.4 998.9 529.9 999.4C529.4 999.9 526.1 999.9 525.6 999.4C525.1 998.9 525.1 996.2 525.6 995.8Z" fill="#fc1212" /><path d="M537.8 1007.1C538.2 1006.4 543.3 1004.6 545.2 1003.9C547.1 1003.2 551.5 1001.6 552.8 1001.6C554.1 1001.6 556.1 1003.0 555.9 1003.9C555.7 1004.8 553.0 1007.8 551.3 1008.5C549.6 1009.2 543.8 1009.7 542.1 1009.5C540.4 1009.3 537.4 1007.8 537.8 1007.1Z" fill="#fc1212" /><path d="M587.3 981.7C587.8 981.2 590.5 981.2 591.0 981.7C591.5 982.2 591.5 984.9 591.0 985.4C590.5 985.9 587.8 985.9 587.3 985.4C586.8 984.9 586.8 982.2 587.3 981.7Z" fill="#fc1212" /><path d="M487.1 1016.1C489.6 1014.6 501.5 1012.9 506.9 1012.6C512.2 1012.3 524.4 1013.2 529.9 1013.5C535.4 1013.8 547.5 1014.2 551.3 1014.6C555.1 1015.0 560.4 1016.0 560.4 1016.9C560.4 1017.8 555.1 1020.6 551.3 1021.5C547.5 1022.4 535.4 1023.4 529.9 1023.7C524.4 1024.0 512.2 1024.1 506.9 1024.2C501.5 1024.3 489.6 1025.8 487.1 1024.8C484.6 1023.8 484.6 1017.6 487.1 1016.1Z" fill="#fc1212" /><path d="M497.8 1015.6C499.1 1015.0 505.4 1014.1 508.5 1014.1C511.6 1014.1 520.7 1014.6 522.2 1015.3C523.7 1016.0 522.6 1019.0 520.7 1019.6C518.8 1020.2 509.8 1020.3 506.9 1020.2C504.0 1020.1 498.9 1019.3 497.8 1018.7C496.7 1018.1 496.5 1016.2 497.8 1015.6Z" fill="#ef561e" /><path d="M529.9 1017.2C531.0 1016.8 539.4 1016.6 542.1 1016.6C544.8 1016.6 550.5 1017.2 551.3 1017.6C552.1 1018.0 550.5 1019.6 548.2 1019.9C545.9 1020.2 535.2 1020.5 532.9 1020.2C530.6 1019.9 528.8 1017.7 529.9 1017.2Z" fill="#e8edef" /><path d="M565.0 1016.9C567.5 1015.7 579.8 1016.3 584.9 1016.3C590.0 1016.3 603.4 1015.6 606.0 1016.6C608.6 1017.6 611.1 1023.3 606.0 1024.5C600.9 1025.7 570.1 1027.0 565.0 1026.0C559.9 1025.0 562.5 1018.1 565.0 1016.9Z" fill="#fc1212" /><path d="M569.6 1018.4C572.3 1017.7 586.5 1018.4 591.0 1018.4C595.5 1018.4 604.1 1018.1 606.0 1018.7C607.9 1019.3 610.5 1022.4 606.0 1023.0C601.5 1023.6 574.1 1024.3 569.6 1023.7C565.1 1023.1 566.9 1019.1 569.6 1018.4Z" fill="#ef561e" /><path d="M565.0 1021.1C567.5 1020.6 582.4 1021.2 584.9 1021.8C587.4 1022.4 587.4 1025.2 584.9 1025.7C582.4 1026.2 567.5 1026.3 565.0 1025.7C562.5 1025.1 562.5 1021.6 565.0 1021.1Z" fill="#2a42ee" /><path d="M601.0 1012.0C602.2 1010.6 607.3 1010.5 610.4 1010.2C613.5 1009.9 623.0 1009.6 626.1 1009.8C629.2 1010.0 632.0 1011.7 635.5 1012.0C639.0 1012.3 651.7 1011.5 654.3 1012.0C656.9 1012.5 657.9 1014.9 656.1 1015.6C654.3 1016.3 645.1 1017.1 640.2 1017.7C635.3 1018.3 621.6 1020.0 616.7 1020.5C611.8 1021.0 603.0 1022.5 601.0 1021.4C599.0 1020.3 599.8 1013.4 601.0 1012.0Z" fill="#fc1212" /><path d="M604.1 1014.1C605.7 1013.1 614.0 1012.3 616.7 1012.0C619.5 1011.7 624.2 1011.7 626.1 1012.0C628.0 1012.3 629.6 1014.2 632.3 1014.5C635.0 1014.8 646.4 1013.9 648.0 1014.2C649.6 1014.5 648.8 1016.1 644.9 1016.7C641.0 1017.3 621.8 1018.5 616.7 1018.9C611.6 1019.3 605.7 1020.2 604.1 1019.6C602.5 1019.0 602.5 1015.1 604.1 1014.1Z" fill="#ef561e" /><path d="M610.4 1017.1C611.1 1016.6 615.1 1016.3 616.7 1016.4C618.3 1016.5 622.3 1017.5 622.9 1018.0C623.5 1018.5 623.2 1020.4 621.7 1020.8C620.2 1021.1 612.1 1021.3 610.7 1020.8C609.3 1020.3 609.6 1017.6 610.4 1017.1Z" fill="#2a42ee" /><path d="M691.9 1016.4C693.9 1015.7 706.9 1015.9 710.6 1015.8C714.3 1015.7 720.2 1014.5 721.6 1015.5C723.0 1016.5 724.9 1022.9 721.6 1023.6C718.3 1024.3 698.7 1022.3 695.0 1021.4C691.3 1020.5 689.9 1017.1 691.9 1016.4Z" fill="#fc1212" /><path d="M701.3 1017.2C702.1 1016.7 711.3 1017.1 713.8 1017.1C716.3 1017.1 720.6 1016.5 721.6 1017.1C722.6 1017.7 723.4 1021.6 721.6 1022.1C719.8 1022.6 710.0 1021.7 707.5 1021.1C705.0 1020.5 700.5 1017.7 701.3 1017.2Z" fill="#ef561e" /><path d="M658.2 985.4C658.7 985.0 661.3 985.0 661.8 985.4C662.2 985.8 662.2 987.9 661.8 988.2C661.3 988.6 658.7 988.6 658.2 988.2C657.8 987.9 657.8 985.8 658.2 985.4Z" fill="#fc1212" /><path d="M715.7 980.4C716.2 980.0 719.5 980.0 720.0 980.4C720.5 980.8 720.5 983.1 720.0 983.5C719.5 983.9 716.2 983.9 715.7 983.5C715.2 983.1 715.2 980.8 715.7 980.4Z" fill="#fc1212" /><path d="M496.1 929.8L498.0 928.9L502.3 928.2L506.5 928.8L512.4 929.3L516.4 929.4L520.9 929.0L526.2 929.7L529.5 929.9L534.0 930.1L540.6 930.4L542.6 930.4L545.8 930.1L549.1 929.4L551.1 931.1L548.4 933.0L545.2 934.0L543.2 936.3L543.9 937.6L547.1 938.6L551.1 940.2L552.7 941.2L553.0 938.9L554.3 936.9L553.7 934.1L557.0 934.3L558.9 935.0L560.9 936.6L562.5 935.4L564.5 937.9L567.4 940.2L568.1 941.2L565.5 942.2L561.5 942.2L562.5 942.8L562.8 944.1L564.8 945.1L561.5 945.8L558.9 946.4L558.6 947.5L556.3 948.4L555.3 949.7L555.0 951.0L555.3 951.9L553.7 952.8L551.7 954.3L551.6 955.6L552.4 957.2L552.2 958.4L551.3 958.2L550.6 956.9L550.5 955.6L549.8 955.3L548.4 955.0L546.5 955.1L545.8 955.8L543.9 955.5L542.6 955.9L541.1 956.9L540.9 958.5L540.8 960.8L541.6 962.1L542.9 963.0L544.8 962.8L545.5 961.2L547.8 960.8L547.5 962.8L546.9 964.4L549.8 964.6L550.2 965.4L550.1 967.4L551.1 969.0L552.7 968.7L554.0 969.3L552.7 970.0L551.7 970.0L550.1 969.3L548.6 968.4L547.5 966.4L544.8 965.7L542.9 964.4L541.6 964.6L539.3 963.8L535.7 961.8L535.7 960.2L534.0 958.2L531.1 955.6L529.8 954.3L530.1 955.3L531.4 957.2L532.7 959.8L531.4 958.9L530.1 956.9L529.1 955.6L528.1 953.6L525.9 952.3L524.5 950.4L523.6 948.4L523.6 944.8L523.2 943.2L524.2 942.8L521.3 941.9L519.6 939.2L517.7 937.6L515.7 936.6L513.1 935.8L509.8 935.3L507.9 935.3L505.9 936.3L503.9 937.3L501.3 937.9L498.7 938.9L497.0 939.2L500.0 938.3L501.6 936.4L498.7 936.5L497.0 935.3L496.4 934.3L497.0 933.5L499.3 932.7L496.1 932.6L494.8 932.0L497.4 931.4L496.1 929.8ZM557.0 923.9L560.2 922.2L565.5 921.2L575.3 920.9L585.1 920.3L591.7 921.2L593.0 923.2L591.7 925.8L590.3 927.8L589.0 929.1L583.8 930.4L579.9 932.0L577.3 934.3L575.9 935.6L574.0 935.1L572.0 933.7L570.7 931.7L569.4 929.7L568.7 927.8L566.8 925.5L561.5 924.8L557.0 923.9ZM554.0 969.3L555.3 968.0L557.6 967.0L558.9 966.9L560.2 968.0L562.8 967.9L564.8 968.0L565.5 969.3L567.4 971.0L570.7 971.6L571.4 972.3L572.0 973.9L573.0 975.6L575.6 976.5L577.9 976.8L579.5 977.5L581.8 978.5L581.8 980.8L580.5 982.1L579.3 983.4L579.2 986.4L578.6 988.0L577.9 989.3L575.9 990.0L573.3 991.6L573.0 993.6L571.7 995.2L570.0 997.2L568.7 997.8L567.1 998.1L567.4 999.4L566.8 1000.2L564.2 1000.4L564.0 1001.7L562.2 1001.7L563.0 1002.7L562.0 1004.3L560.6 1005.3L561.5 1006.3L559.9 1007.9L559.6 1009.1L560.2 1010.6L558.9 1010.9L557.6 1010.2L556.0 1009.3L555.3 1006.3L556.3 1003.7L556.6 1001.1L556.6 999.1L557.9 995.8L557.9 993.2L558.6 990.0L558.8 987.0L557.6 986.0L555.6 984.7L554.8 983.4L553.0 980.1L551.7 978.8L552.0 976.9L552.4 975.6L552.4 974.2L553.2 973.6L554.0 972.3L554.1 970.3L554.0 969.3ZM598.9 946.8L598.5 949.4L599.0 950.7L600.8 951.0L601.1 951.3L603.4 950.8L604.8 949.7L604.9 948.4L606.8 947.4L606.8 946.6L608.7 946.7L610.0 946.1L611.0 946.0L611.6 946.8L612.6 947.5L614.9 948.7L615.2 950.0L615.9 949.4L616.9 948.6L615.6 947.7L613.9 947.1L612.9 945.8L612.8 945.1L613.7 945.1L614.2 945.3L614.9 946.2L616.5 947.1L617.5 947.7L617.4 948.7L618.5 950.0L619.5 951.0L619.8 950.2L620.5 949.7L619.7 948.4L620.5 948.2L621.8 948.2L621.9 949.0L622.3 949.7L622.6 950.7L623.4 950.9L624.7 951.1L626.0 951.3L627.3 950.8L628.3 951.0L628.3 952.0L627.7 953.3L627.1 954.4L627.6 955.6L628.6 956.6L629.6 958.5L630.3 960.5L631.6 962.8L632.8 965.1L633.2 966.6L634.2 966.5L636.5 965.7L638.8 964.6L641.1 963.4L642.1 962.5L643.1 961.5L643.9 960.2L643.1 959.5L641.7 958.6L641.5 957.8L641.1 958.2L640.1 959.1L638.5 959.1L638.3 957.9L637.6 957.9L637.5 957.2L636.5 956.2L636.2 955.3L637.2 955.3L637.8 955.9L638.5 956.7L640.6 957.6L642.1 958.0L645.0 958.4L648.3 958.3L648.9 959.2L649.8 960.2L650.9 961.2L652.4 961.0L652.4 962.5L652.9 964.4L653.7 966.6L654.7 968.7L655.5 969.7L655.9 969.1L657.1 968.2L657.3 966.1L657.3 964.5L658.6 964.0L659.8 962.9L661.4 961.8L661.7 960.8L662.7 960.5L664.0 960.2L664.9 960.4L665.2 961.4L666.5 963.0L666.5 964.4L668.6 964.1L668.9 965.7L669.2 968.0L669.1 969.7L670.4 970.6L670.4 972.3L671.2 973.1L672.5 974.0L673.0 973.9L672.4 972.0L671.7 970.8L670.5 970.0L670.0 968.7L669.8 967.0L670.2 966.1L670.9 966.6L671.9 966.9L672.2 967.7L673.0 968.0L673.5 969.2L674.5 968.7L675.1 968.0L676.2 967.3L676.4 966.1L676.0 964.8L674.6 963.5L674.0 962.5L674.5 961.5L675.5 960.8L676.4 960.8L677.1 961.6L677.4 960.9L678.7 960.4L680.0 960.0L681.4 959.5L682.7 958.4L683.3 957.2L684.3 956.2L684.6 954.9L684.2 954.6L684.0 953.6L683.6 952.6L682.8 952.0L683.6 951.3L685.0 950.7L684.0 950.2L682.6 950.4L682.0 949.7L681.8 949.4L682.7 949.0L684.0 948.2L684.6 948.4L684.3 949.4L685.3 948.9L686.1 948.8L686.8 949.0L686.4 950.0L687.6 950.4L687.5 952.3L688.2 952.3L689.4 951.9L689.5 950.8L688.8 949.6L688.2 948.9L689.5 948.1L689.7 947.7L690.4 947.2L691.2 946.6L692.2 946.9L693.5 946.2L694.8 945.2L695.4 944.1L696.6 943.2L696.7 941.9L697.3 940.7L696.1 939.6L694.4 939.6L693.5 939.0L694.8 937.9L696.7 936.7L698.4 936.1L701.6 936.1L704.3 936.3L706.2 936.1L707.2 937.1L706.9 938.9L707.3 941.5L708.5 940.5L709.5 940.1L710.8 939.0L710.6 937.7L711.5 937.1L711.8 935.3L712.8 935.3L716.1 935.6L718.0 934.7L721.3 934.0L721.9 933.7L722.6 932.4L722.6 929.9L719.3 929.2L716.1 929.1L712.8 929.4L709.5 928.8L706.2 928.4L703.0 928.1L699.7 927.5L696.4 927.5L693.1 928.0L689.9 928.4L688.6 927.5L686.6 926.8L683.3 927.1L678.7 926.7L676.8 926.5L678.1 925.5L674.8 924.5L672.8 924.0L670.2 925.2L668.3 925.2L665.6 925.5L662.4 925.8L661.1 926.5L657.1 927.5L657.5 926.8L654.5 927.5L652.2 927.3L650.6 927.1L649.6 928.1L648.4 928.6L648.6 929.4L646.7 929.5L644.0 929.9L642.7 930.1L640.1 930.2L636.8 930.7L634.9 930.4L633.6 930.1L633.2 930.7L633.6 931.4L630.9 931.7L627.0 932.7L626.0 931.4L628.3 931.2L631.6 930.7L631.3 930.4L628.3 929.7L626.4 929.5L624.4 929.2L622.4 928.4L620.5 928.5L617.8 929.1L615.9 929.7L614.6 930.3L613.6 931.1L612.9 932.0L611.6 932.7L610.3 933.3L608.4 934.0L608.0 935.0L608.0 936.3L608.7 936.9L609.7 936.9L611.3 936.3L611.6 936.0L612.1 936.4L612.6 937.3L613.1 937.9L612.9 938.4L614.0 938.6L614.2 938.1L615.4 937.9L615.6 937.3L615.6 936.6L616.5 936.1L617.1 935.4L616.1 935.0L616.1 934.0L617.5 933.3L618.5 932.7L618.8 932.0L620.1 931.8L621.3 932.2L620.8 932.7L619.2 933.7L618.8 935.0L619.5 935.4L621.1 935.4L623.1 935.3L624.4 935.8L623.1 936.0L620.7 936.0L620.1 936.6L620.6 937.3L619.2 937.2L618.5 937.7L618.6 938.8L617.8 939.1L617.0 939.2L615.6 939.2L614.0 939.6L612.6 939.4L612.0 939.6L611.9 939.0L611.3 938.9L611.7 937.9L611.6 937.2L610.4 937.5L610.1 938.6L610.4 939.6L609.3 939.9L608.0 940.1L607.7 940.7L607.0 941.3L605.8 941.6L605.7 942.0L604.8 942.4L603.8 942.4L603.8 943.0L601.8 943.2L601.9 943.6L603.3 944.1L604.0 944.8L604.0 945.8L603.8 946.5L602.1 946.5L599.5 946.3L598.9 946.8ZM486.9 932.4L490.2 932.7L491.8 932.0L493.1 931.7L492.1 931.1L489.5 930.7L486.9 929.9ZM601.0 942.1L602.5 941.9L605.7 941.4L605.9 940.4L604.9 940.0L604.6 939.2L603.7 938.5L603.4 937.2L602.3 937.1L602.7 936.5L601.5 936.5L600.7 937.3L601.1 938.1L600.8 938.6L601.6 939.0L602.5 939.0L602.8 939.6L602.8 940.0L601.7 940.3L601.3 941.1L602.6 941.3L601.0 942.1ZM600.8 940.7L600.7 939.6L601.0 939.2L599.9 938.7L599.3 939.0L599.3 939.4L598.2 939.7L598.3 940.8L599.3 941.1L600.8 940.7ZM590.3 933.0L589.0 932.0L590.3 931.4L594.3 931.4L595.8 932.2L595.3 932.8L592.5 933.4L590.3 933.0ZM600.9 951.5L603.4 951.9L605.4 951.0L608.0 950.8L610.4 950.8L611.9 950.6L612.0 951.3L611.4 952.3L611.9 952.8L613.1 953.4L614.7 953.8L616.5 954.7L617.6 954.9L617.9 954.1L619.2 953.4L621.1 954.1L623.7 954.7L625.8 954.4L627.1 954.4L627.6 955.6L627.2 956.7L626.7 957.2L628.0 959.3L629.1 961.2L629.2 962.7L630.0 963.1L630.7 964.8L631.7 965.4L632.6 966.6L633.1 967.1L634.0 968.1L635.8 967.6L638.3 967.1L638.1 968.0L637.7 969.3L636.8 971.0L636.2 972.2L635.2 973.3L633.6 974.6L632.1 975.9L631.1 976.7L630.4 978.0L630.2 979.2L630.6 980.1L630.9 981.6L631.3 982.1L631.3 984.2L631.0 985.4L629.2 986.4L628.5 987.2L627.5 987.9L627.9 989.3L628.0 990.6L626.4 991.5L626.1 992.0L626.0 993.6L625.2 994.1L624.4 995.4L623.1 996.5L622.0 997.0L621.6 997.2L619.5 997.2L617.8 997.7L616.8 997.2L616.7 996.1L616.1 994.5L615.4 993.6L614.7 992.6L614.2 989.8L613.5 988.6L612.5 986.7L612.3 985.8L612.7 984.4L613.7 982.8L613.4 981.3L612.7 978.8L612.7 978.2L612.0 977.5L611.0 976.2L610.8 974.6L611.2 973.3L611.0 972.6L610.3 971.8L608.7 972.1L607.7 970.8L606.5 970.8L604.8 971.3L603.4 971.8L601.8 971.5L599.8 972.0L598.9 971.7L597.3 970.4L596.1 969.3L595.8 968.7L594.9 967.8L593.8 966.8L593.3 965.3L593.9 964.4L594.2 962.8L594.1 962.1L593.6 961.2L593.9 960.3L594.9 958.9L595.7 957.5L596.6 956.6L598.2 955.9L598.3 954.4L599.2 953.2L600.3 952.6L600.9 951.5ZM637.0 982.8L637.8 984.8L637.4 986.4L636.5 988.6L635.8 991.1L634.5 991.7L633.6 991.1L633.1 989.6L633.4 988.3L633.8 986.0L635.2 985.2L636.2 983.9L637.0 982.8ZM679.1 989.3L679.5 991.9L679.1 992.2L680.0 994.5L680.0 996.8L680.7 997.8L682.0 997.8L683.3 997.2L685.6 997.1L687.2 996.0L689.2 995.6L690.7 995.5L692.6 996.4L693.7 997.7L694.9 996.5L695.0 998.1L696.1 998.5L696.3 999.4L697.1 1000.0L698.7 1000.3L700.5 1000.4L701.6 999.6L703.0 999.4L703.0 998.5L703.7 997.2L704.9 995.4L705.3 993.6L704.9 991.6L703.5 989.7L702.6 989.5L701.3 987.7L700.3 986.5L699.9 984.7L698.7 984.1L698.0 981.9L697.6 983.3L697.5 984.7L697.1 986.4L696.1 986.3L694.8 985.5L693.7 984.8L694.3 982.9L693.1 982.8L691.6 982.4L690.8 982.9L689.9 983.5L689.5 984.7L688.4 984.3L687.2 984.2L686.2 985.6L685.3 985.6L684.6 987.1L683.2 988.0L681.7 988.4L679.8 989.2L679.1 989.3ZM699.4 1001.5L701.8 1001.7L701.6 1003.0L700.3 1003.4L699.4 1001.5ZM717.8 997.4L719.0 998.5L719.9 999.2L721.6 999.6L720.6 1000.8L719.3 1002.1L719.0 1001.1L718.5 1000.6L719.1 999.4L717.8 997.4ZM717.9 1001.4L718.9 1002.2L717.9 1003.4L716.7 1004.3L715.4 1005.4L713.8 1005.0L714.4 1003.9L716.4 1002.7L717.9 1001.4ZM690.5 952.6L691.5 951.7L693.5 951.6L694.3 950.6L696.1 950.0L696.4 948.4L697.3 947.8L697.7 949.0L697.1 950.7L696.9 951.5L696.3 952.0L695.6 952.3L694.4 952.3L693.1 953.0L691.5 952.5L690.5 952.6ZM689.7 953.1L690.5 952.7L691.0 953.6L690.5 954.6L689.7 954.3L689.7 953.1ZM696.4 947.7L697.2 946.6L697.6 945.2L698.7 945.9L700.0 946.6L698.6 947.4L697.4 947.1L696.4 947.7ZM697.7 944.8L698.7 944.3L698.4 942.5L698.5 940.5L698.0 939.4L697.7 941.5L697.7 944.8ZM683.4 959.8L684.3 958.3L684.6 958.9L684.0 960.5L683.4 959.8ZM675.9 962.3L677.1 961.7L677.4 962.1L676.8 962.9L675.9 962.8L675.9 962.3ZM657.1 970.6L657.0 969.3L657.3 968.5L658.0 969.3L658.3 970.0L657.9 970.8L657.1 971.0L657.1 970.6ZM667.1 971.3L668.6 971.5L670.4 973.3L672.8 975.6L674.2 976.9L674.2 978.7L673.2 978.8L671.5 977.5L670.2 975.6L669.2 973.8L667.1 971.3ZM673.6 979.4L675.5 979.0L677.1 979.4L678.4 979.4L679.7 980.0L679.7 980.6L677.4 980.3L675.5 980.0L673.8 979.5L673.6 979.4ZM676.1 973.9L676.4 975.6L677.1 976.9L679.4 977.2L681.0 977.2L680.7 975.6L681.9 974.2L682.5 971.6L681.7 970.6L680.7 970.6L680.3 971.6L679.1 972.6L677.8 973.3L676.1 973.9ZM683.0 978.5L682.7 977.2L682.5 976.7L683.0 974.7L683.3 974.4L685.6 974.4L686.6 973.9L685.9 974.7L684.0 974.6L684.0 975.6L685.5 975.5L684.3 976.1L685.0 977.8L684.3 978.0L683.6 976.8L683.6 978.5L683.0 978.5ZM690.5 975.6L692.5 975.6L693.1 977.1L694.8 975.9L697.1 976.6L699.7 977.7L700.3 978.5L701.3 978.8L701.0 980.0L702.6 981.1L703.3 981.8L701.0 981.4L700.0 980.1L698.7 980.3L698.4 980.9L697.1 980.9L695.8 980.2L695.1 980.4L695.6 979.5L695.1 978.4L693.5 977.8L691.5 977.5L691.2 976.7L692.0 976.3L691.2 976.2L690.5 975.6ZM683.3 964.4L683.7 962.8L684.8 962.8L684.8 964.1L684.4 964.5L684.6 965.7L685.9 966.4L685.6 966.7L684.3 965.9L683.7 965.5L683.3 964.4ZM684.6 970.3L685.7 969.7L686.9 968.5L687.6 970.0L687.2 970.8L686.6 971.2L685.9 970.8L684.6 970.3ZM549.1 960.6L551.1 959.7L552.4 959.8L554.3 960.7L556.2 961.6L554.0 961.9L553.7 961.3L552.0 960.7L550.7 960.4L549.1 960.6ZM556.0 962.9L557.1 961.9L558.9 961.9L560.0 962.7L558.1 963.3L556.0 962.9Z" fill="#fff" stroke="#000" stroke-width="2.1" stroke-linejoin="round"/><path d="M552.4 926.8L557.6 928.4L560.9 929.7L564.2 931.4L562.5 933.3L558.9 933.8L556.3 932.7L553.7 932.7L556.3 931.1L552.4 929.4L548.4 928.8L547.1 927.1L552.4 926.8ZM545.8 922.2L552.4 920.6L562.2 920.6L564.2 921.2L557.6 923.2L553.7 924.8L545.8 924.5L545.8 922.2ZM527.5 927.1L536.0 926.8L539.3 928.4L537.3 930.1L531.4 930.1L527.5 929.1L527.5 927.1ZM522.9 927.8L527.5 926.1L529.5 926.8L526.2 928.1L522.9 927.8ZM541.9 924.5L552.4 924.8L552.4 926.1L544.5 926.1L541.9 924.5ZM529.5 925.2L536.0 924.8L540.6 925.8L534.0 926.0L529.5 925.2ZM541.2 926.8L545.8 926.6L546.5 928.1L542.6 928.1L541.2 926.8ZM548.4 931.7L552.4 932.4L551.7 933.3L548.4 933.0L548.4 931.7ZM612.0 923.5L615.2 922.5L619.2 922.2L622.4 922.5L618.5 923.9L615.9 924.8L613.9 924.3L612.0 923.5ZM638.8 928.1L641.4 926.8L644.0 925.2L649.3 924.5L646.7 925.6L642.7 927.1L641.4 928.6L638.8 928.1ZM666.9 923.2L670.2 922.9L673.5 923.5L670.2 924.0L666.9 923.2ZM693.8 925.5L697.7 925.2L702.3 925.5L699.0 925.9L693.8 925.5ZM541.2 922.2L545.8 921.6L547.8 922.5L544.5 923.5L541.2 922.2ZM538.0 926.8L540.6 926.6L541.2 927.8L538.6 927.9L538.0 926.8ZM539.9 929.4L541.9 929.2L542.6 930.1L540.6 930.2L539.9 929.4ZM536.0 924.8L540.6 924.5L541.2 925.5L537.3 925.6L536.0 924.8Z" fill="#fff" stroke="#000" stroke-width="3.2" stroke-linejoin="round"/><path d="M623.1 947.7L623.7 945.8L624.7 944.5L626.7 944.8L627.7 945.3L629.0 945.3L629.6 944.1L630.6 944.1L629.6 945.5L631.9 947.4L630.9 948.1L628.3 947.6L625.7 947.5L623.7 947.9ZM635.5 945.8L637.2 944.5L639.5 944.1L639.8 945.5L638.1 945.8L638.5 947.1L639.5 947.7L639.8 949.4L640.1 950.5L638.8 950.8L637.2 950.4L636.8 948.7L636.0 947.5L635.5 946.8ZM642.9 946.2L644.4 946.1L645.0 945.1L644.7 944.4L643.4 944.8L642.9 945.5ZM652.9 944.7L653.9 944.4L656.5 944.6L656.5 945.1L654.5 944.9L653.2 944.9ZM672.7 941.1L673.8 940.5L675.1 939.9L676.4 938.6L676.6 938.9L675.5 940.2L674.5 940.9L673.2 941.2ZM544.5 944.3L546.5 943.2L549.1 943.8L549.4 944.5L547.1 944.5ZM547.1 947.4L547.8 944.8L549.8 944.8L551.4 945.1L552.4 945.8L552.7 946.4L555.0 946.1L554.7 946.6L553.0 946.6L550.4 947.7L548.4 947.6ZM522.9 932.4L525.5 931.1L527.5 931.1L527.5 932.0L524.9 932.5ZM528.1 935.0L530.8 934.0L532.7 934.0L532.1 934.7L529.5 935.1ZM540.6 941.9L541.6 939.7L540.9 939.9L539.9 941.5ZM625.6 975.2L627.0 975.2L627.0 976.9L625.7 976.7ZM624.4 935.6L626.0 934.7L627.7 934.3L628.0 935.0L625.7 935.6ZM619.2 936.6L620.5 935.6L623.7 935.5L623.7 936.0L620.5 936.2Z" fill="#111" stroke="#000" stroke-width="1.4" stroke-linejoin="round"/><path d="M486.9 1026.4L488.5 1025.9L490.2 1026.2L491.8 1025.9L493.4 1025.6L495.1 1026.7L496.7 1026.2L498.4 1026.1L500.0 1026.7L501.6 1026.2L503.3 1026.4L504.9 1025.6L506.5 1026.0L508.2 1025.8L509.8 1025.2L511.5 1024.9L513.1 1024.2L514.7 1024.4L516.4 1024.3L518.0 1023.8L519.6 1023.6L521.3 1024.1L522.9 1023.7L524.5 1023.4L526.2 1023.1L527.8 1023.4L529.5 1023.4L531.1 1024.0L532.7 1023.4L534.4 1023.6L536.0 1023.7L537.6 1023.2L539.3 1022.8L540.9 1023.1L542.6 1022.9L544.2 1022.0L545.8 1022.7L547.5 1022.3L549.1 1022.4L550.7 1023.1L552.4 1022.9L554.0 1022.3L555.6 1021.5L557.9 1020.1L560.2 1019.3L562.8 1017.0L564.8 1016.5L566.8 1016.3L565.5 1017.7L564.2 1021.0L565.5 1023.0L567.1 1023.7L568.7 1024.9L570.4 1025.0L572.0 1025.4L573.7 1025.8L575.3 1026.1L576.9 1025.7L578.6 1026.0L580.2 1025.4L581.8 1025.4L583.5 1024.7L585.1 1025.1L586.7 1023.7L588.4 1023.6L590.0 1023.6L591.7 1023.3L593.3 1022.4L594.9 1022.1L596.6 1021.3L598.2 1021.9L599.8 1021.6L601.5 1021.0L603.1 1020.8L604.8 1021.2L606.4 1020.8L608.0 1020.8L609.7 1020.3L611.3 1020.2L612.9 1021.1L614.6 1020.8L616.2 1020.9L617.8 1020.4L619.5 1020.4L621.1 1020.7L622.8 1021.0L624.4 1019.9L626.0 1020.6L627.7 1020.1L629.3 1020.4L630.9 1020.0L632.6 1019.9L634.2 1019.1L635.8 1019.0L637.5 1019.0L639.1 1018.8L640.8 1018.5L642.4 1019.2L644.0 1019.4L645.7 1019.0L647.3 1019.7L648.9 1018.9L650.6 1019.5L652.2 1020.1L653.9 1020.3L655.5 1019.5L657.1 1018.8L658.8 1018.4L660.4 1018.9L662.0 1018.7L663.7 1018.1L665.3 1018.8L666.9 1018.0L668.6 1018.0L670.2 1018.3L671.9 1018.1L673.5 1017.7L675.1 1018.0L676.8 1018.4L678.4 1017.7L680.0 1018.3L681.7 1018.3L683.3 1018.7L685.0 1018.3L686.6 1018.0L688.2 1017.7L689.9 1018.2L691.5 1018.2L693.1 1017.9L694.8 1018.1L696.4 1018.5L698.0 1018.4L699.7 1018.7L701.3 1018.7L703.0 1019.0L704.6 1019.9L706.2 1019.6L707.9 1020.3L709.5 1020.3L711.1 1021.5L712.8 1022.1L714.4 1022.2L716.1 1023.8L717.7 1024.5L719.3 1025.2L721.0 1025.7L722.6 1025.9L722.6 1037.1L486.9 1037.1Z" fill="#fff" stroke="#000" stroke-width="2.2" stroke-linejoin="round"/></g><rect x="486.9" y="916.0" width="235.7" height="117.8" fill="none" stroke="#000" stroke-width="1.8"/>
<rect x="400.90" y="276.00" width="7.50" height="15.20" fill="#5e6866"/><rect x="400.90" y="261.10" width="7.50" height="15.20" fill="#1b1bf2"/><rect x="400.90" y="246.20" width="7.50" height="15.20" fill="#3670f2"/><rect x="400.90" y="231.30" width="7.50" height="15.20" fill="#356ef2"/><rect x="400.90" y="216.40" width="7.50" height="15.20" fill="#2a42ee"/><rect x="400.90" y="201.50" width="7.50" height="15.20" fill="#fc1212"/><rect x="400.90" y="186.60" width="7.50" height="15.20" fill="#f4542c"/><rect x="400.90" y="171.70" width="7.50" height="15.20" fill="#e65a12"/><rect x="400.90" y="156.80" width="7.50" height="15.20" fill="#dc1a2a"/><rect x="400.90" y="141.90" width="7.50" height="15.20" fill="#e8edef"/><path d="M400.90 141.90L404.65 133.80L408.40 141.90Z" fill="#ffffff"/><path d="M400.90 290.90L404.65 298.50L408.40 290.90Z" fill="#4a5250"/><path d="M399.10 290.90H408.40M399.10 261.10H408.40M399.10 231.30H408.40M399.10 201.50H408.40M399.10 171.70H408.40M399.10 141.90H408.40" stroke="#000" stroke-width="1.3"/><path d="M400.90 141.90L404.65 133.80L408.40 141.90L408.40 290.90L404.65 298.50L400.90 290.90Z" fill="none" stroke="#000" stroke-width="1.5" stroke-linejoin="miter"/><rect x="737.20" y="393.25" width="7.60" height="15.15" fill="#5e6866"/><rect x="737.20" y="378.40" width="7.60" height="15.15" fill="#1b1bf2"/><rect x="737.20" y="363.55" width="7.60" height="15.15" fill="#3670f2"/><rect x="737.20" y="348.70" width="7.60" height="15.15" fill="#356ef2"/><rect x="737.20" y="333.85" width="7.60" height="15.15" fill="#2a42ee"/><rect x="737.20" y="319.00" width="7.60" height="15.15" fill="#fc1212"/><rect x="737.20" y="304.15" width="7.60" height="15.15" fill="#f4542c"/><rect x="737.20" y="289.30" width="7.60" height="15.15" fill="#e65a12"/><rect x="737.20" y="274.45" width="7.60" height="15.15" fill="#dc1a2a"/><rect x="737.20" y="259.60" width="7.60" height="15.15" fill="#e8edef"/><path d="M737.20 259.60L741.00 252.00L744.80 259.60Z" fill="#ffffff"/><path d="M737.20 408.10L741.00 415.70L744.80 408.10Z" fill="#4a5250"/><path d="M735.40 408.10H744.80M735.40 378.40H744.80M735.40 348.70H744.80M735.40 319.00H744.80M735.40 289.30H744.80M735.40 259.60H744.80" stroke="#000" stroke-width="1.3"/><path d="M737.20 259.60L741.00 252.00L744.80 259.60L744.80 408.10L741.00 415.70L737.20 408.10Z" fill="none" stroke="#000" stroke-width="1.5" stroke-linejoin="miter"/><rect x="400.90" y="905.20" width="7.50" height="15.20" fill="#5e6866"/><rect x="400.90" y="890.30" width="7.50" height="15.20" fill="#1b1bf2"/><rect x="400.90" y="875.40" width="7.50" height="15.20" fill="#3670f2"/><rect x="400.90" y="860.50" width="7.50" height="15.20" fill="#356ef2"/><rect x="400.90" y="845.60" width="7.50" height="15.20" fill="#2a42ee"/><rect x="400.90" y="830.70" width="7.50" height="15.20" fill="#fc1212"/><rect x="400.90" y="815.80" width="7.50" height="15.20" fill="#f4542c"/><rect x="400.90" y="800.90" width="7.50" height="15.20" fill="#e65a12"/><rect x="400.90" y="786.00" width="7.50" height="15.20" fill="#dc1a2a"/><rect x="400.90" y="771.10" width="7.50" height="15.20" fill="#e8edef"/><path d="M400.90 771.10L404.65 763.00L408.40 771.10Z" fill="#ffffff"/><path d="M400.90 920.10L404.65 927.70L408.40 920.10Z" fill="#4a5250"/><path d="M399.10 920.10H408.40M399.10 890.30H408.40M399.10 860.50H408.40M399.10 830.70H408.40M399.10 800.90H408.40M399.10 771.10H408.40" stroke="#000" stroke-width="1.3"/><path d="M400.90 771.10L404.65 763.00L408.40 771.10L408.40 920.10L404.65 927.70L400.90 920.10Z" fill="none" stroke="#000" stroke-width="1.5" stroke-linejoin="miter"/><rect x="737.20" y="1034.45" width="7.60" height="15.15" fill="#5e6866"/><rect x="737.20" y="1019.60" width="7.60" height="15.15" fill="#1b1bf2"/><rect x="737.20" y="1004.75" width="7.60" height="15.15" fill="#3670f2"/><rect x="737.20" y="989.90" width="7.60" height="15.15" fill="#356ef2"/><rect x="737.20" y="975.05" width="7.60" height="15.15" fill="#2a42ee"/><rect x="737.20" y="960.20" width="7.60" height="15.15" fill="#fc1212"/><rect x="737.20" y="945.35" width="7.60" height="15.15" fill="#f4542c"/><rect x="737.20" y="930.50" width="7.60" height="15.15" fill="#e65a12"/><rect x="737.20" y="915.65" width="7.60" height="15.15" fill="#dc1a2a"/><rect x="737.20" y="900.80" width="7.60" height="15.15" fill="#e8edef"/><path d="M737.20 900.80L741.00 893.20L744.80 900.80Z" fill="#ffffff"/><path d="M737.20 1049.30L741.00 1056.90L744.80 1049.30Z" fill="#4a5250"/><path d="M735.40 1049.30H744.80M735.40 1019.60H744.80M735.40 989.90H744.80M735.40 960.20H744.80M735.40 930.50H744.80M735.40 900.80H744.80" stroke="#000" stroke-width="1.3"/><path d="M737.20 900.80L741.00 893.20L744.80 900.80L744.80 1049.30L741.00 1056.90L737.20 1049.30Z" fill="none" stroke="#000" stroke-width="1.5" stroke-linejoin="miter"/>
<rect x="614.4" y="443.6" width="168.5" height="65.8" fill="#fff" stroke="#000" stroke-width="1.6"/><path d="M628.3 460.5H649.6" stroke="#2f962f" stroke-width="2"/><path d="M627.8 489.6H661.8" stroke="#2c3ec8" stroke-width="2"/><rect x="614.4" y="1093.3" width="168.5" height="65.8" fill="#fff" stroke="#000" stroke-width="1.6"/><path d="M628.3 1110.2H649.6" stroke="#2f962f" stroke-width="2"/><path d="M627.8 1139.3H661.8" stroke="#2c3ec8" stroke-width="2"/>
<g fill="#000" stroke="#000" stroke-width="0.35" stroke-linejoin="round"><text x="68.82" y="29.72" font-size="34.68" font-weight="bold" textLength="43.43" lengthAdjust="spacingAndGlyphs">(a)</text><text x="137.20" y="29.80" font-size="30.87" textLength="636.00" lengthAdjust="spacingAndGlyphs">Average observation weight, Salinity,  EN4</text><text transform="translate(28.80,444.30) rotate(-90)" x="0" y="0" font-size="30.29" textLength="298.17" lengthAdjust="spacingAndGlyphs">Observational weight</text><text x="423.03" y="592.00" font-size="28.26" textLength="62.46" lengthAdjust="spacingAndGlyphs">Time</text><text x="64.89" y="527.50" font-size="26.67" textLength="38.63" lengthAdjust="spacingAndGlyphs">0.0</text><text x="64.88" y="437.12" font-size="26.67" textLength="38.92" lengthAdjust="spacingAndGlyphs">0.2</text><text x="64.90" y="346.74" font-size="26.67" textLength="38.33" lengthAdjust="spacingAndGlyphs">0.4</text><text x="64.89" y="256.36" font-size="26.67" textLength="38.63" lengthAdjust="spacingAndGlyphs">0.6</text><text x="64.89" y="165.98" font-size="26.67" textLength="38.63" lengthAdjust="spacingAndGlyphs">0.8</text><text x="64.66" y="75.60" font-size="26.67" textLength="38.86" lengthAdjust="spacingAndGlyphs">1.0</text><text x="63.50" y="547.50" font-size="24.20" textLength="102.92" lengthAdjust="spacingAndGlyphs">Jan 1993</text><text x="225.90" y="547.50" font-size="24.20" textLength="102.21" lengthAdjust="spacingAndGlyphs">Jan 1998</text><text x="389.71" y="547.50" font-size="24.20" textLength="101.60" lengthAdjust="spacingAndGlyphs">Jan 2003</text><text x="552.40" y="547.50" font-size="24.20" textLength="102.01" lengthAdjust="spacingAndGlyphs">Jan 2008</text><text x="202.96" y="125.30" font-size="18.55" textLength="125.46" lengthAdjust="spacingAndGlyphs">Obs. weights,</text><text x="208.48" y="146.00" font-size="18.55" textLength="126.05" lengthAdjust="spacingAndGlyphs">surface, 1993</text><text x="539.26" y="242.70" font-size="17.97" textLength="125.56" lengthAdjust="spacingAndGlyphs">Obs. weights,</text><text x="544.37" y="263.40" font-size="18.26" textLength="126.45" lengthAdjust="spacingAndGlyphs">surface, 2010</text><text x="686.24" y="468.90" font-size="24.06" textLength="89.76" lengthAdjust="spacingAndGlyphs">0-700m</text><text x="686.24" y="498.20" font-size="24.06" textLength="89.76" lengthAdjust="spacingAndGlyphs">0-300m</text><text x="58.17" y="662.72" font-size="32.77" font-weight="bold" textLength="46.64" lengthAdjust="spacingAndGlyphs">(b)</text><text x="130.70" y="662.40" font-size="30.72" textLength="644.76" lengthAdjust="spacingAndGlyphs">Average observation weight, Temperature,</text><text x="413.67" y="699.80" font-size="31.30" textLength="59.21" lengthAdjust="spacingAndGlyphs">EN4</text><text transform="translate(19.20,1088.94) rotate(-90)" x="0" y="0" font-size="27.25" textLength="268.18" lengthAdjust="spacingAndGlyphs">Observational weight</text><text x="424.45" y="1242.70" font-size="28.26" textLength="60.19" lengthAdjust="spacingAndGlyphs">Time</text><text x="47.77" y="1176.40" font-size="24.64" textLength="54.75" lengthAdjust="spacingAndGlyphs">0.50</text><text x="47.77" y="1126.21" font-size="24.64" textLength="54.75" lengthAdjust="spacingAndGlyphs">0.55</text><text x="47.77" y="1076.02" font-size="24.64" textLength="54.75" lengthAdjust="spacingAndGlyphs">0.60</text><text x="47.77" y="1025.83" font-size="24.64" textLength="54.75" lengthAdjust="spacingAndGlyphs">0.65</text><text x="47.77" y="975.64" font-size="24.64" textLength="54.75" lengthAdjust="spacingAndGlyphs">0.70</text><text x="47.77" y="925.45" font-size="24.64" textLength="54.75" lengthAdjust="spacingAndGlyphs">0.75</text><text x="47.77" y="875.26" font-size="24.64" textLength="54.75" lengthAdjust="spacingAndGlyphs">0.80</text><text x="47.77" y="825.07" font-size="24.64" textLength="54.75" lengthAdjust="spacingAndGlyphs">0.85</text><text x="47.77" y="774.88" font-size="24.64" textLength="54.75" lengthAdjust="spacingAndGlyphs">0.90</text><text x="47.77" y="724.69" font-size="24.64" textLength="54.75" lengthAdjust="spacingAndGlyphs">0.95</text><text x="63.40" y="1197.40" font-size="23.48" textLength="102.41" lengthAdjust="spacingAndGlyphs">Jan 1993</text><text x="225.81" y="1197.40" font-size="23.48" textLength="101.70" lengthAdjust="spacingAndGlyphs">Jan 1998</text><text x="389.61" y="1197.40" font-size="23.48" textLength="101.09" lengthAdjust="spacingAndGlyphs">Jan 2003</text><text x="552.31" y="1197.40" font-size="23.48" textLength="101.50" lengthAdjust="spacingAndGlyphs">Jan 2008</text><text x="202.96" y="755.00" font-size="18.55" textLength="125.46" lengthAdjust="spacingAndGlyphs">Obs. weights,</text><text x="208.48" y="775.70" font-size="18.55" textLength="126.05" lengthAdjust="spacingAndGlyphs">surface, 1993</text><text x="539.26" y="884.00" font-size="17.97" textLength="125.56" lengthAdjust="spacingAndGlyphs">Obs. weights,</text><text x="544.37" y="904.70" font-size="18.26" textLength="126.45" lengthAdjust="spacingAndGlyphs">surface, 2010</text><text x="686.24" y="1118.60" font-size="24.06" textLength="89.76" lengthAdjust="spacingAndGlyphs">0-700m</text><text x="686.24" y="1147.90" font-size="24.06" textLength="89.76" lengthAdjust="spacingAndGlyphs">0-300m</text><text x="415.57" y="294.80" font-size="12.61" textLength="21.97" lengthAdjust="spacingAndGlyphs">0.0</text><text x="415.56" y="265.00" font-size="12.61" textLength="22.14" lengthAdjust="spacingAndGlyphs">0.2</text><text x="415.57" y="235.20" font-size="12.61" textLength="21.80" lengthAdjust="spacingAndGlyphs">0.4</text><text x="415.57" y="205.40" font-size="12.61" textLength="21.97" lengthAdjust="spacingAndGlyphs">0.6</text><text x="415.57" y="175.60" font-size="12.61" textLength="21.97" lengthAdjust="spacingAndGlyphs">0.8</text><text x="415.43" y="145.80" font-size="12.61" textLength="22.11" lengthAdjust="spacingAndGlyphs">1.0</text><text x="752.37" y="412.00" font-size="12.61" textLength="21.86" lengthAdjust="spacingAndGlyphs">0.0</text><text x="752.37" y="382.30" font-size="12.61" textLength="22.03" lengthAdjust="spacingAndGlyphs">0.2</text><text x="752.38" y="352.60" font-size="12.61" textLength="21.69" lengthAdjust="spacingAndGlyphs">0.4</text><text x="752.37" y="322.90" font-size="12.61" textLength="21.86" lengthAdjust="spacingAndGlyphs">0.6</text><text x="752.37" y="293.20" font-size="12.61" textLength="21.86" lengthAdjust="spacingAndGlyphs">0.8</text><text x="752.23" y="263.50" font-size="12.61" textLength="22.00" lengthAdjust="spacingAndGlyphs">1.0</text><text x="415.57" y="924.00" font-size="12.61" textLength="21.97" lengthAdjust="spacingAndGlyphs">0.0</text><text x="415.56" y="894.20" font-size="12.61" textLength="22.14" lengthAdjust="spacingAndGlyphs">0.2</text><text x="415.57" y="864.40" font-size="12.61" textLength="21.80" lengthAdjust="spacingAndGlyphs">0.4</text><text x="415.57" y="834.60" font-size="12.61" textLength="21.97" lengthAdjust="spacingAndGlyphs">0.6</text><text x="415.57" y="804.80" font-size="12.61" textLength="21.97" lengthAdjust="spacingAndGlyphs">0.8</text><text x="415.43" y="775.00" font-size="12.61" textLength="22.11" lengthAdjust="spacingAndGlyphs">1.0</text><text x="752.37" y="1053.20" font-size="12.61" textLength="21.86" lengthAdjust="spacingAndGlyphs">0.0</text><text x="752.37" y="1023.50" font-size="12.61" textLength="22.03" lengthAdjust="spacingAndGlyphs">0.2</text><text x="752.38" y="993.80" font-size="12.61" textLength="21.69" lengthAdjust="spacingAndGlyphs">0.4</text><text x="752.37" y="964.10" font-size="12.61" textLength="21.86" lengthAdjust="spacingAndGlyphs">0.6</text><text x="752.37" y="934.40" font-size="12.61" textLength="21.86" lengthAdjust="spacingAndGlyphs">0.8</text><text x="752.23" y="904.70" font-size="12.61" textLength="22.00" lengthAdjust="spacingAndGlyphs">1.0</text></g>
</svg>
</body></html>
